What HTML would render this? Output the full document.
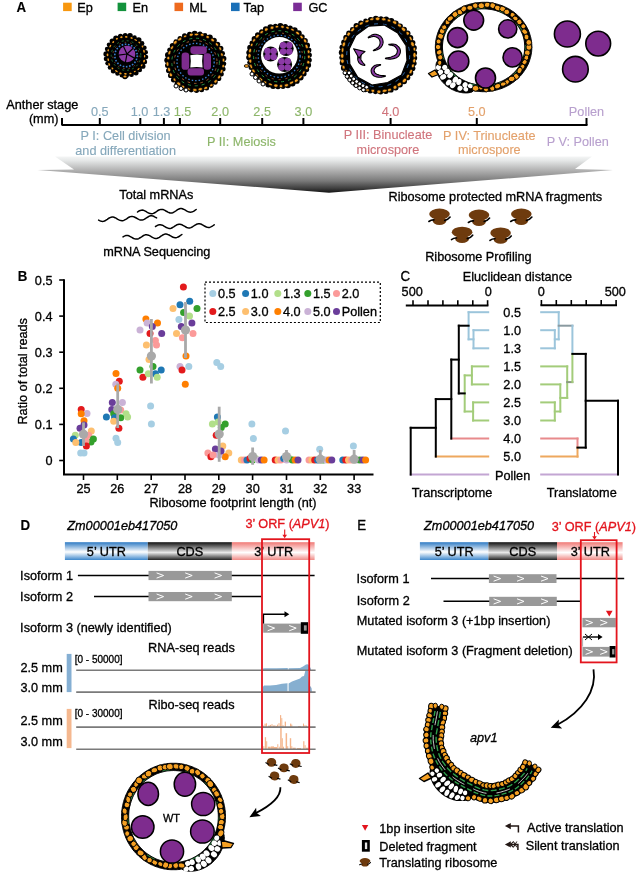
<!DOCTYPE html>
<html><head><meta charset="utf-8"><title>Figure</title>
<style>html,body{margin:0;padding:0;background:#fff;} svg{display:block;} text{font-family:"Liberation Sans", Arial, sans-serif;}</style>
</head><body>
<svg width="637" height="878" viewBox="0 0 637 878">
<rect width="637" height="878" fill="#fff"/>
<text transform="translate(16.60,11.70) scale(1,1.07)" font-size="13.3" text-anchor="start" fill="#000" stroke="#000" stroke-width="0.12" font-weight="bold" font-style="normal" >A</text>
<rect x="63.1" y="2.7" width="8.6" height="8.4" fill="#f7970f"/>
<text transform="translate(77.30,11.60) scale(1,1.07)" font-size="12.7" text-anchor="start" fill="#000" stroke="#000" stroke-width="0.3" font-weight="normal" font-style="normal" >Ep</text>
<rect x="117.6" y="2.7" width="8.6" height="8.4" fill="#13923c"/>
<text transform="translate(132.50,11.60) scale(1,1.07)" font-size="12.7" text-anchor="start" fill="#000" stroke="#000" stroke-width="0.3" font-weight="normal" font-style="normal" >En</text>
<rect x="174.5" y="2.7" width="8.6" height="8.4" fill="#ee6a1e"/>
<text transform="translate(189.20,11.60) scale(1,1.07)" font-size="12.7" text-anchor="start" fill="#000" stroke="#000" stroke-width="0.3" font-weight="normal" font-style="normal" >ML</text>
<rect x="231" y="2.7" width="8.6" height="8.4" fill="#1a70b8"/>
<text transform="translate(243.60,11.60) scale(1,1.07)" font-size="12.7" text-anchor="start" fill="#000" stroke="#000" stroke-width="0.3" font-weight="normal" font-style="normal" >Tap</text>
<rect x="293.2" y="2.7" width="8.6" height="8.4" fill="#7b2d96"/>
<text transform="translate(308.50,11.60) scale(1,1.07)" font-size="12.7" text-anchor="start" fill="#000" stroke="#000" stroke-width="0.3" font-weight="normal" font-style="normal" >GC</text>
<text transform="translate(6.30,109.00) scale(1,1.07)" font-size="12.7" text-anchor="start" fill="#000" stroke="#000" stroke-width="0.3" font-weight="normal" font-style="normal" >Anther stage</text>
<text transform="translate(58.50,122.60) scale(1,1.07)" font-size="12.7" text-anchor="end" fill="#000" stroke="#000" stroke-width="0.3" font-weight="normal" font-style="normal" >(mm)</text>
<line x1="61.5" y1="125" x2="587.5" y2="125" stroke="#000" stroke-width="2"/>
<line x1="62" y1="118" x2="62" y2="125" stroke="#000" stroke-width="2"/>
<line x1="99.8" y1="118" x2="99.8" y2="125" stroke="#000" stroke-width="2"/>
<text transform="translate(99.80,116.10) scale(1,1.07)" font-size="12.7" text-anchor="middle" fill="#86a8bb" stroke="#86a8bb" stroke-width="0.12" font-weight="normal" font-style="normal" >0.5</text>
<line x1="140.3" y1="118" x2="140.3" y2="125" stroke="#000" stroke-width="2"/>
<text transform="translate(139.60,116.10) scale(1,1.07)" font-size="12.7" text-anchor="middle" fill="#86a8bb" stroke="#86a8bb" stroke-width="0.12" font-weight="normal" font-style="normal" >1.0</text>
<line x1="163.9" y1="118" x2="163.9" y2="125" stroke="#000" stroke-width="2"/>
<text transform="translate(161.60,116.10) scale(1,1.07)" font-size="12.7" text-anchor="middle" fill="#86a8bb" stroke="#86a8bb" stroke-width="0.12" font-weight="normal" font-style="normal" >1.3</text>
<line x1="179.9" y1="118" x2="179.9" y2="125" stroke="#000" stroke-width="2"/>
<text transform="translate(182.60,116.10) scale(1,1.07)" font-size="12.7" text-anchor="middle" fill="#8db66a" stroke="#8db66a" stroke-width="0.12" font-weight="normal" font-style="normal" >1.5</text>
<line x1="220.2" y1="118" x2="220.2" y2="125" stroke="#000" stroke-width="2"/>
<text transform="translate(220.20,116.10) scale(1,1.07)" font-size="12.7" text-anchor="middle" fill="#8db66a" stroke="#8db66a" stroke-width="0.12" font-weight="normal" font-style="normal" >2.0</text>
<line x1="262.2" y1="118" x2="262.2" y2="125" stroke="#000" stroke-width="2"/>
<text transform="translate(262.20,116.10) scale(1,1.07)" font-size="12.7" text-anchor="middle" fill="#8db66a" stroke="#8db66a" stroke-width="0.12" font-weight="normal" font-style="normal" >2.5</text>
<line x1="303.4" y1="118" x2="303.4" y2="125" stroke="#000" stroke-width="2"/>
<text transform="translate(303.40,116.10) scale(1,1.07)" font-size="12.7" text-anchor="middle" fill="#8db66a" stroke="#8db66a" stroke-width="0.12" font-weight="normal" font-style="normal" >3.0</text>
<line x1="390.6" y1="118" x2="390.6" y2="125" stroke="#000" stroke-width="2"/>
<text transform="translate(390.60,116.10) scale(1,1.07)" font-size="12.7" text-anchor="middle" fill="#d0757d" stroke="#d0757d" stroke-width="0.12" font-weight="normal" font-style="normal" >4.0</text>
<line x1="476.8" y1="118" x2="476.8" y2="125" stroke="#000" stroke-width="2"/>
<text transform="translate(476.80,116.10) scale(1,1.07)" font-size="12.7" text-anchor="middle" fill="#e3a16b" stroke="#e3a16b" stroke-width="0.12" font-weight="normal" font-style="normal" >5.0</text>
<line x1="586.5" y1="118" x2="586.5" y2="125" stroke="#000" stroke-width="2"/>
<text transform="translate(586.50,116.10) scale(1,1.07)" font-size="12.7" text-anchor="middle" fill="#b8a0ce" stroke="#b8a0ce" stroke-width="0.12" font-weight="normal" font-style="normal" >Pollen</text>
<text transform="translate(125.60,139.80) scale(1,1.07)" font-size="12.7" text-anchor="middle" fill="#86a8bb" stroke="#86a8bb" stroke-width="0.12" font-weight="normal" font-style="normal" >P I: Cell division</text>
<text transform="translate(125.60,154.60) scale(1,1.07)" font-size="12.7" text-anchor="middle" fill="#86a8bb" stroke="#86a8bb" stroke-width="0.12" font-weight="normal" font-style="normal" >and differentiation</text>
<text transform="translate(241.40,145.80) scale(1,1.07)" font-size="12.7" text-anchor="middle" fill="#8db66a" stroke="#8db66a" stroke-width="0.12" font-weight="normal" font-style="normal" >P II: Meiosis</text>
<text transform="translate(388.00,139.00) scale(1,1.07)" font-size="12.7" text-anchor="middle" fill="#d0757d" stroke="#d0757d" stroke-width="0.12" font-weight="normal" font-style="normal" >P III: Binucleate</text>
<text transform="translate(388.00,154.40) scale(1,1.07)" font-size="12.7" text-anchor="middle" fill="#d0757d" stroke="#d0757d" stroke-width="0.12" font-weight="normal" font-style="normal" >microspore</text>
<text transform="translate(489.30,139.80) scale(1,1.07)" font-size="12.7" text-anchor="middle" fill="#e3a16b" stroke="#e3a16b" stroke-width="0.12" font-weight="normal" font-style="normal" >P IV: Trinucleate</text>
<text transform="translate(489.30,154.40) scale(1,1.07)" font-size="12.7" text-anchor="middle" fill="#e3a16b" stroke="#e3a16b" stroke-width="0.12" font-weight="normal" font-style="normal" >microspore</text>
<text transform="translate(577.70,146.00) scale(1,1.07)" font-size="12.7" text-anchor="middle" fill="#b8a0ce" stroke="#b8a0ce" stroke-width="0.12" font-weight="normal" font-style="normal" >P V: Pollen</text>
<defs><linearGradient id="gA" x1="0" y1="156" x2="0" y2="192.5" gradientUnits="userSpaceOnUse"><stop offset="0" stop-color="#f6f7f7"/><stop offset="0.12" stop-color="#e6e8e8"/><stop offset="0.4" stop-color="#b0b0b0"/><stop offset="0.68" stop-color="#7a7a7a"/><stop offset="0.9" stop-color="#3a3a3a"/><stop offset="1" stop-color="#151515"/></linearGradient></defs>
<polygon points="55,156.5 592,156.5 575,169 613,170 329,192.7 37.5,170 74,169.5" fill="url(#gA)"/>
<text transform="translate(156.30,198.70) scale(1,1.07)" font-size="12.7" text-anchor="middle" fill="#000" stroke="#000" stroke-width="0.3" font-weight="normal" font-style="normal" >Total mRNAs</text>
<text transform="translate(156.80,255.80) scale(1,1.07)" font-size="12.7" text-anchor="middle" fill="#000" stroke="#000" stroke-width="0.3" font-weight="normal" font-style="normal" >mRNA Sequencing</text>
<polyline points="137.5,212.0 138.4,211.3 139.4,210.8 140.4,210.4 141.3,210.2 142.3,210.1 143.3,210.3 144.3,210.6 145.3,211.1 146.3,211.7 147.3,212.3 148.3,212.8 149.3,213.3 150.3,213.6 151.3,213.7 152.3,213.7 153.2,213.4 154.2,213.0 155.1,212.5 156.1,211.8 157.1,211.2 158.0,210.5 159.0,210.0 159.9,209.6 160.9,209.4 161.9,209.4 162.9,209.6 163.9,209.9 164.9,210.4 165.9,211.0 166.9,211.5 167.9,212.1 168.9,212.5 169.9,212.9 170.8,213.0 171.8,212.9 172.8,212.7 173.8,212.2 174.7,211.7 175.7,211.0 176.6,210.3 177.6,209.7 178.5,209.2 179.5,208.8 180.5,208.6 181.4,208.6 182.4,208.8 183.4,209.2 184.4,209.7 185.4,210.2 186.4,210.8 187.4,211.4 188.4,211.8 189.4,212.1 190.4,212.2 191.4,212.1 192.4,211.9 193.3,211.4 194.3,210.8 195.2,210.2 196.2,209.5" fill="none" stroke="#000" stroke-width="1.5" stroke-linecap="round"/>
<polyline points="98.6,220.1 99.6,220.6 100.6,221.0 101.6,221.3 102.5,221.4 103.5,221.3 104.5,221.0 105.4,220.5 106.4,219.9 107.3,219.3 108.2,218.6 109.2,218.0 110.1,217.6 111.1,217.2 112.1,217.1 113.0,217.1 114.0,217.3 115.0,217.7 116.0,218.2 117.0,218.8 117.9,219.4 118.9,219.9 119.9,220.3 120.9,220.6 121.9,220.7 122.8,220.7 123.8,220.4 124.7,219.9 125.7,219.4 126.6,218.8 127.6,218.1 128.5,217.5 129.5,217.0 130.4,216.6 131.4,216.4 132.4,216.4 133.3,216.6 134.3,217.0 135.3,217.5 136.3,218.0 137.3,218.6 138.3,219.2 139.2,219.6 140.2,219.9 141.2,220.1 142.2,220.0 143.1,219.8 144.1,219.4 145.0,218.8 146.0,218.2 146.9,217.6 147.9,217.0 148.8,216.4 149.8,216.0 150.7,215.8 151.7,215.8 152.7,215.9 153.7,216.3 154.6,216.8 155.6,217.3 156.6,217.9" fill="none" stroke="#000" stroke-width="1.5" stroke-linecap="round"/>
<polyline points="155.5,226.5 156.5,225.9 157.4,225.3 158.4,224.9 159.4,224.7 160.3,224.7 161.3,224.9 162.3,225.2 163.3,225.7 164.3,226.3 165.3,226.9 166.3,227.5 167.3,227.9 168.3,228.3 169.2,228.4 170.2,228.4 171.2,228.2 172.2,227.8 173.1,227.2 174.1,226.6 175.1,225.9 176.0,225.3 177.0,224.8 178.0,224.4 178.9,224.2 179.9,224.2 180.9,224.4 181.9,224.8 182.9,225.3 183.9,225.8 184.9,226.4 185.9,227.0 186.8,227.5 187.8,227.8 188.8,227.9 189.8,227.9 190.8,227.6 191.7,227.2 192.7,226.7 193.7,226.0 194.6,225.4 195.6,224.8 196.6,224.3 197.5,223.9 198.5,223.7 199.5,223.7 200.5,223.9 201.4,224.3 202.4,224.8 203.4,225.4 204.4,226.0 205.4,226.5 206.4,227.0 207.4,227.3 208.4,227.4 209.4,227.4 210.3,227.1 211.3,226.7 212.3,226.1 213.2,225.5 214.2,224.8" fill="none" stroke="#000" stroke-width="1.5" stroke-linecap="round"/>
<polyline points="123.0,236.9 123.9,236.3 124.9,235.9 125.9,235.6 126.9,235.5 127.8,235.6 128.8,235.8 129.8,236.3 130.8,236.8 131.8,237.4 132.8,238.0 133.8,238.5 134.8,238.9 135.8,239.1 136.8,239.1 137.8,238.9 138.8,238.6 139.7,238.0 140.7,237.4 141.6,236.8 142.6,236.1 143.6,235.5 144.5,235.1 145.5,234.8 146.5,234.8 147.5,234.9 148.5,235.2 149.5,235.7 150.5,236.2 151.5,236.8 152.5,237.4 153.5,237.9 154.5,238.2 155.5,238.4 156.4,238.4 157.4,238.2 158.4,237.8 159.4,237.3 160.3,236.6 161.3,236.0 162.2,235.3 163.2,234.8 164.2,234.4 165.1,234.1 166.1,234.1 167.1,234.2 168.1,234.6 169.1,235.0 170.1,235.6 171.1,236.2 172.1,236.8 173.1,237.2 174.1,237.6 175.1,237.7 176.1,237.7 177.1,237.4 178.0,237.0 179.0,236.5 179.9,235.8 180.9,235.2 181.9,234.5" fill="none" stroke="#000" stroke-width="1.5" stroke-linecap="round"/>
<text transform="translate(495.30,200.70) scale(1,1.07)" font-size="12.7" text-anchor="middle" fill="#000" stroke="#000" stroke-width="0.3" font-weight="normal" font-style="normal" >Ribosome protected mRNA fragments</text>
<text transform="translate(478.40,261.00) scale(1,1.07)" font-size="12.7" text-anchor="middle" fill="#000" stroke="#000" stroke-width="0.3" font-weight="normal" font-style="normal" >Ribosome Profiling</text>
<g transform="translate(439.5,216.5) scale(1.0)"><ellipse cx="0" cy="-2.4" rx="10.3" ry="5.5" fill="#6e3b0e"/><ellipse cx="0" cy="4.3" rx="6.9" ry="4.1" fill="#6e3b0e"/><path d="M-10.6,5 Q-8.2,3.2 -5.6,3.4" fill="none" stroke="#000" stroke-width="1.6" stroke-linecap="round"/><path d="M5.2,4 Q8.6,3.2 10.6,0.6" fill="none" stroke="#000" stroke-width="1.6" stroke-linecap="round"/></g>
<g transform="translate(479.0,217.5) scale(1.0)"><ellipse cx="0" cy="-2.4" rx="10.3" ry="5.5" fill="#6e3b0e"/><ellipse cx="0" cy="4.3" rx="6.9" ry="4.1" fill="#6e3b0e"/><path d="M-10.6,5 Q-8.2,3.2 -5.6,3.4" fill="none" stroke="#000" stroke-width="1.6" stroke-linecap="round"/><path d="M5.2,4 Q8.6,3.2 10.6,0.6" fill="none" stroke="#000" stroke-width="1.6" stroke-linecap="round"/></g>
<g transform="translate(521.3,216.5) scale(1.0)"><ellipse cx="0" cy="-2.4" rx="10.3" ry="5.5" fill="#6e3b0e"/><ellipse cx="0" cy="4.3" rx="6.9" ry="4.1" fill="#6e3b0e"/><path d="M-10.6,5 Q-8.2,3.2 -5.6,3.4" fill="none" stroke="#000" stroke-width="1.6" stroke-linecap="round"/><path d="M5.2,4 Q8.6,3.2 10.6,0.6" fill="none" stroke="#000" stroke-width="1.6" stroke-linecap="round"/></g>
<g transform="translate(462.1,234.6) scale(1.0)"><ellipse cx="0" cy="-2.4" rx="10.3" ry="5.5" fill="#6e3b0e"/><ellipse cx="0" cy="4.3" rx="6.9" ry="4.1" fill="#6e3b0e"/><path d="M-10.6,5 Q-8.2,3.2 -5.6,3.4" fill="none" stroke="#000" stroke-width="1.6" stroke-linecap="round"/><path d="M5.2,4 Q8.6,3.2 10.6,0.6" fill="none" stroke="#000" stroke-width="1.6" stroke-linecap="round"/></g>
<g transform="translate(500.6,235.4) scale(1.0)"><ellipse cx="0" cy="-2.4" rx="10.3" ry="5.5" fill="#6e3b0e"/><ellipse cx="0" cy="4.3" rx="6.9" ry="4.1" fill="#6e3b0e"/><path d="M-10.6,5 Q-8.2,3.2 -5.6,3.4" fill="none" stroke="#000" stroke-width="1.6" stroke-linecap="round"/><path d="M5.2,4 Q8.6,3.2 10.6,0.6" fill="none" stroke="#000" stroke-width="1.6" stroke-linecap="round"/></g>
<ellipse cx="126" cy="55.5" rx="20.2" ry="20.2" fill="#000"/>
<circle cx="144.9" cy="61.9" r="2.3" fill="#000"/>
<circle cx="142.9" cy="66.2" r="2.6" fill="#000"/>
<circle cx="139.8" cy="69.9" r="2.3" fill="#000"/>
<circle cx="136.0" cy="72.8" r="2.6" fill="#000"/>
<circle cx="131.5" cy="74.7" r="2.4" fill="#000"/>
<circle cx="126.8" cy="75.5" r="2.2" fill="#000"/>
<circle cx="122.0" cy="75.1" r="2.5" fill="#000"/>
<circle cx="117.4" cy="73.5" r="2.2" fill="#000"/>
<circle cx="113.3" cy="71.0" r="2.5" fill="#000"/>
<circle cx="110.0" cy="67.5" r="2.3" fill="#000"/>
<circle cx="107.6" cy="63.3" r="2.3" fill="#000"/>
<circle cx="106.3" cy="58.7" r="2.5" fill="#000"/>
<circle cx="106.1" cy="53.9" r="2.7" fill="#000"/>
<circle cx="107.1" cy="49.1" r="2.3" fill="#000"/>
<circle cx="109.1" cy="44.8" r="2.4" fill="#000"/>
<circle cx="112.2" cy="41.1" r="2.6" fill="#000"/>
<circle cx="116.0" cy="38.2" r="2.8" fill="#000"/>
<circle cx="120.5" cy="36.3" r="2.6" fill="#000"/>
<circle cx="125.2" cy="35.5" r="2.5" fill="#000"/>
<circle cx="130.0" cy="35.9" r="2.8" fill="#000"/>
<circle cx="134.6" cy="37.5" r="2.2" fill="#000"/>
<circle cx="138.7" cy="40.0" r="2.8" fill="#000"/>
<circle cx="142.0" cy="43.5" r="2.4" fill="#000"/>
<circle cx="144.4" cy="47.7" r="2.3" fill="#000"/>
<circle cx="145.7" cy="52.3" r="2.3" fill="#000"/>
<circle cx="145.9" cy="57.1" r="2.4" fill="#000"/>
<circle cx="125" cy="76.5" r="2.8" fill="#000"/><ellipse cx="125" cy="76.5" rx="1.6" ry="1.1" fill="#f5a023"/>
<ellipse cx="138.5" cy="69.1" rx="1.3" ry="0.7" transform="rotate(137 138.5 69.1)" fill="#f5a023"/>
<ellipse cx="134.8" cy="71.5" rx="1.1" ry="0.7" transform="rotate(152 134.8 71.5)" fill="#f5a023"/>
<ellipse cx="130.4" cy="73.5" rx="1.2" ry="0.8" transform="rotate(167 130.4 73.5)" fill="#f5a023"/>
<ellipse cx="125.4" cy="73.9" rx="1.4" ry="0.8" transform="rotate(182 125.4 73.9)" fill="#f5a023"/>
<ellipse cx="120.4" cy="73.4" rx="1.3" ry="0.9" transform="rotate(197 120.4 73.4)" fill="#f5a023"/>
<ellipse cx="116.4" cy="71.1" rx="1.5" ry="0.7" transform="rotate(212 116.4 71.1)" fill="#f5a023"/>
<ellipse cx="112.4" cy="68.4" rx="1.1" ry="0.8" transform="rotate(227 112.4 68.4)" fill="#f5a023"/>
<ellipse cx="109.2" cy="64.4" rx="1.4" ry="0.8" transform="rotate(242 109.2 64.4)" fill="#f5a023"/>
<ellipse cx="108.2" cy="59.6" rx="1.4" ry="0.8" transform="rotate(257 108.2 59.6)" fill="#f5a023"/>
<ellipse cx="107.5" cy="54.9" rx="1.4" ry="0.9" transform="rotate(272 107.5 54.9)" fill="#f5a023"/>
<ellipse cx="108.2" cy="50.3" rx="1.1" ry="0.8" transform="rotate(287 108.2 50.3)" fill="#f5a023"/>
<ellipse cx="110.3" cy="46.1" rx="1.4" ry="0.7" transform="rotate(302 110.3 46.1)" fill="#f5a023"/>
<ellipse cx="113.2" cy="42.1" rx="1.1" ry="0.8" transform="rotate(317 113.2 42.1)" fill="#f5a023"/>
<ellipse cx="116.9" cy="38.8" rx="1.1" ry="0.9" transform="rotate(332 116.9 38.8)" fill="#f5a023"/>
<ellipse cx="121.4" cy="37.2" rx="1.2" ry="0.9" transform="rotate(347 121.4 37.2)" fill="#f5a023"/>
<ellipse cx="126.2" cy="36.9" rx="1.3" ry="0.9" transform="rotate(362 126.2 36.9)" fill="#f5a023"/>
<ellipse cx="131.6" cy="38.0" rx="1.2" ry="0.8" transform="rotate(377 131.6 38.0)" fill="#f5a023"/>
<ellipse cx="135.7" cy="40.0" rx="1.5" ry="0.7" transform="rotate(392 135.7 40.0)" fill="#f5a023"/>
<ellipse cx="139.3" cy="42.5" rx="1.1" ry="0.8" transform="rotate(407 139.3 42.5)" fill="#f5a023"/>
<ellipse cx="142.5" cy="46.5" rx="1.0" ry="0.8" transform="rotate(422 142.5 46.5)" fill="#f5a023"/>
<ellipse cx="144.0" cy="51.3" rx="1.5" ry="0.8" transform="rotate(437 144.0 51.3)" fill="#f5a023"/>
<ellipse cx="144.6" cy="56.2" rx="1.3" ry="0.7" transform="rotate(452 144.6 56.2)" fill="#f5a023"/>
<ellipse cx="144.1" cy="61.1" rx="1.4" ry="0.9" transform="rotate(467 144.1 61.1)" fill="#f5a023"/>
<ellipse cx="141.7" cy="65.2" rx="1.1" ry="0.8" transform="rotate(482 141.7 65.2)" fill="#f5a023"/>
<ellipse cx="126" cy="55.5" rx="14.8" ry="14.8" fill="none" stroke="#2e9e4a" stroke-width="0.7" stroke-dasharray="2 3" opacity="1"/>
<ellipse cx="126" cy="55.5" rx="13.2" ry="13.2" fill="none" stroke="#c8703a" stroke-width="0.6" stroke-dasharray="1.5 4" opacity="1"/>
<ellipse cx="126" cy="55.5" rx="11.2" ry="11.2" fill="none" stroke="#3b7fcf" stroke-width="1.6" stroke-dasharray="1.6 1.6" opacity="1"/>
<circle cx="127" cy="54" r="8.3" fill="#8c3aa6"/>
<line x1="127" y1="54" x2="134.5" y2="58.1" stroke="#000" stroke-width="1.2"/>
<line x1="127" y1="54" x2="125.4" y2="62.4" stroke="#000" stroke-width="1.2"/>
<line x1="127" y1="54" x2="118.6" y2="55.1" stroke="#000" stroke-width="1.2"/>
<line x1="127" y1="54" x2="123.4" y2="46.3" stroke="#000" stroke-width="1.2"/>
<line x1="127" y1="54" x2="133.2" y2="48.2" stroke="#000" stroke-width="1.2"/>
<ellipse cx="195.6" cy="62" rx="28.6" ry="28.6" fill="#000"/>
<circle cx="223.9" cy="63.8" r="2.4" fill="#000"/>
<circle cx="223.1" cy="68.9" r="2.5" fill="#000"/>
<circle cx="221.3" cy="73.9" r="2.5" fill="#000"/>
<circle cx="218.7" cy="78.4" r="2.6" fill="#000"/>
<circle cx="215.3" cy="82.4" r="2.4" fill="#000"/>
<circle cx="211.2" cy="85.6" r="2.4" fill="#000"/>
<circle cx="206.6" cy="88.1" r="2.5" fill="#000"/>
<circle cx="201.6" cy="89.7" r="2.5" fill="#000"/>
<circle cx="196.5" cy="90.3" r="2.6" fill="#000"/>
<circle cx="191.2" cy="90.0" r="2.4" fill="#000"/>
<circle cx="186.2" cy="88.7" r="3.0" fill="#000"/>
<circle cx="181.4" cy="86.5" r="2.8" fill="#000"/>
<circle cx="177.1" cy="83.5" r="2.5" fill="#000"/>
<circle cx="173.5" cy="79.8" r="2.6" fill="#000"/>
<circle cx="170.6" cy="75.4" r="2.6" fill="#000"/>
<circle cx="168.6" cy="70.6" r="2.6" fill="#000"/>
<circle cx="167.5" cy="65.5" r="2.5" fill="#000"/>
<circle cx="167.3" cy="60.2" r="3.0" fill="#000"/>
<circle cx="168.1" cy="55.1" r="3.1" fill="#000"/>
<circle cx="169.9" cy="50.1" r="2.7" fill="#000"/>
<circle cx="172.5" cy="45.6" r="2.7" fill="#000"/>
<circle cx="175.9" cy="41.6" r="2.4" fill="#000"/>
<circle cx="180.0" cy="38.4" r="2.5" fill="#000"/>
<circle cx="184.6" cy="35.9" r="2.6" fill="#000"/>
<circle cx="189.6" cy="34.3" r="2.6" fill="#000"/>
<circle cx="194.7" cy="33.7" r="3.0" fill="#000"/>
<circle cx="200.0" cy="34.0" r="2.5" fill="#000"/>
<circle cx="205.0" cy="35.3" r="2.4" fill="#000"/>
<circle cx="209.8" cy="37.5" r="3.0" fill="#000"/>
<circle cx="214.1" cy="40.5" r="2.7" fill="#000"/>
<circle cx="217.7" cy="44.2" r="2.5" fill="#000"/>
<circle cx="220.6" cy="48.6" r="2.8" fill="#000"/>
<circle cx="222.6" cy="53.4" r="2.4" fill="#000"/>
<circle cx="223.7" cy="58.5" r="2.7" fill="#000"/>
<ellipse cx="211.4" cy="85.2" rx="1.8" ry="1.3" transform="rotate(146 211.4 85.2)" fill="#f5a023" stroke="#000" stroke-width="0.6"/>
<ellipse cx="205.7" cy="88.0" rx="2.0" ry="1.4" transform="rotate(158 205.7 88.0)" fill="#f5a023" stroke="#000" stroke-width="0.6"/>
<ellipse cx="200.3" cy="89.2" rx="2.2" ry="1.5" transform="rotate(170 200.3 89.2)" fill="#f5a023" stroke="#000" stroke-width="0.6"/>
<ellipse cx="194.9" cy="90.0" rx="2.2" ry="1.4" transform="rotate(182 194.9 90.0)" fill="#f5a023" stroke="#000" stroke-width="0.6"/>
<ellipse cx="188.6" cy="89.0" rx="1.8" ry="1.1" transform="rotate(194 188.6 89.0)" fill="#f5a023" stroke="#000" stroke-width="0.6"/>
<ellipse cx="183.0" cy="86.8" rx="1.8" ry="1.4" transform="rotate(206 183.0 86.8)" fill="#f5a023" stroke="#000" stroke-width="0.6"/>
<ellipse cx="178.8" cy="83.8" rx="2.3" ry="1.5" transform="rotate(218 178.8 83.8)" fill="#f5a023" stroke="#000" stroke-width="0.6"/>
<ellipse cx="174.6" cy="79.7" rx="1.8" ry="1.2" transform="rotate(230 174.6 79.7)" fill="#f5a023" stroke="#000" stroke-width="0.6"/>
<ellipse cx="170.8" cy="74.8" rx="2.0" ry="1.5" transform="rotate(242 170.8 74.8)" fill="#f5a023" stroke="#000" stroke-width="0.6"/>
<ellipse cx="169.1" cy="69.6" rx="2.1" ry="1.5" transform="rotate(254 169.1 69.6)" fill="#f5a023" stroke="#000" stroke-width="0.6"/>
<ellipse cx="167.5" cy="64.0" rx="2.2" ry="1.4" transform="rotate(266 167.5 64.0)" fill="#f5a023" stroke="#000" stroke-width="0.6"/>
<ellipse cx="168.3" cy="58.1" rx="1.7" ry="1.5" transform="rotate(278 168.3 58.1)" fill="#f5a023" stroke="#000" stroke-width="0.6"/>
<ellipse cx="169.4" cy="52.7" rx="2.3" ry="1.3" transform="rotate(290 169.4 52.7)" fill="#f5a023" stroke="#000" stroke-width="0.6"/>
<ellipse cx="172.0" cy="47.6" rx="2.1" ry="1.2" transform="rotate(302 172.0 47.6)" fill="#f5a023" stroke="#000" stroke-width="0.6"/>
<ellipse cx="175.3" cy="42.4" rx="2.2" ry="1.5" transform="rotate(314 175.3 42.4)" fill="#f5a023" stroke="#000" stroke-width="0.6"/>
<ellipse cx="179.8" cy="39.2" rx="2.3" ry="1.4" transform="rotate(326 179.8 39.2)" fill="#f5a023" stroke="#000" stroke-width="0.6"/>
<ellipse cx="185.1" cy="36.3" rx="1.7" ry="1.1" transform="rotate(338 185.1 36.3)" fill="#f5a023" stroke="#000" stroke-width="0.6"/>
<ellipse cx="191.2" cy="34.7" rx="2.0" ry="1.5" transform="rotate(350 191.2 34.7)" fill="#f5a023" stroke="#000" stroke-width="0.6"/>
<ellipse cx="196.5" cy="34.5" rx="2.2" ry="1.2" transform="rotate(362 196.5 34.5)" fill="#f5a023" stroke="#000" stroke-width="0.6"/>
<ellipse cx="202.2" cy="34.9" rx="1.8" ry="1.4" transform="rotate(374 202.2 34.9)" fill="#f5a023" stroke="#000" stroke-width="0.6"/>
<ellipse cx="207.6" cy="37.0" rx="1.7" ry="1.5" transform="rotate(386 207.6 37.0)" fill="#f5a023" stroke="#000" stroke-width="0.6"/>
<ellipse cx="212.6" cy="40.1" rx="2.0" ry="1.5" transform="rotate(398 212.6 40.1)" fill="#f5a023" stroke="#000" stroke-width="0.6"/>
<ellipse cx="216.9" cy="44.5" rx="2.0" ry="1.3" transform="rotate(410 216.9 44.5)" fill="#f5a023" stroke="#000" stroke-width="0.6"/>
<ellipse cx="220.2" cy="48.6" rx="1.9" ry="1.2" transform="rotate(422 220.2 48.6)" fill="#f5a023" stroke="#000" stroke-width="0.6"/>
<ellipse cx="221.9" cy="54.6" rx="1.7" ry="1.3" transform="rotate(434 221.9 54.6)" fill="#f5a023" stroke="#000" stroke-width="0.6"/>
<ellipse cx="223.5" cy="60.1" rx="1.8" ry="1.3" transform="rotate(446 223.5 60.1)" fill="#f5a023" stroke="#000" stroke-width="0.6"/>
<ellipse cx="223.2" cy="66.1" rx="1.7" ry="1.3" transform="rotate(458 223.2 66.1)" fill="#f5a023" stroke="#000" stroke-width="0.6"/>
<ellipse cx="221.5" cy="71.4" rx="2.1" ry="1.3" transform="rotate(470 221.5 71.4)" fill="#f5a023" stroke="#000" stroke-width="0.6"/>
<ellipse cx="219.2" cy="77.0" rx="2.2" ry="1.3" transform="rotate(482 219.2 77.0)" fill="#f5a023" stroke="#000" stroke-width="0.6"/>
<ellipse cx="215.7" cy="81.3" rx="2.0" ry="1.4" transform="rotate(494 215.7 81.3)" fill="#f5a023" stroke="#000" stroke-width="0.6"/>
<ellipse cx="195.6" cy="62" rx="23.8" ry="23.8" fill="none" stroke="#2e9e4a" stroke-width="0.9" stroke-dasharray="3 4" opacity="1"/>
<ellipse cx="195.6" cy="62" rx="21.4" ry="21.4" fill="none" stroke="#c8703a" stroke-width="0.8" stroke-dasharray="2.5 4" opacity="1"/>
<ellipse cx="195.6" cy="62" rx="18.6" ry="18.6" fill="none" stroke="#3b7fcf" stroke-width="1.3" stroke-dasharray="1.5 2" opacity="1"/>
<rect x="190.4" y="46.3" width="16.4" height="7.6" rx="3" fill="#7e2c8e"/>
<rect x="187.6" y="68.2" width="16.4" height="7.4" rx="3" fill="#7e2c8e"/>
<rect x="181.6" y="52.4" width="7.6" height="17.4" rx="3.4" fill="#7e2c8e"/>
<rect x="203.6" y="53.2" width="7.4" height="16.6" rx="3.2" fill="#7e2c8e"/>
<path d="M190.3,55.2 Q196.5,54 202.6,55 Q201.6,61 202.6,67.5 Q196.5,66.4 190.3,67.6 Q191.4,61.4 190.3,55.2 Z" fill="#fff"/>
<circle cx="176.0" cy="86.0" r="2" fill="#fff" stroke="#000" stroke-width="1"/>
<circle cx="181.0" cy="88.5" r="2" fill="#fff" stroke="#000" stroke-width="1"/>
<circle cx="186.0" cy="90.0" r="2" fill="#fff" stroke="#000" stroke-width="1"/>
<ellipse cx="279.2" cy="56.3" rx="30.5" ry="30.5" fill="#000"/>
<circle cx="306.4" cy="69.5" r="2.8" fill="#000"/>
<circle cx="303.9" cy="73.8" r="2.7" fill="#000"/>
<circle cx="300.6" cy="77.6" r="3.0" fill="#000"/>
<circle cx="296.8" cy="80.9" r="2.9" fill="#000"/>
<circle cx="292.5" cy="83.4" r="3.0" fill="#000"/>
<circle cx="287.9" cy="85.3" r="3.0" fill="#000"/>
<circle cx="283.0" cy="86.3" r="2.6" fill="#000"/>
<circle cx="278.0" cy="86.5" r="2.8" fill="#000"/>
<circle cx="273.1" cy="85.9" r="3.0" fill="#000"/>
<circle cx="268.3" cy="84.5" r="3.0" fill="#000"/>
<circle cx="263.8" cy="82.3" r="2.5" fill="#000"/>
<circle cx="259.7" cy="79.4" r="2.5" fill="#000"/>
<circle cx="256.2" cy="75.9" r="2.7" fill="#000"/>
<circle cx="253.3" cy="71.8" r="2.4" fill="#000"/>
<circle cx="251.1" cy="67.4" r="2.5" fill="#000"/>
<circle cx="249.6" cy="62.6" r="2.4" fill="#000"/>
<circle cx="249.0" cy="57.6" r="2.8" fill="#000"/>
<circle cx="249.2" cy="52.6" r="2.9" fill="#000"/>
<circle cx="250.2" cy="47.7" r="3.0" fill="#000"/>
<circle cx="252.0" cy="43.1" r="2.5" fill="#000"/>
<circle cx="254.5" cy="38.8" r="2.9" fill="#000"/>
<circle cx="257.8" cy="35.0" r="2.8" fill="#000"/>
<circle cx="261.6" cy="31.7" r="2.5" fill="#000"/>
<circle cx="265.9" cy="29.2" r="3.0" fill="#000"/>
<circle cx="270.5" cy="27.3" r="3.1" fill="#000"/>
<circle cx="275.4" cy="26.3" r="2.5" fill="#000"/>
<circle cx="280.4" cy="26.1" r="3.0" fill="#000"/>
<circle cx="285.3" cy="26.7" r="2.7" fill="#000"/>
<circle cx="290.1" cy="28.1" r="2.7" fill="#000"/>
<circle cx="294.6" cy="30.3" r="3.1" fill="#000"/>
<circle cx="298.7" cy="33.2" r="3.0" fill="#000"/>
<circle cx="302.2" cy="36.7" r="2.5" fill="#000"/>
<circle cx="305.1" cy="40.8" r="2.7" fill="#000"/>
<circle cx="307.3" cy="45.2" r="2.7" fill="#000"/>
<circle cx="308.8" cy="50.0" r="2.6" fill="#000"/>
<circle cx="309.4" cy="55.0" r="2.5" fill="#000"/>
<circle cx="309.2" cy="60.0" r="2.6" fill="#000"/>
<circle cx="308.2" cy="64.9" r="2.9" fill="#000"/>
<ellipse cx="308.8" cy="56.8" rx="1.7" ry="1.3" transform="rotate(91 308.8 56.8)" fill="#f5a023" stroke="#000" stroke-width="0.6"/>
<ellipse cx="308.3" cy="62.3" rx="1.7" ry="1.6" transform="rotate(102 308.3 62.3)" fill="#f5a023" stroke="#000" stroke-width="0.6"/>
<ellipse cx="306.8" cy="67.9" rx="1.8" ry="1.3" transform="rotate(112 306.8 67.9)" fill="#f5a023" stroke="#000" stroke-width="0.6"/>
<ellipse cx="303.7" cy="72.6" rx="1.9" ry="1.2" transform="rotate(123 303.7 72.6)" fill="#f5a023" stroke="#000" stroke-width="0.6"/>
<ellipse cx="300.6" cy="77.0" rx="2.3" ry="1.2" transform="rotate(133 300.6 77.0)" fill="#f5a023" stroke="#000" stroke-width="0.6"/>
<ellipse cx="296.3" cy="80.6" rx="2.1" ry="1.5" transform="rotate(144 296.3 80.6)" fill="#f5a023" stroke="#000" stroke-width="0.6"/>
<ellipse cx="291.5" cy="82.7" rx="2.2" ry="1.3" transform="rotate(155 291.5 82.7)" fill="#f5a023" stroke="#000" stroke-width="0.6"/>
<ellipse cx="286.4" cy="85.3" rx="2.1" ry="1.5" transform="rotate(165 286.4 85.3)" fill="#f5a023" stroke="#000" stroke-width="0.6"/>
<ellipse cx="281.0" cy="86.1" rx="1.7" ry="1.5" transform="rotate(176 281.0 86.1)" fill="#f5a023" stroke="#000" stroke-width="0.6"/>
<ellipse cx="275.9" cy="85.6" rx="2.1" ry="1.6" transform="rotate(186 275.9 85.6)" fill="#f5a023" stroke="#000" stroke-width="0.6"/>
<ellipse cx="270.4" cy="84.3" rx="2.1" ry="1.2" transform="rotate(197 270.4 84.3)" fill="#f5a023" stroke="#000" stroke-width="0.6"/>
<ellipse cx="265.2" cy="82.3" rx="1.7" ry="1.2" transform="rotate(208 265.2 82.3)" fill="#f5a023" stroke="#000" stroke-width="0.6"/>
<ellipse cx="260.8" cy="79.4" rx="2.2" ry="1.3" transform="rotate(218 260.8 79.4)" fill="#f5a023" stroke="#000" stroke-width="0.6"/>
<ellipse cx="256.9" cy="75.6" rx="1.9" ry="1.1" transform="rotate(229 256.9 75.6)" fill="#f5a023" stroke="#000" stroke-width="0.6"/>
<ellipse cx="253.5" cy="71.0" rx="2.2" ry="1.4" transform="rotate(239 253.5 71.0)" fill="#f5a023" stroke="#000" stroke-width="0.6"/>
<ellipse cx="251.1" cy="66.4" rx="2.4" ry="1.2" transform="rotate(250 251.1 66.4)" fill="#f5a023" stroke="#000" stroke-width="0.6"/>
<ellipse cx="250.3" cy="61.1" rx="2.0" ry="1.5" transform="rotate(261 250.3 61.1)" fill="#f5a023" stroke="#000" stroke-width="0.6"/>
<ellipse cx="249.5" cy="55.7" rx="2.2" ry="1.6" transform="rotate(271 249.5 55.7)" fill="#f5a023" stroke="#000" stroke-width="0.6"/>
<ellipse cx="250.1" cy="50.6" rx="2.2" ry="1.4" transform="rotate(282 250.1 50.6)" fill="#f5a023" stroke="#000" stroke-width="0.6"/>
<ellipse cx="251.7" cy="44.9" rx="1.7" ry="1.2" transform="rotate(292 251.7 44.9)" fill="#f5a023" stroke="#000" stroke-width="0.6"/>
<ellipse cx="254.0" cy="40.4" rx="1.9" ry="1.2" transform="rotate(303 254.0 40.4)" fill="#f5a023" stroke="#000" stroke-width="0.6"/>
<ellipse cx="257.4" cy="36.2" rx="2.3" ry="1.4" transform="rotate(313 257.4 36.2)" fill="#f5a023" stroke="#000" stroke-width="0.6"/>
<ellipse cx="261.7" cy="32.1" rx="1.9" ry="1.3" transform="rotate(324 261.7 32.1)" fill="#f5a023" stroke="#000" stroke-width="0.6"/>
<ellipse cx="266.3" cy="29.5" rx="1.9" ry="1.6" transform="rotate(335 266.3 29.5)" fill="#f5a023" stroke="#000" stroke-width="0.6"/>
<ellipse cx="272.0" cy="27.7" rx="1.9" ry="1.6" transform="rotate(345 272.0 27.7)" fill="#f5a023" stroke="#000" stroke-width="0.6"/>
<ellipse cx="276.9" cy="26.7" rx="1.7" ry="1.3" transform="rotate(356 276.9 26.7)" fill="#f5a023" stroke="#000" stroke-width="0.6"/>
<ellipse cx="282.5" cy="26.9" rx="1.8" ry="1.4" transform="rotate(366 282.5 26.9)" fill="#f5a023" stroke="#000" stroke-width="0.6"/>
<ellipse cx="287.5" cy="27.8" rx="1.7" ry="1.3" transform="rotate(377 287.5 27.8)" fill="#f5a023" stroke="#000" stroke-width="0.6"/>
<ellipse cx="292.5" cy="29.7" rx="1.9" ry="1.2" transform="rotate(388 292.5 29.7)" fill="#f5a023" stroke="#000" stroke-width="0.6"/>
<ellipse cx="297.6" cy="33.1" rx="2.2" ry="1.4" transform="rotate(398 297.6 33.1)" fill="#f5a023" stroke="#000" stroke-width="0.6"/>
<ellipse cx="301.6" cy="37.1" rx="2.0" ry="1.3" transform="rotate(409 301.6 37.1)" fill="#f5a023" stroke="#000" stroke-width="0.6"/>
<ellipse cx="305.1" cy="40.9" rx="2.2" ry="1.4" transform="rotate(419 305.1 40.9)" fill="#f5a023" stroke="#000" stroke-width="0.6"/>
<ellipse cx="306.6" cy="46.4" rx="2.3" ry="1.4" transform="rotate(430 306.6 46.4)" fill="#f5a023" stroke="#000" stroke-width="0.6"/>
<ellipse cx="308.6" cy="51.7" rx="1.8" ry="1.4" transform="rotate(441 308.6 51.7)" fill="#f5a023" stroke="#000" stroke-width="0.6"/>
<ellipse cx="279.2" cy="56.3" rx="25.6" ry="25.6" fill="none" stroke="#2e9e4a" stroke-width="1.0" stroke-dasharray="3 4" opacity="1"/>
<ellipse cx="279.2" cy="56.3" rx="23.3" ry="23.3" fill="none" stroke="#c8703a" stroke-width="0.7" stroke-dasharray="2 5" opacity="1"/>
<ellipse cx="279.2" cy="56.3" rx="21" ry="21" fill="none" stroke="#3b7fcf" stroke-width="1.2" stroke-dasharray="1.5 2.2" opacity="1"/>
<circle cx="279.3" cy="55.3" r="18.3" fill="#fff"/>
<circle cx="270.6" cy="54" r="7.5" fill="#000"/>
<circle cx="267.5" cy="50.9" r="3.25" fill="#8c3aa6"/>
<circle cx="273.7" cy="50.9" r="3.25" fill="#8c3aa6"/>
<circle cx="267.5" cy="57.1" r="3.25" fill="#8c3aa6"/>
<circle cx="273.7" cy="57.1" r="3.25" fill="#8c3aa6"/>
<circle cx="286.2" cy="48.4" r="7.5" fill="#000"/>
<circle cx="283.1" cy="45.3" r="3.25" fill="#8c3aa6"/>
<circle cx="289.3" cy="45.3" r="3.25" fill="#8c3aa6"/>
<circle cx="283.1" cy="51.5" r="3.25" fill="#8c3aa6"/>
<circle cx="289.3" cy="51.5" r="3.25" fill="#8c3aa6"/>
<circle cx="284.6" cy="64.4" r="7.5" fill="#000"/>
<circle cx="281.5" cy="61.3" r="3.25" fill="#8c3aa6"/>
<circle cx="287.7" cy="61.3" r="3.25" fill="#8c3aa6"/>
<circle cx="281.5" cy="67.5" r="3.25" fill="#8c3aa6"/>
<circle cx="287.7" cy="67.5" r="3.25" fill="#8c3aa6"/>
<circle cx="252.0" cy="74.0" r="2" fill="#fff" stroke="#000" stroke-width="1"/>
<circle cx="255.5" cy="77.5" r="2" fill="#fff" stroke="#000" stroke-width="1"/>
<circle cx="259.0" cy="81.0" r="2" fill="#fff" stroke="#000" stroke-width="1"/>
<circle cx="263.0" cy="84.0" r="2" fill="#fff" stroke="#000" stroke-width="1"/>
<ellipse cx="246.5" cy="66" rx="2.3" ry="1.4" fill="#f5a023" stroke="#000" stroke-width="0.8"/>
<ellipse cx="378.2" cy="55.3" rx="36.9" ry="36.9" fill="#000"/>
<circle cx="410.3" cy="73.0" r="3.0" fill="#000"/>
<circle cx="407.4" cy="77.4" r="2.9" fill="#000"/>
<circle cx="404.0" cy="81.3" r="3.0" fill="#000"/>
<circle cx="400.0" cy="84.7" r="2.8" fill="#000"/>
<circle cx="395.6" cy="87.5" r="3.0" fill="#000"/>
<circle cx="390.8" cy="89.7" r="2.9" fill="#000"/>
<circle cx="385.8" cy="91.1" r="2.9" fill="#000"/>
<circle cx="380.6" cy="91.9" r="2.5" fill="#000"/>
<circle cx="375.4" cy="91.8" r="2.4" fill="#000"/>
<circle cx="370.2" cy="91.1" r="2.5" fill="#000"/>
<circle cx="365.2" cy="89.6" r="2.6" fill="#000"/>
<circle cx="360.5" cy="87.4" r="2.5" fill="#000"/>
<circle cx="356.1" cy="84.5" r="3.0" fill="#000"/>
<circle cx="352.2" cy="81.1" r="2.8" fill="#000"/>
<circle cx="348.8" cy="77.1" r="2.8" fill="#000"/>
<circle cx="346.0" cy="72.7" r="2.8" fill="#000"/>
<circle cx="343.8" cy="67.9" r="2.9" fill="#000"/>
<circle cx="342.4" cy="62.9" r="2.7" fill="#000"/>
<circle cx="341.6" cy="57.7" r="2.4" fill="#000"/>
<circle cx="341.7" cy="52.5" r="2.9" fill="#000"/>
<circle cx="342.4" cy="47.3" r="2.9" fill="#000"/>
<circle cx="343.9" cy="42.3" r="2.7" fill="#000"/>
<circle cx="346.1" cy="37.6" r="2.8" fill="#000"/>
<circle cx="349.0" cy="33.2" r="2.8" fill="#000"/>
<circle cx="352.4" cy="29.3" r="2.4" fill="#000"/>
<circle cx="356.4" cy="25.9" r="2.9" fill="#000"/>
<circle cx="360.8" cy="23.1" r="2.6" fill="#000"/>
<circle cx="365.6" cy="20.9" r="2.4" fill="#000"/>
<circle cx="370.6" cy="19.5" r="2.6" fill="#000"/>
<circle cx="375.8" cy="18.7" r="2.9" fill="#000"/>
<circle cx="381.0" cy="18.8" r="2.5" fill="#000"/>
<circle cx="386.2" cy="19.5" r="2.9" fill="#000"/>
<circle cx="391.2" cy="21.0" r="3.1" fill="#000"/>
<circle cx="395.9" cy="23.2" r="2.7" fill="#000"/>
<circle cx="400.3" cy="26.1" r="2.6" fill="#000"/>
<circle cx="404.2" cy="29.5" r="2.7" fill="#000"/>
<circle cx="407.6" cy="33.5" r="2.9" fill="#000"/>
<circle cx="410.4" cy="37.9" r="2.9" fill="#000"/>
<circle cx="412.6" cy="42.7" r="2.8" fill="#000"/>
<circle cx="414.0" cy="47.7" r="2.8" fill="#000"/>
<circle cx="414.8" cy="52.9" r="2.4" fill="#000"/>
<circle cx="414.7" cy="58.1" r="2.5" fill="#000"/>
<circle cx="414.0" cy="63.3" r="2.6" fill="#000"/>
<circle cx="412.5" cy="68.3" r="2.9" fill="#000"/>
<ellipse cx="412.9" cy="65.8" rx="1.9" ry="1.4" transform="rotate(107 412.9 65.8)" fill="#f5a023" stroke="#000" stroke-width="0.6"/>
<ellipse cx="410.8" cy="71.6" rx="2.4" ry="1.4" transform="rotate(116 410.8 71.6)" fill="#f5a023" stroke="#000" stroke-width="0.6"/>
<ellipse cx="407.8" cy="76.3" rx="2.2" ry="1.3" transform="rotate(125 407.8 76.3)" fill="#f5a023" stroke="#000" stroke-width="0.6"/>
<ellipse cx="404.4" cy="80.5" rx="2.6" ry="1.7" transform="rotate(134 404.4 80.5)" fill="#f5a023" stroke="#000" stroke-width="0.6"/>
<ellipse cx="399.4" cy="84.4" rx="2.5" ry="1.8" transform="rotate(143 399.4 84.4)" fill="#f5a023" stroke="#000" stroke-width="0.6"/>
<ellipse cx="395.0" cy="87.3" rx="2.0" ry="1.8" transform="rotate(152 395.0 87.3)" fill="#f5a023" stroke="#000" stroke-width="0.6"/>
<ellipse cx="389.5" cy="89.8" rx="2.0" ry="1.5" transform="rotate(161 389.5 89.8)" fill="#f5a023" stroke="#000" stroke-width="0.6"/>
<ellipse cx="384.6" cy="90.8" rx="2.5" ry="1.5" transform="rotate(170 384.6 90.8)" fill="#f5a023" stroke="#000" stroke-width="0.6"/>
<ellipse cx="378.9" cy="91.8" rx="2.0" ry="1.7" transform="rotate(179 378.9 91.8)" fill="#f5a023" stroke="#000" stroke-width="0.6"/>
<ellipse cx="372.9" cy="90.8" rx="1.8" ry="1.5" transform="rotate(188 372.9 90.8)" fill="#f5a023" stroke="#000" stroke-width="0.6"/>
<ellipse cx="367.3" cy="89.8" rx="2.0" ry="1.4" transform="rotate(197 367.3 89.8)" fill="#f5a023" stroke="#000" stroke-width="0.6"/>
<ellipse cx="361.9" cy="88.1" rx="1.8" ry="1.6" transform="rotate(206 361.9 88.1)" fill="#f5a023" stroke="#000" stroke-width="0.6"/>
<ellipse cx="357.4" cy="84.6" rx="2.6" ry="1.6" transform="rotate(215 357.4 84.6)" fill="#f5a023" stroke="#000" stroke-width="0.6"/>
<ellipse cx="353.1" cy="81.0" rx="2.1" ry="1.5" transform="rotate(224 353.1 81.0)" fill="#f5a023" stroke="#000" stroke-width="0.6"/>
<ellipse cx="349.4" cy="77.0" rx="2.1" ry="1.5" transform="rotate(233 349.4 77.0)" fill="#f5a023" stroke="#000" stroke-width="0.6"/>
<ellipse cx="345.8" cy="71.7" rx="1.9" ry="1.7" transform="rotate(242 345.8 71.7)" fill="#f5a023" stroke="#000" stroke-width="0.6"/>
<ellipse cx="343.6" cy="67.2" rx="2.0" ry="1.4" transform="rotate(251 343.6 67.2)" fill="#f5a023" stroke="#000" stroke-width="0.6"/>
<ellipse cx="342.4" cy="61.1" rx="2.1" ry="1.8" transform="rotate(260 342.4 61.1)" fill="#f5a023" stroke="#000" stroke-width="0.6"/>
<ellipse cx="342.2" cy="55.9" rx="2.3" ry="1.7" transform="rotate(269 342.2 55.9)" fill="#f5a023" stroke="#000" stroke-width="0.6"/>
<ellipse cx="342.6" cy="50.0" rx="2.4" ry="1.3" transform="rotate(278 342.6 50.0)" fill="#f5a023" stroke="#000" stroke-width="0.6"/>
<ellipse cx="343.8" cy="44.4" rx="2.4" ry="1.6" transform="rotate(287 343.8 44.4)" fill="#f5a023" stroke="#000" stroke-width="0.6"/>
<ellipse cx="345.5" cy="38.8" rx="2.6" ry="1.3" transform="rotate(296 345.5 38.8)" fill="#f5a023" stroke="#000" stroke-width="0.6"/>
<ellipse cx="348.6" cy="34.1" rx="2.1" ry="1.6" transform="rotate(305 348.6 34.1)" fill="#f5a023" stroke="#000" stroke-width="0.6"/>
<ellipse cx="352.7" cy="29.7" rx="2.4" ry="1.4" transform="rotate(314 352.7 29.7)" fill="#f5a023" stroke="#000" stroke-width="0.6"/>
<ellipse cx="356.6" cy="26.1" rx="2.0" ry="1.3" transform="rotate(323 356.6 26.1)" fill="#f5a023" stroke="#000" stroke-width="0.6"/>
<ellipse cx="361.2" cy="23.4" rx="2.2" ry="1.4" transform="rotate(332 361.2 23.4)" fill="#f5a023" stroke="#000" stroke-width="0.6"/>
<ellipse cx="367.0" cy="21.3" rx="2.2" ry="1.3" transform="rotate(341 367.0 21.3)" fill="#f5a023" stroke="#000" stroke-width="0.6"/>
<ellipse cx="371.9" cy="19.2" rx="2.1" ry="1.3" transform="rotate(350 371.9 19.2)" fill="#f5a023" stroke="#000" stroke-width="0.6"/>
<ellipse cx="377.6" cy="18.8" rx="2.3" ry="1.7" transform="rotate(359 377.6 18.8)" fill="#f5a023" stroke="#000" stroke-width="0.6"/>
<ellipse cx="383.7" cy="19.3" rx="2.2" ry="1.5" transform="rotate(368 383.7 19.3)" fill="#f5a023" stroke="#000" stroke-width="0.6"/>
<ellipse cx="389.0" cy="20.5" rx="1.9" ry="1.4" transform="rotate(377 389.0 20.5)" fill="#f5a023" stroke="#000" stroke-width="0.6"/>
<ellipse cx="394.7" cy="22.5" rx="2.2" ry="1.6" transform="rotate(386 394.7 22.5)" fill="#f5a023" stroke="#000" stroke-width="0.6"/>
<ellipse cx="399.5" cy="25.5" rx="2.1" ry="1.4" transform="rotate(395 399.5 25.5)" fill="#f5a023" stroke="#000" stroke-width="0.6"/>
<ellipse cx="403.5" cy="29.3" rx="2.6" ry="1.7" transform="rotate(404 403.5 29.3)" fill="#f5a023" stroke="#000" stroke-width="0.6"/>
<ellipse cx="407.7" cy="33.3" rx="1.9" ry="1.6" transform="rotate(413 407.7 33.3)" fill="#f5a023" stroke="#000" stroke-width="0.6"/>
<ellipse cx="410.7" cy="38.5" rx="2.3" ry="1.2" transform="rotate(422 410.7 38.5)" fill="#f5a023" stroke="#000" stroke-width="0.6"/>
<ellipse cx="412.5" cy="44.1" rx="2.5" ry="1.7" transform="rotate(431 412.5 44.1)" fill="#f5a023" stroke="#000" stroke-width="0.6"/>
<ellipse cx="414.4" cy="49.1" rx="1.9" ry="1.3" transform="rotate(440 414.4 49.1)" fill="#f5a023" stroke="#000" stroke-width="0.6"/>
<ellipse cx="414.5" cy="55.1" rx="2.6" ry="1.6" transform="rotate(449 414.5 55.1)" fill="#f5a023" stroke="#000" stroke-width="0.6"/>
<ellipse cx="414.2" cy="60.8" rx="2.2" ry="1.5" transform="rotate(458 414.2 60.8)" fill="#f5a023" stroke="#000" stroke-width="0.6"/>
<ellipse cx="378.2" cy="55.3" rx="31.5" ry="31.5" fill="none" stroke="#3b7fcf" stroke-width="1" stroke-dasharray="4 5" opacity="0.8"/>
<polygon points="407.0,60.5 401.5,75.0 387.7,82.5 372.0,85.0 357.8,77.4 349.8,64.1 349.2,49.0 355.8,35.4 368.4,26.2 384.3,25.1 397.8,33.1 406.1,45.6" fill="#fff" stroke="#000" stroke-width="1.2" stroke-linejoin="round"/>
<polygon points="368.4,37.9 368.8,37.8 369.3,37.6 369.8,37.4 370.4,37.2 371.1,37.0 371.7,36.8 372.4,36.6 373.0,36.5 373.6,36.4 374.0,36.4 374.5,36.5 375.0,36.6 375.5,36.8 376.1,37.0 376.6,37.2 377.1,37.4 377.5,37.7 378.0,38.0 378.3,38.2 378.6,38.5 378.8,38.8 379.0,39.1 379.3,39.5 379.5,39.9 379.7,40.3 379.8,40.8 379.9,41.2 380.0,41.6 380.1,42.1 380.1,42.4 380.1,42.8 380.1,43.2 380.0,43.7 379.9,44.2 379.7,44.6 379.5,45.1 379.3,45.6 379.1,46.0 378.8,46.5 378.5,46.9 378.2,47.3 377.7,47.7 377.2,48.1 376.5,48.5 375.9,48.9 375.3,49.2 374.6,49.6 374.1,49.9 373.6,50.2 373.3,50.4 373.5,50.8 373.9,50.7 374.4,50.6 375.0,50.4 375.7,50.2 376.4,50.0 377.2,49.7 377.9,49.4 378.6,49.1 379.3,48.7 379.9,48.3 380.4,47.9 380.9,47.4 381.3,46.9 381.7,46.3 382.1,45.7 382.4,45.1 382.6,44.5 382.8,43.9 383.0,43.2 383.1,42.6 383.1,41.9 383.0,41.2 382.9,40.5 382.8,39.9 382.5,39.2 382.3,38.6 381.9,37.9 381.6,37.3 381.1,36.8 380.6,36.3 380.1,35.9 379.5,35.5 378.8,35.2 378.2,34.9 377.5,34.7 376.8,34.5 376.1,34.4 375.4,34.3 374.7,34.3 374.0,34.4 373.2,34.5 372.5,34.7 371.8,35.0 371.2,35.4 370.5,35.8 369.9,36.1 369.4,36.5 368.9,36.8 368.5,37.1 368.2,37.3" fill="#8c3aa6" stroke="#000" stroke-width="1.1" stroke-linejoin="round"/>
<polygon points="388.8,44.8 389.2,44.9 389.7,45.0 390.3,45.1 390.9,45.2 391.6,45.3 392.3,45.5 393.0,45.6 393.6,45.8 394.1,46.0 394.5,46.3 394.9,46.6 395.3,46.9 395.7,47.4 396.1,47.8 396.4,48.2 396.7,48.7 397.0,49.2 397.1,49.6 397.3,50.0 397.4,50.3 397.4,50.7 397.4,51.0 397.3,51.5 397.2,51.9 397.1,52.4 397.0,52.8 396.8,53.3 396.6,53.7 396.3,54.1 396.1,54.4 395.9,54.7 395.5,54.9 395.1,55.2 394.6,55.5 394.1,55.8 393.5,56.1 392.9,56.3 392.3,56.6 391.7,56.8 391.2,57.0 390.6,57.2 390.0,57.4 389.4,57.5 388.7,57.6 388.0,57.7 387.4,57.8 386.8,57.9 386.2,58.0 385.8,58.1 385.4,58.2 385.4,58.6 385.8,58.7 386.2,58.8 386.8,58.9 387.4,58.9 388.1,59.0 388.8,59.1 389.5,59.1 390.2,59.1 390.9,59.1 391.6,59.0 392.3,58.9 393.0,58.8 393.7,58.6 394.4,58.4 395.1,58.2 395.8,58.0 396.4,57.7 397.1,57.3 397.7,56.9 398.3,56.4 398.8,55.9 399.2,55.3 399.5,54.6 399.8,54.0 400.1,53.3 400.3,52.6 400.4,51.8 400.4,51.1 400.4,50.4 400.2,49.7 400.0,49.0 399.7,48.3 399.3,47.7 398.9,47.1 398.4,46.6 397.8,46.1 397.3,45.6 396.7,45.2 396.1,44.8 395.5,44.5 394.8,44.3 394.0,44.2 393.2,44.1 392.5,44.1 391.7,44.1 391.0,44.1 390.3,44.2 389.7,44.3 389.2,44.3 388.8,44.4" fill="#8c3aa6" stroke="#000" stroke-width="1.1" stroke-linejoin="round"/>
<polygon points="380.6,64.6 380.2,64.6 379.7,64.6 379.2,64.6 378.6,64.7 377.9,64.7 377.2,64.8 376.5,64.9 375.9,65.1 375.2,65.3 374.6,65.6 374.1,65.9 373.6,66.3 373.2,66.7 372.7,67.1 372.3,67.6 372.0,68.1 371.7,68.6 371.4,69.2 371.2,69.8 371.1,70.4 371.1,71.0 371.2,71.6 371.3,72.2 371.5,72.8 371.7,73.3 372.0,73.9 372.4,74.4 372.8,74.8 373.2,75.3 373.7,75.7 374.2,76.0 374.8,76.3 375.3,76.5 376.0,76.7 376.6,76.9 377.2,77.0 377.8,77.1 378.5,77.2 379.1,77.3 379.7,77.3 380.3,77.3 381.0,77.2 381.7,77.2 382.3,77.0 383.0,76.9 383.6,76.8 384.2,76.6 384.7,76.5 385.1,76.4 385.4,76.2 385.4,75.8 385.0,75.7 384.6,75.7 384.1,75.6 383.5,75.6 382.9,75.6 382.2,75.6 381.6,75.6 381.0,75.5 380.4,75.4 379.9,75.3 379.4,75.2 378.9,75.0 378.4,74.8 377.9,74.6 377.4,74.4 376.9,74.2 376.5,74.0 376.1,73.8 375.8,73.6 375.5,73.3 375.3,73.1 375.1,72.8 374.9,72.6 374.7,72.2 374.5,71.9 374.3,71.6 374.2,71.3 374.2,71.1 374.1,70.8 374.1,70.6 374.1,70.4 374.1,70.1 374.2,69.8 374.4,69.4 374.5,69.0 374.7,68.6 375.0,68.2 375.2,67.9 375.5,67.5 375.8,67.2 376.1,67.0 376.5,66.7 377.0,66.4 377.6,66.2 378.2,65.9 378.8,65.7 379.4,65.5 379.9,65.3 380.3,65.2 380.6,65.0" fill="#8c3aa6" stroke="#000" stroke-width="1.1" stroke-linejoin="round"/>
<polygon points="358.0,55.4 358.0,55.6 357.9,56.0 357.9,56.4 357.8,56.8 357.8,57.3 357.7,57.9 357.7,58.4 357.7,59.0 357.8,59.6 357.9,60.2 358.0,60.7 358.2,61.1 358.4,61.6 358.6,62.0 358.8,62.4 359.1,62.8 359.4,63.1 359.7,63.4 360.1,63.7 360.4,64.0 360.8,64.3 361.3,64.5 361.8,64.7 362.3,64.9 362.8,65.1 363.2,65.2 363.7,65.3 364.1,65.3 364.4,65.4 364.7,65.4 364.9,65.0 364.8,64.8 364.6,64.5 364.3,64.2 364.0,63.9 363.7,63.5 363.4,63.2 363.1,62.9 362.8,62.5 362.6,62.2 362.4,62.0 362.2,61.7 362.0,61.4 361.9,61.2 361.7,60.9 361.5,60.7 361.4,60.4 361.2,60.2 361.1,59.9 361.0,59.7 360.9,59.4 360.9,59.2 360.9,58.9 360.8,58.5 360.9,58.0 360.9,57.6 360.9,57.1 360.9,56.7 361.0,56.3 361.0,55.9 361.0,55.6" fill="#8c3aa6" stroke="#000" stroke-width="1.1" stroke-linejoin="round"/>
<polygon points="353.6,48.8 365,51.6 361.6,54.4 359,58.2" fill="#8c3aa6" stroke="#000" stroke-width="1.1" stroke-linejoin="round"/>
<circle cx="366.6" cy="87.2" r="1.9" fill="#fff" stroke="#000" stroke-width="1"/>
<circle cx="363.4" cy="89.9" r="1.9" fill="#fff" stroke="#000" stroke-width="1"/>
<circle cx="363.0" cy="85.7" r="1.9" fill="#fff" stroke="#000" stroke-width="1"/>
<circle cx="359.6" cy="88.0" r="1.9" fill="#fff" stroke="#000" stroke-width="1"/>
<circle cx="359.7" cy="83.8" r="1.9" fill="#fff" stroke="#000" stroke-width="1"/>
<circle cx="356.0" cy="85.6" r="1.9" fill="#fff" stroke="#000" stroke-width="1"/>
<circle cx="356.6" cy="81.5" r="1.9" fill="#fff" stroke="#000" stroke-width="1"/>
<circle cx="352.7" cy="82.9" r="1.9" fill="#fff" stroke="#000" stroke-width="1"/>
<circle cx="353.7" cy="78.9" r="1.9" fill="#fff" stroke="#000" stroke-width="1"/>
<circle cx="349.7" cy="79.9" r="1.9" fill="#fff" stroke="#000" stroke-width="1"/>
<circle cx="351.2" cy="76.0" r="1.9" fill="#fff" stroke="#000" stroke-width="1"/>
<circle cx="347.1" cy="76.5" r="1.9" fill="#fff" stroke="#000" stroke-width="1"/>
<circle cx="349.1" cy="72.8" r="1.9" fill="#fff" stroke="#000" stroke-width="1"/>
<circle cx="344.9" cy="72.8" r="1.9" fill="#fff" stroke="#000" stroke-width="1"/>
<path d="M531.8,47.0 L531.8,48.2 L531.8,49.3 L531.7,50.5 L531.6,51.7 L531.4,52.8 L531.2,54.0 L531.0,55.1 L530.8,56.3 L530.5,57.4 L530.2,58.6 L529.8,59.7 L529.5,60.8 L529.1,61.9 L528.6,63.0 L528.2,64.1 L527.7,65.2 L527.1,66.2 L526.6,67.3 L526.0,68.3 L525.4,69.3 L524.7,70.3 L524.0,71.3 L523.3,72.3 L522.6,73.3 L521.9,74.2 L521.1,75.1 L520.3,76.0 L519.4,76.9 L518.6,77.7 L517.7,78.6 L516.8,79.4 L515.9,80.2 L514.9,81.0 L514.0,81.7 L513.0,82.4 L511.9,83.1 L510.9,83.8 L509.9,84.5 L508.8,85.1 L507.7,85.7 L506.6,86.3 L505.5,86.8 L504.4,87.3 L503.2,87.8 L502.1,88.3 L500.9,88.7 L499.7,89.1 L498.5,89.5 L497.3,89.8 L496.1,90.1 L494.9,90.4 L493.6,90.7 L492.4,90.9 L491.1,91.1 L489.9,91.3 L488.6,91.4 L487.4,91.5 L486.1,91.6 L484.9,91.7 L483.6,91.7 L482.3,91.7 L481.1,91.6 L479.8,91.5 L478.6,91.4 L477.3,91.3 L476.1,91.1 L474.8,90.9 L473.6,90.7 L471.9,92.0 L470.5,92.4 L469.0,92.7 L467.5,92.9 L466.0,92.9 L464.6,92.9 L463.1,92.8 L461.7,92.6 L460.2,92.3 L458.8,92.0 L457.4,91.6 L456.1,91.2 L454.7,90.7 L453.4,90.1 L452.1,89.5 L450.8,88.8 L449.6,88.1 L448.4,87.3 L447.2,86.4 L446.1,85.6 L445.0,84.6 L444.0,83.6 L443.1,82.6 L442.1,81.6 L441.3,80.5 L440.5,79.3 L439.7,78.2 L439.0,77.0 L438.4,75.8 L437.8,74.5 L437.4,73.2 L436.9,72.0 L436.6,70.6 L436.3,69.3 L436.1,68.0 L436.0,66.6 L436.0,65.2 L436.2,63.9 L436.5,62.4 L437.7,60.8 L437.4,59.7 L437.0,58.6 L436.7,57.4 L436.4,56.3 L436.2,55.1 L436.0,54.0 L435.8,52.8 L435.6,51.7 L435.5,50.5 L435.4,49.3 L435.4,48.2 L435.4,47.0 L435.4,45.8 L435.4,44.7 L435.5,43.5 L435.6,42.3 L435.8,41.2 L436.0,40.0 L436.2,38.9 L436.4,37.7 L436.7,36.6 L437.0,35.4 L437.4,34.3 L437.7,33.2 L438.1,32.1 L438.6,31.0 L439.0,29.9 L439.5,28.8 L440.1,27.8 L440.6,26.7 L441.2,25.7 L441.8,24.7 L442.5,23.7 L443.2,22.7 L443.9,21.7 L444.6,20.7 L445.3,19.8 L446.1,18.9 L446.9,18.0 L447.8,17.1 L448.6,16.3 L449.5,15.4 L450.4,14.6 L451.3,13.8 L452.3,13.0 L453.2,12.3 L454.2,11.6 L455.3,10.9 L456.3,10.2 L457.3,9.5 L458.4,8.9 L459.5,8.3 L460.6,7.7 L461.7,7.2 L462.8,6.7 L464.0,6.2 L465.1,5.7 L466.3,5.3 L467.5,4.9 L468.7,4.5 L469.9,4.2 L471.1,3.9 L472.3,3.6 L473.6,3.3 L474.8,3.1 L476.1,2.9 L477.3,2.7 L478.6,2.6 L479.8,2.5 L481.1,2.4 L482.3,2.3 L483.6,2.3 L484.9,2.3 L486.1,2.4 L487.4,2.5 L488.6,2.6 L489.9,2.7 L491.1,2.9 L492.4,3.1 L493.6,3.3 L494.9,3.6 L496.1,3.9 L497.3,4.2 L498.5,4.5 L499.7,4.9 L500.9,5.3 L502.1,5.7 L503.2,6.2 L504.4,6.7 L505.5,7.2 L506.6,7.7 L507.7,8.3 L508.8,8.9 L509.9,9.5 L510.9,10.2 L511.9,10.9 L513.0,11.6 L514.0,12.3 L514.9,13.0 L515.9,13.8 L516.8,14.6 L517.7,15.4 L518.6,16.3 L519.4,17.1 L520.3,18.0 L521.1,18.9 L521.9,19.8 L522.6,20.7 L523.3,21.7 L524.0,22.7 L524.7,23.7 L525.4,24.7 L526.0,25.7 L526.6,26.7 L527.1,27.8 L527.7,28.8 L528.2,29.9 L528.6,31.0 L529.1,32.1 L529.5,33.2 L529.8,34.3 L530.2,35.4 L530.5,36.6 L530.8,37.7 L531.0,38.9 L531.2,40.0 L531.4,41.2 L531.6,42.3 L531.7,43.5 L531.8,44.7 L531.8,45.8 L531.8,47.0 Z M524.8,47.0 L524.8,46.0 L524.7,45.0 L524.6,44.0 L524.5,43.0 L524.4,42.0 L524.3,41.0 L524.1,40.1 L523.9,39.1 L523.6,38.1 L523.4,37.1 L523.1,36.2 L522.8,35.2 L522.4,34.3 L522.0,33.3 L521.6,32.4 L521.2,31.5 L520.8,30.6 L520.3,29.7 L519.8,28.8 L519.3,27.9 L518.7,27.1 L518.1,26.2 L517.5,25.4 L516.9,24.6 L516.3,23.8 L515.6,23.0 L514.9,22.2 L514.2,21.5 L513.5,20.8 L512.7,20.0 L511.9,19.3 L511.1,18.7 L510.3,18.0 L509.5,17.4 L508.7,16.7 L507.8,16.2 L506.9,15.6 L506.0,15.0 L505.1,14.5 L504.2,14.0 L503.2,13.5 L502.3,13.0 L501.3,12.6 L500.3,12.2 L499.4,11.8 L498.4,11.4 L497.3,11.1 L496.3,10.7 L495.3,10.4 L494.3,10.2 L493.2,9.9 L492.2,9.7 L491.1,9.5 L490.0,9.3 L489.0,9.2 L487.9,9.1 L486.8,9.0 L485.8,8.9 L484.7,8.9 L483.6,8.9 L482.5,8.9 L481.4,8.9 L480.4,9.0 L479.3,9.1 L478.2,9.2 L477.2,9.3 L476.1,9.5 L475.0,9.7 L474.0,9.9 L472.9,10.2 L471.9,10.4 L470.9,10.7 L469.9,11.1 L468.8,11.4 L467.8,11.8 L466.9,12.2 L465.9,12.6 L464.9,13.0 L464.0,13.5 L463.0,14.0 L462.1,14.5 L461.2,15.0 L460.3,15.6 L459.4,16.2 L458.5,16.7 L457.7,17.4 L456.9,18.0 L456.1,18.7 L455.3,19.3 L454.5,20.0 L453.7,20.8 L453.0,21.5 L452.3,22.2 L451.6,23.0 L450.9,23.8 L450.3,24.6 L449.7,25.4 L449.1,26.2 L448.5,27.1 L447.9,27.9 L447.4,28.8 L446.9,29.7 L446.4,30.6 L446.0,31.5 L445.6,32.4 L445.2,33.3 L444.8,34.3 L444.4,35.2 L444.1,36.2 L443.8,37.1 L443.6,38.1 L443.3,39.1 L443.1,40.1 L442.9,41.0 L442.8,42.0 L442.7,43.0 L442.6,44.0 L442.5,45.0 L442.4,46.0 L442.4,47.0 L442.4,48.0 L442.5,49.0 L442.6,50.0 L442.7,51.0 L442.8,52.0 L442.9,53.0 L443.1,53.9 L443.3,54.9 L443.6,55.9 L443.8,56.9 L444.1,57.8 L444.4,58.8 L444.8,59.7 L445.2,60.7 L445.6,61.6 L446.0,62.5 L446.4,63.4 L446.9,64.3 L447.4,65.2 L447.9,66.1 L448.5,66.9 L449.1,67.8 L449.7,68.6 L450.3,69.4 L450.9,70.2 L451.6,71.0 L452.3,71.8 L453.0,72.5 L453.7,73.2 L454.5,74.0 L455.3,74.7 L456.1,75.3 L456.9,76.0 L457.7,76.6 L458.5,77.3 L459.4,77.8 L460.3,78.4 L461.2,79.0 L462.1,79.5 L463.0,80.0 L464.0,80.5 L464.9,81.0 L465.9,81.4 L466.9,81.8 L467.8,82.2 L468.8,82.6 L469.9,82.9 L470.9,83.3 L471.9,83.6 L472.9,83.8 L474.0,84.1 L475.0,84.3 L476.1,84.5 L477.2,84.7 L478.2,84.8 L479.3,84.9 L480.4,85.0 L481.4,85.1 L482.5,85.1 L483.6,85.1 L484.7,85.1 L485.8,85.1 L486.8,85.0 L487.9,84.9 L489.0,84.8 L490.0,84.7 L491.1,84.5 L492.2,84.3 L493.2,84.1 L494.3,83.8 L495.3,83.6 L496.3,83.3 L497.3,82.9 L498.4,82.6 L499.4,82.2 L500.3,81.8 L501.3,81.4 L502.3,81.0 L503.2,80.5 L504.2,80.0 L505.1,79.5 L506.0,79.0 L506.9,78.4 L507.8,77.8 L508.7,77.3 L509.5,76.6 L510.3,76.0 L511.1,75.3 L511.9,74.7 L512.7,74.0 L513.5,73.2 L514.2,72.5 L514.9,71.8 L515.6,71.0 L516.3,70.2 L516.9,69.4 L517.5,68.6 L518.1,67.8 L518.7,66.9 L519.3,66.1 L519.8,65.2 L520.3,64.3 L520.8,63.4 L521.2,62.5 L521.6,61.6 L522.0,60.7 L522.4,59.7 L522.8,58.8 L523.1,57.8 L523.4,56.9 L523.6,55.9 L523.9,54.9 L524.1,53.9 L524.3,53.0 L524.4,52.0 L524.5,51.0 L524.6,50.0 L524.7,49.0 L524.8,48.0 L524.8,47.0 Z" fill="#000" fill-rule="evenodd" stroke="#000" stroke-width="1" stroke-linejoin="round"/>
<ellipse cx="483.6" cy="47" rx="42.300000000000004" ry="39.0" fill="none" stroke="#2e9e4a" stroke-width="1" stroke-dasharray="9 14" opacity="0.9"/>
<ellipse cx="528.9" cy="47.2" rx="3.2" ry="2.9" transform="rotate(102 528.9 47.2)" fill="#f5a023" stroke="#000" stroke-width="0.9"/>
<ellipse cx="527.3" cy="52.8" rx="2.9" ry="2.9" transform="rotate(106 527.3 52.8)" fill="#f5a023" stroke="#000" stroke-width="0.9"/>
<ellipse cx="526.3" cy="57.8" rx="2.9" ry="2.3" transform="rotate(109 526.3 57.8)" fill="#f5a023" stroke="#000" stroke-width="0.9"/>
<ellipse cx="524.6" cy="62.1" rx="2.7" ry="2.3" transform="rotate(134 524.6 62.1)" fill="#f5a023" stroke="#000" stroke-width="0.9"/>
<ellipse cx="522.2" cy="67.1" rx="3.2" ry="2.2" transform="rotate(127 522.2 67.1)" fill="#f5a023" stroke="#000" stroke-width="0.9"/>
<ellipse cx="519.6" cy="70.5" rx="3.3" ry="2.3" transform="rotate(113 519.6 70.5)" fill="#f5a023" stroke="#000" stroke-width="0.9"/>
<ellipse cx="516.2" cy="76.4" rx="2.7" ry="3.0" transform="rotate(138 516.2 76.4)" fill="#f5a023" stroke="#000" stroke-width="0.9"/>
<ellipse cx="511.7" cy="78.9" rx="3.4" ry="2.7" transform="rotate(166 511.7 78.9)" fill="#f5a023" stroke="#000" stroke-width="0.9"/>
<ellipse cx="506.9" cy="82.2" rx="2.8" ry="2.2" transform="rotate(133 506.9 82.2)" fill="#f5a023" stroke="#000" stroke-width="0.9"/>
<ellipse cx="503.2" cy="84.1" rx="3.0" ry="2.1" transform="rotate(164 503.2 84.1)" fill="#f5a023" stroke="#000" stroke-width="0.9"/>
<ellipse cx="497.6" cy="86.2" rx="3.2" ry="2.5" transform="rotate(154 497.6 86.2)" fill="#f5a023" stroke="#000" stroke-width="0.9"/>
<ellipse cx="492.1" cy="88.2" rx="2.5" ry="3.0" transform="rotate(146 492.1 88.2)" fill="#f5a023" stroke="#000" stroke-width="0.9"/>
<ellipse cx="486.0" cy="89.1" rx="2.5" ry="2.8" transform="rotate(170 486.0 89.1)" fill="#f5a023" stroke="#000" stroke-width="0.9"/>
<ellipse cx="480.7" cy="87.7" rx="2.5" ry="2.2" transform="rotate(-154 480.7 87.7)" fill="#f5a023" stroke="#000" stroke-width="0.9"/>
<ellipse cx="475.6" cy="88.3" rx="3.3" ry="2.9" transform="rotate(-178 475.6 88.3)" fill="#f5a023" stroke="#000" stroke-width="0.9"/>
<ellipse cx="470.2" cy="86.0" rx="2.5" ry="2.2" transform="rotate(-163 470.2 86.0)" fill="#fff"/>
<ellipse cx="465.8" cy="89.2" rx="2.5" ry="2.2" transform="rotate(-155 465.8 89.2)" fill="#fff"/>
<ellipse cx="465.1" cy="84.8" rx="2.5" ry="2.7" transform="rotate(-150 465.1 84.8)" fill="#fff"/>
<ellipse cx="460.0" cy="88.2" rx="2.5" ry="2.7" transform="rotate(-148 460.0 88.2)" fill="#fff"/>
<ellipse cx="458.9" cy="82.0" rx="2.5" ry="3.1" transform="rotate(-163 458.9 82.0)" fill="#fff"/>
<ellipse cx="452.8" cy="85.2" rx="2.5" ry="3.1" transform="rotate(-135 452.8 85.2)" fill="#fff"/>
<ellipse cx="455.3" cy="79.7" rx="2.5" ry="3.2" transform="rotate(-148 455.3 79.7)" fill="#fff"/>
<ellipse cx="448.7" cy="82.5" rx="2.5" ry="3.2" transform="rotate(-140 448.7 82.5)" fill="#fff"/>
<ellipse cx="450.1" cy="75.2" rx="2.5" ry="3.2" transform="rotate(-139 450.1 75.2)" fill="#fff"/>
<ellipse cx="443.2" cy="76.9" rx="2.5" ry="3.2" transform="rotate(-122 443.2 76.9)" fill="#fff"/>
<ellipse cx="447.1" cy="71.5" rx="2.5" ry="3.0" transform="rotate(-134 447.1 71.5)" fill="#fff"/>
<ellipse cx="440.3" cy="72.3" rx="2.5" ry="3.0" transform="rotate(-134 440.3 72.3)" fill="#fff"/>
<ellipse cx="444.7" cy="67.4" rx="2.5" ry="2.7" transform="rotate(-134 444.7 67.4)" fill="#fff"/>
<ellipse cx="438.4" cy="67.3" rx="2.5" ry="2.7" transform="rotate(-132 438.4 67.3)" fill="#fff"/>
<ellipse cx="439.7" cy="62.8" rx="2.6" ry="2.1" transform="rotate(-88 439.7 62.8)" fill="#f5a023" stroke="#000" stroke-width="0.9"/>
<ellipse cx="440.2" cy="57.3" rx="2.7" ry="2.6" transform="rotate(-89 440.2 57.3)" fill="#f5a023" stroke="#000" stroke-width="0.9"/>
<ellipse cx="439.2" cy="52.3" rx="2.5" ry="2.9" transform="rotate(-121 439.2 52.3)" fill="#f5a023" stroke="#000" stroke-width="0.9"/>
<ellipse cx="438.1" cy="47.0" rx="2.6" ry="2.7" transform="rotate(-68 438.1 47.0)" fill="#f5a023" stroke="#000" stroke-width="0.9"/>
<ellipse cx="438.6" cy="41.5" rx="2.6" ry="2.5" transform="rotate(-99 438.6 41.5)" fill="#f5a023" stroke="#000" stroke-width="0.9"/>
<ellipse cx="440.6" cy="36.2" rx="2.9" ry="3.0" transform="rotate(-56 440.6 36.2)" fill="#f5a023" stroke="#000" stroke-width="0.9"/>
<ellipse cx="442.2" cy="31.0" rx="2.9" ry="2.7" transform="rotate(-67 442.2 31.0)" fill="#f5a023" stroke="#000" stroke-width="0.9"/>
<ellipse cx="444.2" cy="27.3" rx="2.6" ry="2.4" transform="rotate(-35 444.2 27.3)" fill="#f5a023" stroke="#000" stroke-width="0.9"/>
<ellipse cx="447.6" cy="21.9" rx="2.9" ry="2.4" transform="rotate(-71 447.6 21.9)" fill="#f5a023" stroke="#000" stroke-width="0.9"/>
<ellipse cx="450.3" cy="18.5" rx="3.3" ry="2.4" transform="rotate(-31 450.3 18.5)" fill="#f5a023" stroke="#000" stroke-width="0.9"/>
<ellipse cx="455.1" cy="14.4" rx="3.1" ry="2.8" transform="rotate(-44 455.1 14.4)" fill="#f5a023" stroke="#000" stroke-width="0.9"/>
<ellipse cx="460.0" cy="12.0" rx="2.9" ry="2.8" transform="rotate(-20 460.0 12.0)" fill="#f5a023" stroke="#000" stroke-width="0.9"/>
<ellipse cx="463.8" cy="8.9" rx="3.1" ry="2.6" transform="rotate(-48 463.8 8.9)" fill="#f5a023" stroke="#000" stroke-width="0.9"/>
<ellipse cx="469.9" cy="7.8" rx="3.1" ry="2.5" transform="rotate(-1 469.9 7.8)" fill="#f5a023" stroke="#000" stroke-width="0.9"/>
<ellipse cx="475.3" cy="5.7" rx="2.8" ry="2.7" transform="rotate(2 475.3 5.7)" fill="#f5a023" stroke="#000" stroke-width="0.9"/>
<ellipse cx="481.3" cy="5.7" rx="3.3" ry="2.9" transform="rotate(7 481.3 5.7)" fill="#f5a023" stroke="#000" stroke-width="0.9"/>
<ellipse cx="487.3" cy="4.8" rx="3.0" ry="2.6" transform="rotate(-12 487.3 4.8)" fill="#f5a023" stroke="#000" stroke-width="0.9"/>
<ellipse cx="492.7" cy="5.6" rx="2.9" ry="2.7" transform="rotate(22 492.7 5.6)" fill="#f5a023" stroke="#000" stroke-width="0.9"/>
<ellipse cx="497.7" cy="8.0" rx="3.2" ry="2.6" transform="rotate(25 497.7 8.0)" fill="#f5a023" stroke="#000" stroke-width="0.9"/>
<ellipse cx="502.7" cy="9.1" rx="3.2" ry="2.7" transform="rotate(34 502.7 9.1)" fill="#f5a023" stroke="#000" stroke-width="0.9"/>
<ellipse cx="506.7" cy="11.9" rx="2.9" ry="2.7" transform="rotate(15 506.7 11.9)" fill="#f5a023" stroke="#000" stroke-width="0.9"/>
<ellipse cx="512.6" cy="15.0" rx="2.5" ry="2.5" transform="rotate(24 512.6 15.0)" fill="#f5a023" stroke="#000" stroke-width="0.9"/>
<ellipse cx="515.4" cy="18.4" rx="2.8" ry="2.2" transform="rotate(28 515.4 18.4)" fill="#f5a023" stroke="#000" stroke-width="0.9"/>
<ellipse cx="519.4" cy="22.0" rx="2.8" ry="2.6" transform="rotate(55 519.4 22.0)" fill="#f5a023" stroke="#000" stroke-width="0.9"/>
<ellipse cx="523.3" cy="26.3" rx="2.5" ry="2.4" transform="rotate(48 523.3 26.3)" fill="#f5a023" stroke="#000" stroke-width="0.9"/>
<ellipse cx="524.7" cy="31.8" rx="3.3" ry="2.4" transform="rotate(43 524.7 31.8)" fill="#f5a023" stroke="#000" stroke-width="0.9"/>
<ellipse cx="526.5" cy="37.0" rx="3.0" ry="2.4" transform="rotate(79 526.5 37.0)" fill="#f5a023" stroke="#000" stroke-width="0.9"/>
<ellipse cx="528.8" cy="42.4" rx="2.9" ry="2.8" transform="rotate(90 528.8 42.4)" fill="#f5a023" stroke="#000" stroke-width="0.9"/>
<path d="M428.5,73.5 L435,70 L438.5,74.5 L432,77 Z" fill="#f5a023" stroke="#000" stroke-width="1.3" stroke-linejoin="round"/>
<circle cx="473.7" cy="20.2" r="9.9" fill="#7e2c8e" stroke="#000" stroke-width="1.6"/>
<circle cx="507.7" cy="28.9" r="9.1" fill="#7e2c8e" stroke="#000" stroke-width="1.6"/>
<circle cx="457.5" cy="37.6" r="10" fill="#7e2c8e" stroke="#000" stroke-width="1.6"/>
<circle cx="512.6" cy="57.4" r="9.6" fill="#7e2c8e" stroke="#000" stroke-width="1.6"/>
<circle cx="458.4" cy="61.4" r="10.4" fill="#7e2c8e" stroke="#000" stroke-width="1.6"/>
<circle cx="485.5" cy="78" r="10" fill="#7e2c8e" stroke="#000" stroke-width="1.6"/>
<circle cx="567.4" cy="34" r="13" fill="#7e2c8e" stroke="#000" stroke-width="1.6"/>
<circle cx="598.2" cy="43.6" r="12.4" fill="#7e2c8e" stroke="#000" stroke-width="1.6"/>
<circle cx="575.4" cy="69.2" r="12.8" fill="#7e2c8e" stroke="#000" stroke-width="1.6"/>
<text transform="translate(17.80,280.90) scale(1,1.07)" font-size="13.3" text-anchor="start" fill="#000" stroke="#000" stroke-width="0.12" font-weight="bold" font-style="normal" >B</text>
<line x1="59.2" y1="460.5" x2="64" y2="460.5" stroke="#000" stroke-width="1.6"/>
<text transform="translate(52.50,465.10) scale(1,1.07)" font-size="12.7" text-anchor="end" fill="#000" stroke="#000" stroke-width="0.3" font-weight="normal" font-style="normal" >0</text>
<line x1="59.2" y1="424.4" x2="64" y2="424.4" stroke="#000" stroke-width="1.6"/>
<text transform="translate(52.50,429.00) scale(1,1.07)" font-size="12.7" text-anchor="end" fill="#000" stroke="#000" stroke-width="0.3" font-weight="normal" font-style="normal" >0.1</text>
<line x1="59.2" y1="388.3" x2="64" y2="388.3" stroke="#000" stroke-width="1.6"/>
<text transform="translate(52.50,392.90) scale(1,1.07)" font-size="12.7" text-anchor="end" fill="#000" stroke="#000" stroke-width="0.3" font-weight="normal" font-style="normal" >0.2</text>
<line x1="59.2" y1="352.2" x2="64" y2="352.2" stroke="#000" stroke-width="1.6"/>
<text transform="translate(52.50,356.80) scale(1,1.07)" font-size="12.7" text-anchor="end" fill="#000" stroke="#000" stroke-width="0.3" font-weight="normal" font-style="normal" >0.3</text>
<line x1="59.2" y1="316.1" x2="64" y2="316.1" stroke="#000" stroke-width="1.6"/>
<text transform="translate(52.50,320.70) scale(1,1.07)" font-size="12.7" text-anchor="end" fill="#000" stroke="#000" stroke-width="0.3" font-weight="normal" font-style="normal" >0.4</text>
<line x1="59.2" y1="280.0" x2="64" y2="280.0" stroke="#000" stroke-width="1.6"/>
<text transform="translate(52.50,284.60) scale(1,1.07)" font-size="12.7" text-anchor="end" fill="#000" stroke="#000" stroke-width="0.3" font-weight="normal" font-style="normal" >0.5</text>
<polyline points="64,279.2 64,474.6 373.5,474.6" fill="none" stroke="#000" stroke-width="2"/>
<line x1="83.5" y1="474.6" x2="83.5" y2="480" stroke="#000" stroke-width="1.6"/>
<text transform="translate(83.50,493.00) scale(1,1.07)" font-size="12.7" text-anchor="middle" fill="#000" stroke="#000" stroke-width="0.3" font-weight="normal" font-style="normal" >25</text>
<line x1="117.3" y1="474.6" x2="117.3" y2="480" stroke="#000" stroke-width="1.6"/>
<text transform="translate(117.33,493.00) scale(1,1.07)" font-size="12.7" text-anchor="middle" fill="#000" stroke="#000" stroke-width="0.3" font-weight="normal" font-style="normal" >26</text>
<line x1="151.2" y1="474.6" x2="151.2" y2="480" stroke="#000" stroke-width="1.6"/>
<text transform="translate(151.16,493.00) scale(1,1.07)" font-size="12.7" text-anchor="middle" fill="#000" stroke="#000" stroke-width="0.3" font-weight="normal" font-style="normal" >27</text>
<line x1="185.0" y1="474.6" x2="185.0" y2="480" stroke="#000" stroke-width="1.6"/>
<text transform="translate(184.99,493.00) scale(1,1.07)" font-size="12.7" text-anchor="middle" fill="#000" stroke="#000" stroke-width="0.3" font-weight="normal" font-style="normal" >28</text>
<line x1="218.8" y1="474.6" x2="218.8" y2="480" stroke="#000" stroke-width="1.6"/>
<text transform="translate(218.82,493.00) scale(1,1.07)" font-size="12.7" text-anchor="middle" fill="#000" stroke="#000" stroke-width="0.3" font-weight="normal" font-style="normal" >29</text>
<line x1="252.6" y1="474.6" x2="252.6" y2="480" stroke="#000" stroke-width="1.6"/>
<text transform="translate(252.65,493.00) scale(1,1.07)" font-size="12.7" text-anchor="middle" fill="#000" stroke="#000" stroke-width="0.3" font-weight="normal" font-style="normal" >30</text>
<line x1="286.5" y1="474.6" x2="286.5" y2="480" stroke="#000" stroke-width="1.6"/>
<text transform="translate(286.48,493.00) scale(1,1.07)" font-size="12.7" text-anchor="middle" fill="#000" stroke="#000" stroke-width="0.3" font-weight="normal" font-style="normal" >31</text>
<line x1="320.3" y1="474.6" x2="320.3" y2="480" stroke="#000" stroke-width="1.6"/>
<text transform="translate(320.31,493.00) scale(1,1.07)" font-size="12.7" text-anchor="middle" fill="#000" stroke="#000" stroke-width="0.3" font-weight="normal" font-style="normal" >32</text>
<line x1="354.1" y1="474.6" x2="354.1" y2="480" stroke="#000" stroke-width="1.6"/>
<text transform="translate(354.14,493.00) scale(1,1.07)" font-size="12.7" text-anchor="middle" fill="#000" stroke="#000" stroke-width="0.3" font-weight="normal" font-style="normal" >33</text>
<text transform="translate(233.00,507.30) scale(1,1.07)" font-size="12.7" text-anchor="middle" fill="#000" stroke="#000" stroke-width="0.3" font-weight="normal" font-style="normal" >Ribosome footprint length (nt)</text>
<text transform="translate(26.80,371.30) rotate(-90) scale(1,1.07)" font-size="12.7" text-anchor="middle" fill="#000" stroke="#000" stroke-width="0.3" font-weight="normal" font-style="normal" >Ratio of total reads</text>
<circle cx="81.2" cy="409.4" r="3.5" fill="#e31a1c"/>
<circle cx="87.0" cy="413.4" r="3.5" fill="#cab2d6"/>
<circle cx="81.2" cy="413.7" r="3.5" fill="#ff7f00"/>
<circle cx="84.0" cy="420.7" r="3.5" fill="#ff7f00"/>
<circle cx="80.0" cy="428.3" r="3.5" fill="#6a3d9a"/>
<circle cx="84.0" cy="425.0" r="3.5" fill="#6a3d9a"/>
<circle cx="91.3" cy="431.1" r="3.5" fill="#fdbf6f"/>
<circle cx="75.3" cy="435.3" r="3.5" fill="#b2df8a"/>
<circle cx="88.7" cy="435.3" r="3.5" fill="#fb9a99"/>
<circle cx="93.4" cy="438.9" r="3.5" fill="#33a02c"/>
<circle cx="91.0" cy="442.0" r="3.5" fill="#33a02c"/>
<circle cx="73.4" cy="438.9" r="3.5" fill="#1f78b4"/>
<circle cx="81.2" cy="442.4" r="3.5" fill="#1f78b4"/>
<circle cx="75.8" cy="442.4" r="3.5" fill="#fdbf6f"/>
<circle cx="86.0" cy="441.0" r="3.5" fill="#fb9a99"/>
<circle cx="86.4" cy="446.0" r="3.5" fill="#e31a1c"/>
<circle cx="80.7" cy="453.0" r="3.5" fill="#a6cee3"/>
<circle cx="84.0" cy="453.0" r="3.5" fill="#a6cee3"/>
<line x1="83.5" y1="422.4" x2="83.5" y2="446" stroke="#a9a9a9" stroke-width="2.8"/>
<circle cx="83.5" cy="434.2" r="4.6" fill="#a9a9a9"/>
<circle cx="116.0" cy="373.4" r="3.5" fill="#ff7f00"/>
<circle cx="119.3" cy="381.2" r="3.5" fill="#e31a1c"/>
<circle cx="115.8" cy="384.3" r="3.5" fill="#cab2d6"/>
<circle cx="117.7" cy="388.3" r="3.5" fill="#ff7f00"/>
<circle cx="112.3" cy="402.4" r="3.5" fill="#6a3d9a"/>
<circle cx="122.4" cy="402.4" r="3.5" fill="#cab2d6"/>
<circle cx="111.8" cy="409.4" r="3.5" fill="#6a3d9a"/>
<circle cx="120.7" cy="410.0" r="3.5" fill="#fb9a99"/>
<circle cx="113.7" cy="413.7" r="3.5" fill="#33a02c"/>
<circle cx="126.0" cy="413.7" r="3.5" fill="#b2df8a"/>
<circle cx="106.4" cy="417.0" r="3.5" fill="#1f78b4"/>
<circle cx="114.6" cy="417.7" r="3.5" fill="#1f78b4"/>
<circle cx="120.7" cy="417.7" r="3.5" fill="#33a02c"/>
<circle cx="127.6" cy="417.0" r="3.5" fill="#b2df8a"/>
<circle cx="113.7" cy="421.2" r="3.5" fill="#fdbf6f"/>
<circle cx="118.9" cy="428.3" r="3.5" fill="#e31a1c"/>
<circle cx="116.0" cy="438.2" r="3.5" fill="#a6cee3"/>
<circle cx="117.7" cy="442.4" r="3.5" fill="#a6cee3"/>
<line x1="117.7" y1="383.5" x2="117.7" y2="428" stroke="#a9a9a9" stroke-width="2.8"/>
<circle cx="117.7" cy="409.4" r="4.6" fill="#a9a9a9"/>
<circle cx="145.9" cy="319.0" r="3.5" fill="#ff7f00"/>
<circle cx="147.1" cy="323.0" r="3.5" fill="#cab2d6"/>
<circle cx="157.5" cy="323.0" r="3.5" fill="#ff7f00"/>
<circle cx="152.3" cy="326.5" r="3.5" fill="#6a3d9a"/>
<circle cx="140.0" cy="330.0" r="3.5" fill="#cab2d6"/>
<circle cx="150.0" cy="333.6" r="3.5" fill="#e31a1c"/>
<circle cx="161.7" cy="333.6" r="3.5" fill="#6a3d9a"/>
<circle cx="155.4" cy="340.6" r="3.5" fill="#fb9a99"/>
<circle cx="156.5" cy="344.9" r="3.5" fill="#fb9a99"/>
<circle cx="146.4" cy="344.9" r="3.5" fill="#fdbf6f"/>
<circle cx="149.0" cy="359.5" r="3.5" fill="#fdbf6f"/>
<circle cx="140.0" cy="369.9" r="3.5" fill="#33a02c"/>
<circle cx="153.0" cy="366.6" r="3.5" fill="#33a02c"/>
<circle cx="142.9" cy="377.2" r="3.5" fill="#e31a1c"/>
<circle cx="148.3" cy="373.7" r="3.5" fill="#b2df8a"/>
<circle cx="155.4" cy="373.7" r="3.5" fill="#1f78b4"/>
<circle cx="157.2" cy="377.2" r="3.5" fill="#b2df8a"/>
<circle cx="161.2" cy="369.9" r="3.5" fill="#1f78b4"/>
<circle cx="150.6" cy="406.0" r="3.5" fill="#a6cee3"/>
<circle cx="151.4" cy="424.0" r="3.5" fill="#a6cee3"/>
<line x1="151.4" y1="319" x2="151.4" y2="383.5" stroke="#a9a9a9" stroke-width="2.8"/>
<circle cx="151.4" cy="356" r="4.6" fill="#a9a9a9"/>
<circle cx="183.4" cy="287.0" r="3.5" fill="#e31a1c"/>
<circle cx="180.0" cy="304.8" r="3.5" fill="#1f78b4"/>
<circle cx="189.7" cy="301.3" r="3.5" fill="#1f78b4"/>
<circle cx="173.0" cy="308.4" r="3.5" fill="#fdbf6f"/>
<circle cx="197.0" cy="308.4" r="3.5" fill="#33a02c"/>
<circle cx="183.6" cy="312.4" r="3.5" fill="#33a02c"/>
<circle cx="189.5" cy="316.0" r="3.5" fill="#b2df8a"/>
<circle cx="178.9" cy="319.4" r="3.5" fill="#a6cee3"/>
<circle cx="181.3" cy="326.5" r="3.5" fill="#6a3d9a"/>
<circle cx="191.9" cy="323.0" r="3.5" fill="#6a3d9a"/>
<circle cx="176.5" cy="333.6" r="3.5" fill="#fdbf6f"/>
<circle cx="193.0" cy="333.6" r="3.5" fill="#fb9a99"/>
<circle cx="182.4" cy="337.8" r="3.5" fill="#fb9a99"/>
<circle cx="186.0" cy="356.0" r="3.5" fill="#ff7f00"/>
<circle cx="180.0" cy="366.6" r="3.5" fill="#cab2d6"/>
<circle cx="182.0" cy="369.9" r="3.5" fill="#e31a1c"/>
<circle cx="188.8" cy="366.6" r="3.5" fill="#a6cee3"/>
<circle cx="185.3" cy="384.3" r="3.5" fill="#ff7f00"/>
<line x1="185.5" y1="302" x2="185.5" y2="358" stroke="#a9a9a9" stroke-width="2.8"/>
<circle cx="185.5" cy="330" r="4.6" fill="#a9a9a9"/>
<circle cx="216.8" cy="362.5" r="3.5" fill="#a6cee3"/>
<circle cx="220.7" cy="366.4" r="3.5" fill="#a6cee3"/>
<circle cx="217.4" cy="417.0" r="3.5" fill="#1f78b4"/>
<circle cx="212.4" cy="424.0" r="3.5" fill="#b2df8a"/>
<circle cx="225.2" cy="424.0" r="3.5" fill="#33a02c"/>
<circle cx="221.3" cy="427.5" r="3.5" fill="#33a02c"/>
<circle cx="218.0" cy="422.0" r="3.5" fill="#b2df8a"/>
<circle cx="216.2" cy="435.3" r="3.5" fill="#e31a1c"/>
<circle cx="215.4" cy="449.0" r="3.5" fill="#6a3d9a"/>
<circle cx="222.8" cy="446.0" r="3.5" fill="#fdbf6f"/>
<circle cx="207.9" cy="452.9" r="3.5" fill="#fb9a99"/>
<circle cx="228.8" cy="452.9" r="3.5" fill="#fdbf6f"/>
<circle cx="210.9" cy="456.8" r="3.5" fill="#e31a1c"/>
<circle cx="225.2" cy="456.8" r="3.5" fill="#ff7f00"/>
<circle cx="219.0" cy="455.0" r="3.5" fill="#cab2d6"/>
<circle cx="221.0" cy="451.0" r="3.5" fill="#6a3d9a"/>
<circle cx="213.0" cy="455.0" r="3.5" fill="#fb9a99"/>
<line x1="219.2" y1="406.7" x2="219.2" y2="461.8" stroke="#a9a9a9" stroke-width="2.8"/>
<circle cx="219.2" cy="434.1" r="4.6" fill="#a9a9a9"/>
<circle cx="241.3" cy="460.0" r="3.5" fill="#fdbf6f"/>
<circle cx="244.2" cy="460.0" r="3.5" fill="#fb9a99"/>
<circle cx="247.0" cy="460.0" r="3.5" fill="#1f78b4"/>
<circle cx="249.9" cy="458.5" r="3.5" fill="#e31a1c"/>
<circle cx="252.7" cy="460.0" r="3.5" fill="#33a02c"/>
<circle cx="255.6" cy="458.5" r="3.5" fill="#b2df8a"/>
<circle cx="258.4" cy="460.0" r="3.5" fill="#cab2d6"/>
<circle cx="261.3" cy="460.0" r="3.5" fill="#6a3d9a"/>
<circle cx="264.1" cy="460.0" r="3.5" fill="#ff7f00"/>
<circle cx="251.9" cy="424.0" r="3.5" fill="#a6cee3"/>
<circle cx="253.4" cy="438.6" r="3.5" fill="#a6cee3"/>
<line x1="252.64999999999998" y1="447.5" x2="252.64999999999998" y2="464.8" stroke="#a9a9a9" stroke-width="2.8"/>
<circle cx="252.64999999999998" cy="456.5" r="4.6" fill="#a9a9a9"/>
<circle cx="275.2" cy="460.0" r="3.5" fill="#e31a1c"/>
<circle cx="278.0" cy="460.0" r="3.5" fill="#fdbf6f"/>
<circle cx="280.9" cy="460.0" r="3.5" fill="#fb9a99"/>
<circle cx="283.7" cy="458.5" r="3.5" fill="#1f78b4"/>
<circle cx="286.6" cy="460.0" r="3.5" fill="#cab2d6"/>
<circle cx="289.4" cy="458.5" r="3.5" fill="#b2df8a"/>
<circle cx="292.3" cy="460.0" r="3.5" fill="#33a02c"/>
<circle cx="295.1" cy="460.0" r="3.5" fill="#ff7f00"/>
<circle cx="298.0" cy="460.0" r="3.5" fill="#6a3d9a"/>
<circle cx="285.5" cy="431.0" r="3.5" fill="#a6cee3"/>
<line x1="286.48" y1="450" x2="286.48" y2="462" stroke="#a9a9a9" stroke-width="2.8"/>
<circle cx="286.48" cy="456.5" r="4.6" fill="#a9a9a9"/>
<circle cx="309.0" cy="460.0" r="3.5" fill="#fb9a99"/>
<circle cx="311.9" cy="460.0" r="3.5" fill="#fdbf6f"/>
<circle cx="314.7" cy="460.0" r="3.5" fill="#e31a1c"/>
<circle cx="317.6" cy="460.0" r="3.5" fill="#1f78b4"/>
<circle cx="320.4" cy="460.0" r="3.5" fill="#b2df8a"/>
<circle cx="323.3" cy="460.0" r="3.5" fill="#33a02c"/>
<circle cx="326.1" cy="460.0" r="3.5" fill="#cab2d6"/>
<circle cx="329.0" cy="460.0" r="3.5" fill="#ff7f00"/>
<circle cx="331.8" cy="460.0" r="3.5" fill="#6a3d9a"/>
<circle cx="319.7" cy="449.3" r="3.5" fill="#a6cee3"/>
<line x1="320.31" y1="450" x2="320.31" y2="462" stroke="#a9a9a9" stroke-width="2.8"/>
<circle cx="320.31" cy="459.2" r="4.6" fill="#a9a9a9"/>
<circle cx="342.8" cy="460.0" r="3.5" fill="#1f78b4"/>
<circle cx="345.7" cy="460.0" r="3.5" fill="#e31a1c"/>
<circle cx="348.5" cy="460.0" r="3.5" fill="#fdbf6f"/>
<circle cx="351.4" cy="460.0" r="3.5" fill="#fb9a99"/>
<circle cx="354.2" cy="460.0" r="3.5" fill="#b2df8a"/>
<circle cx="357.1" cy="460.0" r="3.5" fill="#cab2d6"/>
<circle cx="359.9" cy="460.0" r="3.5" fill="#33a02c"/>
<circle cx="362.8" cy="460.0" r="3.5" fill="#6a3d9a"/>
<circle cx="365.6" cy="460.0" r="3.5" fill="#ff7f00"/>
<circle cx="353.4" cy="446.0" r="3.5" fill="#a6cee3"/>
<line x1="354.14" y1="450" x2="354.14" y2="462" stroke="#a9a9a9" stroke-width="2.8"/>
<circle cx="354.14" cy="459.2" r="4.6" fill="#a9a9a9"/>
<rect x="205" y="282.2" width="175.3" height="40.3" fill="#fff" stroke="#000" stroke-width="1.2" stroke-dasharray="2 2"/>
<circle cx="212.8" cy="293.5" r="3.5" fill="#a6cee3"/>
<text transform="translate(218.00,298.10) scale(1,1.07)" font-size="12.7" text-anchor="start" fill="#000" stroke="#000" stroke-width="0.3" font-weight="normal" font-style="normal" >0.5</text>
<circle cx="245.6" cy="293.5" r="3.5" fill="#1f78b4"/>
<text transform="translate(250.80,298.10) scale(1,1.07)" font-size="12.7" text-anchor="start" fill="#000" stroke="#000" stroke-width="0.3" font-weight="normal" font-style="normal" >1.0</text>
<circle cx="277.8" cy="293.5" r="3.5" fill="#b2df8a"/>
<text transform="translate(283.00,298.10) scale(1,1.07)" font-size="12.7" text-anchor="start" fill="#000" stroke="#000" stroke-width="0.3" font-weight="normal" font-style="normal" >1.3</text>
<circle cx="307.8" cy="293.5" r="3.5" fill="#33a02c"/>
<text transform="translate(313.00,298.10) scale(1,1.07)" font-size="12.7" text-anchor="start" fill="#000" stroke="#000" stroke-width="0.3" font-weight="normal" font-style="normal" >1.5</text>
<circle cx="336.5" cy="293.5" r="3.5" fill="#fb9a99"/>
<text transform="translate(341.70,298.10) scale(1,1.07)" font-size="12.7" text-anchor="start" fill="#000" stroke="#000" stroke-width="0.3" font-weight="normal" font-style="normal" >2.0</text>
<circle cx="212.8" cy="311.5" r="3.5" fill="#e31a1c"/>
<text transform="translate(218.00,316.10) scale(1,1.07)" font-size="12.7" text-anchor="start" fill="#000" stroke="#000" stroke-width="0.3" font-weight="normal" font-style="normal" >2.5</text>
<circle cx="245.6" cy="311.5" r="3.5" fill="#fdbf6f"/>
<text transform="translate(250.80,316.10) scale(1,1.07)" font-size="12.7" text-anchor="start" fill="#000" stroke="#000" stroke-width="0.3" font-weight="normal" font-style="normal" >3.0</text>
<circle cx="277.8" cy="311.5" r="3.5" fill="#ff7f00"/>
<text transform="translate(283.00,316.10) scale(1,1.07)" font-size="12.7" text-anchor="start" fill="#000" stroke="#000" stroke-width="0.3" font-weight="normal" font-style="normal" >4.0</text>
<circle cx="307.8" cy="311.5" r="3.5" fill="#cab2d6"/>
<text transform="translate(313.00,316.10) scale(1,1.07)" font-size="12.7" text-anchor="start" fill="#000" stroke="#000" stroke-width="0.3" font-weight="normal" font-style="normal" >5.0</text>
<circle cx="336.5" cy="311.5" r="3.5" fill="#6a3d9a"/>
<text transform="translate(341.70,316.10) scale(1,1.07)" font-size="12.7" text-anchor="start" fill="#000" stroke="#000" stroke-width="0.3" font-weight="normal" font-style="normal" >Pollen</text>
<text transform="translate(400.60,280.80) scale(1,1.07)" font-size="13.3" text-anchor="start" fill="#000" stroke="#000" stroke-width="0.3" font-weight="normal" font-style="normal" >C</text>
<text transform="translate(517.40,280.70) scale(1,1.07)" font-size="12.7" text-anchor="middle" fill="#000" stroke="#000" stroke-width="0.3" font-weight="normal" font-style="normal" >Eluclidean distance</text>
<line x1="405.8" y1="305.6" x2="488.4" y2="305.6" stroke="#000" stroke-width="2"/>
<line x1="413" y1="300.2" x2="413" y2="305.6" stroke="#000" stroke-width="1.6"/>
<line x1="428" y1="300.2" x2="428" y2="305.6" stroke="#000" stroke-width="1.6"/>
<line x1="442.9" y1="300.2" x2="442.9" y2="305.6" stroke="#000" stroke-width="1.6"/>
<line x1="457.8" y1="300.2" x2="457.8" y2="305.6" stroke="#000" stroke-width="1.6"/>
<line x1="472.8" y1="300.2" x2="472.8" y2="305.6" stroke="#000" stroke-width="1.6"/>
<line x1="487.6" y1="300.2" x2="487.6" y2="305.6" stroke="#000" stroke-width="1.6"/>
<text transform="translate(412.20,296.20) scale(1,1.07)" font-size="12.7" text-anchor="middle" fill="#000" stroke="#000" stroke-width="0.3" font-weight="normal" font-style="normal" >500</text>
<text transform="translate(488.20,296.20) scale(1,1.07)" font-size="12.7" text-anchor="middle" fill="#000" stroke="#000" stroke-width="0.3" font-weight="normal" font-style="normal" >0</text>
<line x1="540.4" y1="305.3" x2="617" y2="305.3" stroke="#000" stroke-width="2"/>
<line x1="541.4" y1="300" x2="541.4" y2="305.3" stroke="#000" stroke-width="1.6"/>
<line x1="556.3" y1="300" x2="556.3" y2="305.3" stroke="#000" stroke-width="1.6"/>
<line x1="571.3" y1="300" x2="571.3" y2="305.3" stroke="#000" stroke-width="1.6"/>
<line x1="586.2" y1="300" x2="586.2" y2="305.3" stroke="#000" stroke-width="1.6"/>
<line x1="601.2" y1="300" x2="601.2" y2="305.3" stroke="#000" stroke-width="1.6"/>
<line x1="616.1" y1="300" x2="616.1" y2="305.3" stroke="#000" stroke-width="1.6"/>
<text transform="translate(541.30,296.20) scale(1,1.07)" font-size="12.7" text-anchor="middle" fill="#000" stroke="#000" stroke-width="0.3" font-weight="normal" font-style="normal" >0</text>
<text transform="translate(615.30,296.20) scale(1,1.07)" font-size="12.7" text-anchor="middle" fill="#000" stroke="#000" stroke-width="0.3" font-weight="normal" font-style="normal" >500</text>
<text transform="translate(512.20,316.80) scale(1,1.07)" font-size="12.7" text-anchor="middle" fill="#000" stroke="#000" stroke-width="0.3" font-weight="normal" font-style="normal" >0.5</text>
<text transform="translate(512.20,334.85) scale(1,1.07)" font-size="12.7" text-anchor="middle" fill="#000" stroke="#000" stroke-width="0.3" font-weight="normal" font-style="normal" >1.0</text>
<text transform="translate(512.20,352.90) scale(1,1.07)" font-size="12.7" text-anchor="middle" fill="#000" stroke="#000" stroke-width="0.3" font-weight="normal" font-style="normal" >1.3</text>
<text transform="translate(512.20,370.95) scale(1,1.07)" font-size="12.7" text-anchor="middle" fill="#000" stroke="#000" stroke-width="0.3" font-weight="normal" font-style="normal" >1.5</text>
<text transform="translate(512.20,389.00) scale(1,1.07)" font-size="12.7" text-anchor="middle" fill="#000" stroke="#000" stroke-width="0.3" font-weight="normal" font-style="normal" >2.0</text>
<text transform="translate(512.20,407.05) scale(1,1.07)" font-size="12.7" text-anchor="middle" fill="#000" stroke="#000" stroke-width="0.3" font-weight="normal" font-style="normal" >2.5</text>
<text transform="translate(512.20,425.10) scale(1,1.07)" font-size="12.7" text-anchor="middle" fill="#000" stroke="#000" stroke-width="0.3" font-weight="normal" font-style="normal" >3.0</text>
<text transform="translate(512.20,443.15) scale(1,1.07)" font-size="12.7" text-anchor="middle" fill="#000" stroke="#000" stroke-width="0.3" font-weight="normal" font-style="normal" >4.0</text>
<text transform="translate(512.20,461.20) scale(1,1.07)" font-size="12.7" text-anchor="middle" fill="#000" stroke="#000" stroke-width="0.3" font-weight="normal" font-style="normal" >5.0</text>
<text transform="translate(512.60,480.25) scale(1,1.07)" font-size="12.7" text-anchor="middle" fill="#000" stroke="#000" stroke-width="0.3" font-weight="normal" font-style="normal" >Pollen</text>
<line x1="468.6" y1="312.2" x2="488.2" y2="312.2" stroke="#9cc5db" stroke-width="2" stroke-linecap="square"/>
<line x1="473.5" y1="330.2" x2="488.2" y2="330.2" stroke="#9cc5db" stroke-width="2" stroke-linecap="square"/>
<line x1="473.5" y1="348.3" x2="488.2" y2="348.3" stroke="#9cc5db" stroke-width="2" stroke-linecap="square"/>
<line x1="473.5" y1="330.2" x2="473.5" y2="348.3" stroke="#9cc5db" stroke-width="2" stroke-linecap="square"/>
<line x1="468.6" y1="339.3" x2="473.5" y2="339.3" stroke="#9cc5db" stroke-width="2" stroke-linecap="square"/>
<line x1="468.6" y1="312.2" x2="468.6" y2="339.3" stroke="#9cc5db" stroke-width="2" stroke-linecap="square"/>
<line x1="471.9" y1="366.4" x2="488.2" y2="366.4" stroke="#a3cc7a" stroke-width="2" stroke-linecap="square"/>
<line x1="471.9" y1="384.4" x2="488.2" y2="384.4" stroke="#a3cc7a" stroke-width="2" stroke-linecap="square"/>
<line x1="471.9" y1="366.4" x2="471.9" y2="384.4" stroke="#a3cc7a" stroke-width="2" stroke-linecap="square"/>
<line x1="473.1" y1="402.4" x2="488.2" y2="402.4" stroke="#a3cc7a" stroke-width="2" stroke-linecap="square"/>
<line x1="473.1" y1="420.5" x2="488.2" y2="420.5" stroke="#a3cc7a" stroke-width="2" stroke-linecap="square"/>
<line x1="473.1" y1="402.4" x2="473.1" y2="420.5" stroke="#a3cc7a" stroke-width="2" stroke-linecap="square"/>
<line x1="464.7" y1="375.4" x2="471.9" y2="375.4" stroke="#a3cc7a" stroke-width="2" stroke-linecap="square"/>
<line x1="464.7" y1="411.5" x2="473.1" y2="411.5" stroke="#a3cc7a" stroke-width="2" stroke-linecap="square"/>
<line x1="464.7" y1="375.4" x2="464.7" y2="411.5" stroke="#a3cc7a" stroke-width="2" stroke-linecap="square"/>
<line x1="458.8" y1="325.7" x2="468.6" y2="325.7" stroke="#000" stroke-width="2" stroke-linecap="square"/>
<line x1="458.8" y1="393.4" x2="464.7" y2="393.4" stroke="#000" stroke-width="2" stroke-linecap="square"/>
<line x1="458.8" y1="325.7" x2="458.8" y2="393.4" stroke="#000" stroke-width="2" stroke-linecap="square"/>
<line x1="451.3" y1="359.6" x2="458.8" y2="359.6" stroke="#000" stroke-width="2" stroke-linecap="square"/>
<line x1="451.3" y1="438.6" x2="488.2" y2="438.6" stroke="#e88a8c" stroke-width="2" stroke-linecap="square"/>
<line x1="451.3" y1="359.6" x2="451.3" y2="438.6" stroke="#000" stroke-width="2" stroke-linecap="square"/>
<line x1="435.8" y1="399.1" x2="451.3" y2="399.1" stroke="#000" stroke-width="2" stroke-linecap="square"/>
<line x1="435.8" y1="456.6" x2="488.2" y2="456.6" stroke="#eea85e" stroke-width="2" stroke-linecap="square"/>
<line x1="435.8" y1="399.1" x2="435.8" y2="456.6" stroke="#000" stroke-width="2" stroke-linecap="square"/>
<line x1="410.7" y1="427.8" x2="435.8" y2="427.8" stroke="#000" stroke-width="2" stroke-linecap="square"/>
<line x1="410.7" y1="474.6" x2="488.2" y2="474.6" stroke="#c3a6d3" stroke-width="2" stroke-linecap="square"/>
<line x1="410.7" y1="427.8" x2="410.7" y2="474.6" stroke="#000" stroke-width="2" stroke-linecap="square"/>
<line x1="541.2" y1="312.2" x2="558.7" y2="312.2" stroke="#9cc5db" stroke-width="2" stroke-linecap="square"/>
<line x1="541.2" y1="330.2" x2="554.8" y2="330.2" stroke="#9cc5db" stroke-width="2" stroke-linecap="square"/>
<line x1="541.2" y1="348.3" x2="554.8" y2="348.3" stroke="#9cc5db" stroke-width="2" stroke-linecap="square"/>
<line x1="554.8" y1="330.2" x2="554.8" y2="348.3" stroke="#9cc5db" stroke-width="2" stroke-linecap="square"/>
<line x1="554.8" y1="339.3" x2="558.7" y2="339.3" stroke="#9cc5db" stroke-width="2" stroke-linecap="square"/>
<line x1="558.7" y1="312.2" x2="558.7" y2="339.3" stroke="#9cc5db" stroke-width="2" stroke-linecap="square"/>
<line x1="558.7" y1="325.7" x2="572.4" y2="325.7" stroke="#8a9aa0" stroke-width="2" stroke-linecap="square"/>
<line x1="541.2" y1="366.4" x2="567.2" y2="366.4" stroke="#a3cc7a" stroke-width="2" stroke-linecap="square"/>
<line x1="541.2" y1="384.4" x2="560.3" y2="384.4" stroke="#a3cc7a" stroke-width="2" stroke-linecap="square"/>
<line x1="541.2" y1="402.4" x2="554.8" y2="402.4" stroke="#a3cc7a" stroke-width="2" stroke-linecap="square"/>
<line x1="541.2" y1="420.5" x2="554.8" y2="420.5" stroke="#a3cc7a" stroke-width="2" stroke-linecap="square"/>
<line x1="554.8" y1="402.4" x2="554.8" y2="420.5" stroke="#a3cc7a" stroke-width="2" stroke-linecap="square"/>
<line x1="554.8" y1="411.5" x2="560.3" y2="411.5" stroke="#a3cc7a" stroke-width="2" stroke-linecap="square"/>
<line x1="560.3" y1="384.4" x2="560.3" y2="411.5" stroke="#a3cc7a" stroke-width="2" stroke-linecap="square"/>
<line x1="560.3" y1="397.9" x2="567.2" y2="397.9" stroke="#a3cc7a" stroke-width="2" stroke-linecap="square"/>
<line x1="567.2" y1="366.4" x2="567.2" y2="397.9" stroke="#a3cc7a" stroke-width="2" stroke-linecap="square"/>
<line x1="567.2" y1="382.1" x2="572.4" y2="382.1" stroke="#8a9a80" stroke-width="2" stroke-linecap="square"/>
<line x1="572.4" y1="325.7" x2="572.4" y2="353.9" stroke="#9cc5db" stroke-width="2" stroke-linecap="square"/>
<line x1="572.4" y1="353.9" x2="572.4" y2="382.1" stroke="#a3cc7a" stroke-width="2" stroke-linecap="square"/>
<line x1="572.4" y1="353.9" x2="585.7" y2="353.9" stroke="#000" stroke-width="2" stroke-linecap="square"/>
<line x1="541.2" y1="438.6" x2="577.5" y2="438.6" stroke="#e88a8c" stroke-width="2" stroke-linecap="square"/>
<line x1="541.2" y1="456.6" x2="577.5" y2="456.6" stroke="#eea85e" stroke-width="2" stroke-linecap="square"/>
<line x1="577.5" y1="438.6" x2="577.5" y2="447.6" stroke="#e88a8c" stroke-width="2" stroke-linecap="square"/>
<line x1="577.5" y1="447.6" x2="577.5" y2="456.6" stroke="#eea85e" stroke-width="2" stroke-linecap="square"/>
<line x1="577.5" y1="447.6" x2="585.7" y2="447.6" stroke="#000" stroke-width="2" stroke-linecap="square"/>
<line x1="585.7" y1="353.9" x2="585.7" y2="447.6" stroke="#000" stroke-width="2" stroke-linecap="square"/>
<line x1="585.7" y1="400.8" x2="618.0" y2="400.8" stroke="#000" stroke-width="2" stroke-linecap="square"/>
<line x1="541.2" y1="474.6" x2="618.0" y2="474.6" stroke="#c3a6d3" stroke-width="2" stroke-linecap="square"/>
<line x1="618.0" y1="400.8" x2="618.0" y2="474.6" stroke="#000" stroke-width="2" stroke-linecap="square"/>
<text transform="translate(411.70,497.30) scale(1,1.07)" font-size="12.7" text-anchor="start" fill="#000" stroke="#000" stroke-width="0.3" font-weight="normal" font-style="normal" >Transcriptome</text>
<text transform="translate(546.70,497.40) scale(1,1.07)" font-size="12.7" text-anchor="start" fill="#000" stroke="#000" stroke-width="0.3" font-weight="normal" font-style="normal" >Translatome</text>
<defs><linearGradient id="gBlue" x1="0" y1="0" x2="0" y2="1"><stop offset="0" stop-color="#2f7bc4"/><stop offset="0.55" stop-color="#ffffff"/><stop offset="1" stop-color="#3d87cc"/></linearGradient><linearGradient id="gBlack" x1="0" y1="0" x2="0" y2="1"><stop offset="0" stop-color="#111"/><stop offset="0.58" stop-color="#e8e8e8"/><stop offset="1" stop-color="#222"/></linearGradient><linearGradient id="gPink" x1="0" y1="0" x2="0" y2="1"><stop offset="0" stop-color="#f07a76"/><stop offset="0.58" stop-color="#ffffff"/><stop offset="1" stop-color="#f08a86"/></linearGradient></defs>
<text transform="translate(20.50,530.10) scale(1,1.07)" font-size="13.3" text-anchor="start" fill="#000" stroke="#000" stroke-width="0.12" font-weight="bold" font-style="normal" >D</text>
<text transform="translate(67.30,530.00) scale(1,1.07)" font-size="12.7" text-anchor="start" fill="#000" stroke="#000" stroke-width="0.3" font-weight="normal" font-style="italic" >Zm00001eb417050</text>
<text transform="translate(245.4,528.4) scale(1,1.07)" font-size="12.7" fill="#e3141d" stroke="#e3141d" stroke-width="0.3">3’ ORF (<tspan font-style="italic">APV1</tspan>)</text>
<rect x="64.9" y="542.2" width="82.9" height="17.8" fill="url(#gBlue)"/>
<rect x="147.8" y="542.2" width="84.1" height="17.8" fill="url(#gBlack)"/>
<rect x="231.9" y="542.2" width="82.7" height="17.8" fill="url(#gPink)"/>
<text transform="translate(106.35,555.90) scale(1,1.07)" font-size="12.7" text-anchor="middle" fill="#000" stroke="#000" stroke-width="0.3" font-weight="normal" font-style="normal" >5’ UTR</text>
<text transform="translate(189.85,555.90) scale(1,1.07)" font-size="12.7" text-anchor="middle" fill="#000" stroke="#000" stroke-width="0.3" font-weight="normal" font-style="normal" >CDS</text>
<text transform="translate(273.75,555.90) scale(1,1.07)" font-size="12.7" text-anchor="middle" fill="#000" stroke="#000" stroke-width="0.3" font-weight="normal" font-style="normal" >3’ UTR</text>
<text transform="translate(20.10,580.00) scale(1,1.07)" font-size="12.7" text-anchor="start" fill="#000" stroke="#000" stroke-width="0.3" font-weight="normal" font-style="normal" >Isoform 1</text>
<line x1="77.9" y1="575.6" x2="314.6" y2="575.6" stroke="#000" stroke-width="1.5"/>
<rect x="148.5" y="570.9" width="83.3" height="9.2" fill="#999"/>
<polyline points="156.6,572.9 163.6,575.5 156.6,578.1" fill="none" stroke="#fff" stroke-width="1"/>
<polyline points="185.2,572.9 192.2,575.5 185.2,578.1" fill="none" stroke="#fff" stroke-width="1"/>
<polyline points="214.6,572.9 221.6,575.5 214.6,578.1" fill="none" stroke="#fff" stroke-width="1"/>
<text transform="translate(20.10,601.40) scale(1,1.07)" font-size="12.7" text-anchor="start" fill="#000" stroke="#000" stroke-width="0.3" font-weight="normal" font-style="normal" >Isoform 2</text>
<line x1="94" y1="596.6" x2="261.5" y2="596.6" stroke="#000" stroke-width="1.5"/>
<rect x="148.5" y="592.0" width="83.3" height="9.2" fill="#999"/>
<polyline points="156.6,594.0 163.6,596.6 156.6,599.2" fill="none" stroke="#fff" stroke-width="1"/>
<polyline points="185.2,594.0 192.2,596.6 185.2,599.2" fill="none" stroke="#fff" stroke-width="1"/>
<polyline points="214.6,594.0 221.6,596.6 214.6,599.2" fill="none" stroke="#fff" stroke-width="1"/>
<text transform="translate(20.10,632.30) scale(1,1.07)" font-size="12.7" text-anchor="start" fill="#000" stroke="#000" stroke-width="0.3" font-weight="normal" font-style="normal" >Isoform 3 (newly identified)</text>
<polyline points="263.4,623.8 263.4,614.3 285.5,614.3" fill="none" stroke="#000" stroke-width="1.5"/>
<polygon points="284.5,611.3 289.3,614.3 284.5,617.3" fill="#000"/>
<rect x="263.2" y="623.6" width="37.7" height="9.1" fill="#999"/>
<polyline points="267.6,625.5 274.6,628.1 267.6,630.8" fill="none" stroke="#fff" stroke-width="1"/>
<polyline points="289.2,625.5 296.2,628.1 289.2,630.8" fill="none" stroke="#fff" stroke-width="1"/>
<rect x="300.8" y="622.2" width="7.3" height="11.6" fill="#000"/>
<rect x="303.9" y="625.3" width="2.8" height="5.3" fill="#999"/>
<text transform="translate(191.50,651.60) scale(1,1.07)" font-size="12.7" text-anchor="middle" fill="#000" stroke="#000" stroke-width="0.3" font-weight="normal" font-style="normal" >RNA-seq reads</text>
<text transform="translate(191.50,709.00) scale(1,1.07)" font-size="12.7" text-anchor="middle" fill="#000" stroke="#000" stroke-width="0.3" font-weight="normal" font-style="normal" >Ribo-seq reads</text>
<rect x="66.7" y="653.9" width="4.8" height="38.2" fill="#85afd3"/>
<rect x="66.7" y="708.9" width="4.8" height="39.2" fill="#f5b88f"/>
<text transform="translate(74.70,662.70) scale(1,1.07)" font-size="10" text-anchor="start" fill="#000" stroke="#000" stroke-width="0.3" font-weight="normal" font-style="normal" >[0 - 50000]</text>
<text transform="translate(74.70,717.40) scale(1,1.07)" font-size="10" text-anchor="start" fill="#000" stroke="#000" stroke-width="0.3" font-weight="normal" font-style="normal" >[0 - 30000]</text>
<text transform="translate(62.70,672.20) scale(1,1.07)" font-size="12.7" text-anchor="end" fill="#000" stroke="#000" stroke-width="0.3" font-weight="normal" font-style="normal" >2.5 mm</text>
<text transform="translate(62.70,691.60) scale(1,1.07)" font-size="12.7" text-anchor="end" fill="#000" stroke="#000" stroke-width="0.3" font-weight="normal" font-style="normal" >3.0 mm</text>
<text transform="translate(62.70,725.20) scale(1,1.07)" font-size="12.7" text-anchor="end" fill="#000" stroke="#000" stroke-width="0.3" font-weight="normal" font-style="normal" >2.5 mm</text>
<text transform="translate(62.70,746.40) scale(1,1.07)" font-size="12.7" text-anchor="end" fill="#000" stroke="#000" stroke-width="0.3" font-weight="normal" font-style="normal" >3.0 mm</text>
<path d="M263,670.2 L263.0,668.6 L265.0,668.2 L276.0,668.2 L287.8,668.1 L287.8,669.8 L288.6,669.8 L288.6,668.2 L300.0,668.0 L303.0,666.5 L306.0,664.6 L307.5,664.2 L309.0,665.0 L310.0,667.0 L311.0,669.0 L311,670.2 Z" fill="#86afd0"/>
<path d="M262.8,692.1 L262.8,687.0 L264.0,685.5 L270.0,685.5 L276.0,685.0 L282.0,683.8 L287.5,683.2 L287.5,691.5 L288.6,691.5 L288.6,683.5 L292.0,681.5 L296.0,680.0 L300.0,678.6 L302.0,676.5 L304.0,676.0 L305.5,670.0 L306.5,668.0 L308.0,669.0 L309.0,684.0 L310.5,686.5 L311.5,688.0 L312.0,692.0 L312,692.1 Z" fill="#86afd0"/>
<line x1="76.2" y1="670.2" x2="315.6" y2="670.2" stroke="#7a7a7a" stroke-width="1.6"/>
<line x1="76.2" y1="692.1" x2="315.6" y2="692.1" stroke="#7a7a7a" stroke-width="1.6"/>
<rect x="263.0" y="725.6" width="1" height="1.5" fill="#f4b58c"/>
<rect x="264.5" y="723.6" width="1.2" height="3.5" fill="#f4b58c"/>
<rect x="266.0" y="723.3" width="1" height="3.8" fill="#f4b58c"/>
<rect x="268.0" y="725.6" width="2" height="1.5" fill="#f4b58c"/>
<rect x="270.0" y="724.9" width="1" height="2.2" fill="#f4b58c"/>
<rect x="271.5" y="724.1" width="1" height="3.0" fill="#f4b58c"/>
<rect x="273.0" y="725.5" width="2.5" height="1.6" fill="#f4b58c"/>
<rect x="275.5" y="725.9" width="1.5" height="1.2" fill="#f4b58c"/>
<rect x="277.0" y="724.6" width="1" height="2.5" fill="#f4b58c"/>
<rect x="278.5" y="723.1" width="1" height="4.0" fill="#f4b58c"/>
<rect x="280.0" y="715.1" width="1.2" height="12.0" fill="#f4b58c"/>
<rect x="281.3" y="718.1" width="1" height="9.0" fill="#f4b58c"/>
<rect x="282.5" y="725.1" width="1" height="2.0" fill="#f4b58c"/>
<rect x="284.7" y="721.6" width="1.3" height="5.5" fill="#f4b58c"/>
<rect x="290.0" y="723.6" width="1.3" height="3.5" fill="#f4b58c"/>
<rect x="291.3" y="724.6" width="1" height="2.5" fill="#f4b58c"/>
<rect x="298.0" y="726.1" width="3" height="1.0" fill="#f4b58c"/>
<rect x="303.0" y="723.6" width="1" height="3.5" fill="#f4b58c"/>
<rect x="304.5" y="725.1" width="1" height="2.0" fill="#f4b58c"/>
<rect x="306.0" y="725.6" width="1" height="1.5" fill="#f4b58c"/>
<rect x="263.3" y="746.2" width="1" height="3.0" fill="#f4b58c"/>
<rect x="264.8" y="737.2" width="1.3" height="12.0" fill="#f4b58c"/>
<rect x="266.2" y="741.2" width="1" height="8.0" fill="#f4b58c"/>
<rect x="267.8" y="746.7" width="3" height="2.5" fill="#f4b58c"/>
<rect x="271.0" y="746.4" width="3" height="2.8" fill="#f4b58c"/>
<rect x="274.0" y="747.0" width="3" height="2.2" fill="#f4b58c"/>
<rect x="277.3" y="744.2" width="1" height="5.0" fill="#f4b58c"/>
<rect x="278.8" y="746.7" width="1" height="2.5" fill="#f4b58c"/>
<rect x="280.2" y="727.7" width="1.5" height="21.5" fill="#f4b58c"/>
<rect x="281.8" y="738.2" width="1" height="11.0" fill="#f4b58c"/>
<rect x="283.0" y="746.7" width="1" height="2.5" fill="#f4b58c"/>
<rect x="285.6" y="733.2" width="1.5" height="16.0" fill="#f4b58c"/>
<rect x="287.2" y="746.2" width="1" height="3.0" fill="#f4b58c"/>
<rect x="289.8" y="738.2" width="1.4" height="11.0" fill="#f4b58c"/>
<rect x="291.3" y="746.2" width="1" height="3.0" fill="#f4b58c"/>
<rect x="292.7" y="747.7" width="3" height="1.5" fill="#f4b58c"/>
<rect x="297.0" y="748.0" width="4" height="1.2" fill="#f4b58c"/>
<rect x="303.2" y="741.2" width="1.2" height="8.0" fill="#f4b58c"/>
<rect x="304.6" y="745.2" width="1" height="4.0" fill="#f4b58c"/>
<rect x="306.0" y="747.7" width="2" height="1.5" fill="#f4b58c"/>
<line x1="76.2" y1="727.1" x2="315.6" y2="727.1" stroke="#7a7a7a" stroke-width="1.6"/>
<line x1="76.2" y1="749.2" x2="315.6" y2="749.2" stroke="#7a7a7a" stroke-width="1.6"/>
<rect x="262" y="539.2" width="47.2" height="213.8" fill="none" stroke="#e3141d" stroke-width="1.8"/>
<line x1="284.7" y1="529.5" x2="284.7" y2="535.3" stroke="#e3141d" stroke-width="1.1"/>
<polygon points="282.4,534.6999999999999 287.0,534.6999999999999 284.7,538.3" fill="#e3141d"/>
<g transform="translate(271.5,762.2)"><path d="M-4.7,0.2 C-4.8,-3 -2.2,-4.4 0.2,-4.3 C3,-4.2 4.9,-2.4 4.7,0.5 C4.5,3 2.6,4.6 0,4.6 C-2.7,4.6 -4.6,2.8 -4.7,0.2 Z" fill="#6e3b0e"/><line x1="-6" y1="0.4" x2="-2.6" y2="2.3" stroke="#000" stroke-width="1.1"/><line x1="2.4" y1="2.4" x2="5.8" y2="3.2" stroke="#000" stroke-width="1.1"/></g>
<g transform="translate(295.8,763.3)"><path d="M-4.7,0.2 C-4.8,-3 -2.2,-4.4 0.2,-4.3 C3,-4.2 4.9,-2.4 4.7,0.5 C4.5,3 2.6,4.6 0,4.6 C-2.7,4.6 -4.6,2.8 -4.7,0.2 Z" fill="#6e3b0e"/><line x1="-6" y1="0.4" x2="-2.6" y2="2.3" stroke="#000" stroke-width="1.1"/><line x1="2.4" y1="2.4" x2="5.8" y2="3.2" stroke="#000" stroke-width="1.1"/></g>
<g transform="translate(284.0,767.7)"><path d="M-4.7,0.2 C-4.8,-3 -2.2,-4.4 0.2,-4.3 C3,-4.2 4.9,-2.4 4.7,0.5 C4.5,3 2.6,4.6 0,4.6 C-2.7,4.6 -4.6,2.8 -4.7,0.2 Z" fill="#6e3b0e"/><line x1="-6" y1="0.4" x2="-2.6" y2="2.3" stroke="#000" stroke-width="1.1"/><line x1="2.4" y1="2.4" x2="5.8" y2="3.2" stroke="#000" stroke-width="1.1"/></g>
<g transform="translate(274.6,775.9)"><path d="M-4.7,0.2 C-4.8,-3 -2.2,-4.4 0.2,-4.3 C3,-4.2 4.9,-2.4 4.7,0.5 C4.5,3 2.6,4.6 0,4.6 C-2.7,4.6 -4.6,2.8 -4.7,0.2 Z" fill="#6e3b0e"/><line x1="-6" y1="0.4" x2="-2.6" y2="2.3" stroke="#000" stroke-width="1.1"/><line x1="2.4" y1="2.4" x2="5.8" y2="3.2" stroke="#000" stroke-width="1.1"/></g>
<g transform="translate(293.8,779.4)"><path d="M-4.7,0.2 C-4.8,-3 -2.2,-4.4 0.2,-4.3 C3,-4.2 4.9,-2.4 4.7,0.5 C4.5,3 2.6,4.6 0,4.6 C-2.7,4.6 -4.6,2.8 -4.7,0.2 Z" fill="#6e3b0e"/><line x1="-6" y1="0.4" x2="-2.6" y2="2.3" stroke="#000" stroke-width="1.1"/><line x1="2.4" y1="2.4" x2="5.8" y2="3.2" stroke="#000" stroke-width="1.1"/></g>
<path d="M280.4,787.2 C281,797 270,806 255,813.5" fill="none" stroke="#000" stroke-width="1.8"/>
<polygon points="249.4,817.2 256.1,807.8 256.6,813.1 260.9,816.1" fill="#000"/>
<path d="M225.5,816.5 L225.4,817.9 L225.4,819.3 L225.3,820.7 L225.2,822.1 L225.0,823.4 L224.8,824.8 L224.6,826.2 L224.3,827.6 L224.0,828.9 L223.7,830.3 L223.3,831.6 L222.9,833.0 L224.0,834.8 L224.2,836.5 L224.3,838.1 L224.2,839.7 L224.1,841.2 L223.8,842.8 L223.5,844.3 L223.1,845.8 L222.6,847.3 L222.0,848.8 L221.4,850.3 L220.7,851.7 L220.0,853.1 L219.2,854.4 L218.3,855.7 L217.4,857.0 L216.4,858.3 L215.4,859.5 L214.3,860.6 L213.2,861.7 L212.1,862.8 L210.8,863.8 L209.6,864.7 L208.3,865.6 L207.0,866.4 L205.6,867.2 L204.2,867.9 L202.8,868.6 L201.4,869.2 L199.9,869.7 L198.5,870.1 L197.0,870.5 L195.5,870.8 L193.9,871.0 L192.4,871.2 L190.9,871.3 L189.3,871.2 L187.8,871.1 L186.2,870.9 L184.7,870.5 L183.1,869.7 L181.6,869.1 L180.3,869.3 L178.9,869.5 L177.6,869.6 L176.2,869.7 L174.9,869.7 L173.5,869.7 L172.1,869.7 L170.8,869.7 L169.4,869.6 L168.1,869.5 L166.7,869.3 L165.4,869.1 L164.0,868.9 L162.7,868.6 L161.4,868.3 L160.1,867.9 L158.7,867.6 L157.4,867.1 L156.2,866.7 L154.9,866.2 L153.6,865.7 L152.4,865.1 L151.1,864.6 L149.9,863.9 L148.7,863.3 L147.5,862.6 L146.4,861.9 L145.2,861.2 L144.1,860.4 L143.0,859.6 L141.9,858.7 L140.8,857.9 L139.8,857.0 L138.7,856.1 L137.7,855.1 L136.8,854.1 L135.8,853.2 L134.9,852.1 L134.0,851.1 L133.1,850.0 L132.3,848.9 L131.5,847.8 L130.7,846.7 L129.9,845.5 L129.2,844.3 L128.5,843.1 L127.8,841.9 L127.2,840.7 L126.6,839.4 L126.0,838.2 L125.5,836.9 L125.0,835.6 L124.5,834.3 L124.1,833.0 L123.7,831.6 L123.3,830.3 L123.0,828.9 L122.7,827.6 L122.4,826.2 L122.2,824.8 L122.0,823.4 L121.8,822.1 L121.7,820.7 L121.6,819.3 L121.6,817.9 L121.5,816.5 L121.6,815.1 L121.6,813.7 L121.7,812.3 L121.8,810.9 L122.0,809.6 L122.2,808.2 L122.4,806.8 L122.7,805.4 L123.0,804.1 L123.3,802.7 L123.7,801.4 L124.1,800.0 L124.5,798.7 L125.0,797.4 L125.5,796.1 L126.0,794.8 L126.6,793.6 L127.2,792.3 L127.8,791.1 L128.5,789.9 L129.2,788.7 L129.9,787.5 L130.7,786.3 L131.5,785.2 L132.3,784.1 L133.1,783.0 L134.0,781.9 L134.9,780.9 L135.8,779.8 L136.8,778.9 L137.7,777.9 L138.7,776.9 L139.8,776.0 L140.8,775.1 L141.9,774.3 L143.0,773.4 L144.1,772.6 L145.2,771.8 L146.4,771.1 L147.5,770.4 L148.7,769.7 L149.9,769.1 L151.1,768.4 L152.4,767.9 L153.6,767.3 L154.9,766.8 L156.2,766.3 L157.4,765.9 L158.7,765.4 L160.1,765.1 L161.4,764.7 L162.7,764.4 L164.0,764.1 L165.4,763.9 L166.7,763.7 L168.1,763.5 L169.4,763.4 L170.8,763.3 L172.1,763.3 L173.5,763.3 L174.9,763.3 L176.2,763.3 L177.6,763.4 L178.9,763.5 L180.3,763.7 L181.6,763.9 L183.0,764.1 L184.3,764.4 L185.6,764.7 L186.9,765.1 L188.3,765.4 L189.6,765.9 L190.8,766.3 L192.1,766.8 L193.4,767.3 L194.6,767.9 L195.9,768.4 L197.1,769.1 L198.3,769.7 L199.5,770.4 L200.6,771.1 L201.8,771.8 L202.9,772.6 L204.0,773.4 L205.1,774.3 L206.2,775.1 L207.2,776.0 L208.3,776.9 L209.3,777.9 L210.2,778.9 L211.2,779.8 L212.1,780.9 L213.0,781.9 L213.9,783.0 L214.7,784.1 L215.5,785.2 L216.3,786.3 L217.1,787.5 L217.8,788.7 L218.5,789.9 L219.2,791.1 L219.8,792.3 L220.4,793.6 L221.0,794.8 L221.5,796.1 L222.0,797.4 L222.5,798.7 L222.9,800.0 L223.3,801.4 L223.7,802.7 L224.0,804.1 L224.3,805.4 L224.6,806.8 L224.8,808.2 L225.0,809.6 L225.2,810.9 L225.3,812.3 L225.4,813.7 L225.4,815.1 L225.5,816.5 Z M218.3,816.5 L218.3,815.3 L218.3,814.1 L218.2,812.9 L218.1,811.7 L218.0,810.5 L217.8,809.3 L217.6,808.1 L217.4,806.9 L217.1,805.8 L216.8,804.6 L216.5,803.4 L216.1,802.3 L215.8,801.2 L215.4,800.0 L214.9,798.9 L214.5,797.8 L214.0,796.7 L213.5,795.6 L212.9,794.6 L212.3,793.5 L211.7,792.5 L211.1,791.5 L210.5,790.5 L209.8,789.5 L209.1,788.5 L208.4,787.6 L207.6,786.7 L206.8,785.7 L206.0,784.9 L205.2,784.0 L204.4,783.2 L203.5,782.3 L202.6,781.6 L201.7,780.8 L200.8,780.0 L199.9,779.3 L198.9,778.6 L197.9,778.0 L196.9,777.3 L195.9,776.7 L194.9,776.1 L193.9,775.6 L192.8,775.0 L191.7,774.5 L190.7,774.0 L189.6,773.6 L188.5,773.2 L187.4,772.8 L186.2,772.4 L185.1,772.1 L184.0,771.8 L182.8,771.5 L181.7,771.3 L180.5,771.1 L179.4,770.9 L178.2,770.8 L177.0,770.7 L175.8,770.6 L174.7,770.6 L173.5,770.5 L172.3,770.6 L171.2,770.6 L170.0,770.7 L168.8,770.8 L167.6,770.9 L166.5,771.1 L165.3,771.3 L164.2,771.5 L163.0,771.8 L161.9,772.1 L160.8,772.4 L159.6,772.8 L158.5,773.2 L157.4,773.6 L156.3,774.0 L155.3,774.5 L154.2,775.0 L153.1,775.6 L152.1,776.1 L151.1,776.7 L150.1,777.3 L149.1,778.0 L148.1,778.6 L147.1,779.3 L146.2,780.0 L145.3,780.8 L144.4,781.6 L143.5,782.3 L142.6,783.2 L141.8,784.0 L141.0,784.9 L140.2,785.7 L139.4,786.7 L138.6,787.6 L137.9,788.5 L137.2,789.5 L136.5,790.5 L135.9,791.5 L135.3,792.5 L134.7,793.5 L134.1,794.6 L133.5,795.6 L133.0,796.7 L132.5,797.8 L132.1,798.9 L131.6,800.0 L131.2,801.2 L130.9,802.3 L130.5,803.4 L130.2,804.6 L129.9,805.8 L129.6,806.9 L129.4,808.1 L129.2,809.3 L129.0,810.5 L128.9,811.7 L128.8,812.9 L128.7,814.1 L128.7,815.3 L128.7,816.5 L128.7,817.7 L128.7,818.9 L128.8,820.1 L128.9,821.3 L129.0,822.5 L129.2,823.7 L129.4,824.9 L129.6,826.1 L129.9,827.2 L130.2,828.4 L130.5,829.6 L130.9,830.7 L131.2,831.8 L131.6,833.0 L132.1,834.1 L132.5,835.2 L133.0,836.3 L133.5,837.4 L134.1,838.4 L134.7,839.5 L135.3,840.5 L135.9,841.5 L136.5,842.5 L137.2,843.5 L137.9,844.5 L138.6,845.4 L139.4,846.3 L140.2,847.3 L141.0,848.1 L141.8,849.0 L142.6,849.8 L143.5,850.7 L144.4,851.4 L145.3,852.2 L146.2,853.0 L147.1,853.7 L148.1,854.4 L149.1,855.0 L150.1,855.7 L151.1,856.3 L152.1,856.9 L153.1,857.4 L154.2,858.0 L155.3,858.5 L156.3,859.0 L157.4,859.4 L158.5,859.8 L159.6,860.2 L160.8,860.6 L161.9,860.9 L163.0,861.2 L164.2,861.5 L165.3,861.7 L166.5,861.9 L167.6,862.1 L168.8,862.2 L170.0,862.3 L171.2,862.4 L172.3,862.4 L173.5,862.5 L174.7,862.4 L175.8,862.4 L177.0,862.3 L178.2,862.2 L179.4,862.1 L180.5,861.9 L181.7,861.7 L182.8,861.5 L184.0,861.2 L185.1,860.9 L186.2,860.6 L187.4,860.2 L188.5,859.8 L189.6,859.4 L190.7,859.0 L191.7,858.5 L192.8,858.0 L193.9,857.4 L194.9,856.9 L195.9,856.3 L196.9,855.7 L197.9,855.0 L198.9,854.4 L199.9,853.7 L200.8,853.0 L201.7,852.2 L202.6,851.4 L203.5,850.7 L204.4,849.8 L205.2,849.0 L206.0,848.1 L206.8,847.3 L207.6,846.3 L208.4,845.4 L209.1,844.5 L209.8,843.5 L210.5,842.5 L211.1,841.5 L211.7,840.5 L212.3,839.5 L212.9,838.4 L213.5,837.4 L214.0,836.3 L214.5,835.2 L214.9,834.1 L215.4,833.0 L215.8,831.8 L216.1,830.7 L216.5,829.6 L216.8,828.4 L217.1,827.2 L217.4,826.1 L217.6,824.9 L217.8,823.7 L218.0,822.5 L218.1,821.3 L218.2,820.1 L218.3,818.9 L218.3,817.7 L218.3,816.5 Z" fill="#000" fill-rule="evenodd" stroke="#000" stroke-width="1" stroke-linejoin="round"/>
<ellipse cx="173.5" cy="816.5" rx="45.8" ry="47.0" fill="none" stroke="#2e9e4a" stroke-width="1" stroke-dasharray="9 14" opacity="0.9"/>
<ellipse cx="222.2" cy="816.4" rx="3.6" ry="2.7" transform="rotate(90 222.2 816.4)" fill="#f5a023" stroke="#000" stroke-width="0.9"/>
<ellipse cx="221.3" cy="822.4" rx="3.1" ry="2.9" transform="rotate(111 221.3 822.4)" fill="#f5a023" stroke="#000" stroke-width="0.9"/>
<ellipse cx="220.6" cy="827.2" rx="2.7" ry="3.0" transform="rotate(112 220.6 827.2)" fill="#f5a023" stroke="#000" stroke-width="0.9"/>
<ellipse cx="220.8" cy="833.3" rx="3.6" ry="2.9" transform="rotate(114 220.8 833.3)" fill="#f5a023" stroke="#000" stroke-width="0.9"/>
<ellipse cx="216.7" cy="838.1" rx="2.7" ry="2.5" transform="rotate(101 216.7 838.1)" fill="#fff"/>
<ellipse cx="219.7" cy="843.1" rx="2.7" ry="2.5" transform="rotate(116 219.7 843.1)" fill="#fff"/>
<ellipse cx="214.4" cy="843.2" rx="2.7" ry="2.9" transform="rotate(113 214.4 843.2)" fill="#fff"/>
<ellipse cx="217.4" cy="848.9" rx="2.7" ry="2.9" transform="rotate(114 217.4 848.9)" fill="#fff"/>
<ellipse cx="211.4" cy="848.0" rx="2.7" ry="3.2" transform="rotate(127 211.4 848.0)" fill="#fff"/>
<ellipse cx="214.0" cy="854.4" rx="2.7" ry="3.2" transform="rotate(127 214.0 854.4)" fill="#fff"/>
<ellipse cx="206.6" cy="853.4" rx="2.7" ry="3.3" transform="rotate(137 206.6 853.4)" fill="#fff"/>
<ellipse cx="208.5" cy="860.3" rx="2.7" ry="3.3" transform="rotate(141 208.5 860.3)" fill="#fff"/>
<ellipse cx="202.7" cy="856.7" rx="2.7" ry="3.3" transform="rotate(148 202.7 856.7)" fill="#fff"/>
<ellipse cx="203.8" cy="863.8" rx="2.7" ry="3.3" transform="rotate(141 203.8 863.8)" fill="#fff"/>
<ellipse cx="198.2" cy="859.6" rx="2.7" ry="3.2" transform="rotate(164 198.2 859.6)" fill="#fff"/>
<ellipse cx="198.5" cy="866.5" rx="2.7" ry="3.2" transform="rotate(164 198.5 866.5)" fill="#fff"/>
<ellipse cx="192.1" cy="862.2" rx="2.7" ry="2.8" transform="rotate(163 192.1 862.2)" fill="#fff"/>
<ellipse cx="191.3" cy="868.6" rx="2.7" ry="2.8" transform="rotate(151 191.3 868.6)" fill="#fff"/>
<ellipse cx="187.7" cy="863.5" rx="2.7" ry="2.5" transform="rotate(156 187.7 863.5)" fill="#fff"/>
<ellipse cx="186.2" cy="869.0" rx="2.7" ry="2.5" transform="rotate(149 186.2 869.0)" fill="#fff"/>
<ellipse cx="181.5" cy="865.5" rx="3.5" ry="2.6" transform="rotate(193 181.5 865.5)" fill="#f5a023" stroke="#000" stroke-width="0.9"/>
<ellipse cx="175.7" cy="865.4" rx="2.8" ry="3.1" transform="rotate(176 175.7 865.4)" fill="#f5a023" stroke="#000" stroke-width="0.9"/>
<ellipse cx="169.9" cy="866.0" rx="2.7" ry="2.9" transform="rotate(-162 169.9 866.0)" fill="#f5a023" stroke="#000" stroke-width="0.9"/>
<ellipse cx="165.6" cy="865.0" rx="3.0" ry="3.2" transform="rotate(-157 165.6 865.0)" fill="#f5a023" stroke="#000" stroke-width="0.9"/>
<ellipse cx="160.3" cy="864.0" rx="2.7" ry="2.3" transform="rotate(-149 160.3 864.0)" fill="#f5a023" stroke="#000" stroke-width="0.9"/>
<ellipse cx="154.7" cy="862.5" rx="3.1" ry="2.4" transform="rotate(-145 154.7 862.5)" fill="#f5a023" stroke="#000" stroke-width="0.9"/>
<ellipse cx="149.6" cy="860.2" rx="2.8" ry="2.7" transform="rotate(-164 149.6 860.2)" fill="#f5a023" stroke="#000" stroke-width="0.9"/>
<ellipse cx="144.4" cy="857.3" rx="3.4" ry="2.5" transform="rotate(-124 144.4 857.3)" fill="#f5a023" stroke="#000" stroke-width="0.9"/>
<ellipse cx="140.6" cy="852.9" rx="3.5" ry="2.9" transform="rotate(-157 140.6 852.9)" fill="#f5a023" stroke="#000" stroke-width="0.9"/>
<ellipse cx="136.1" cy="847.6" rx="2.9" ry="3.0" transform="rotate(-137 136.1 847.6)" fill="#f5a023" stroke="#000" stroke-width="0.9"/>
<ellipse cx="133.6" cy="843.8" rx="2.7" ry="2.8" transform="rotate(-136 133.6 843.8)" fill="#f5a023" stroke="#000" stroke-width="0.9"/>
<ellipse cx="130.2" cy="838.6" rx="3.1" ry="3.2" transform="rotate(-117 130.2 838.6)" fill="#f5a023" stroke="#000" stroke-width="0.9"/>
<ellipse cx="127.2" cy="833.6" rx="2.8" ry="2.4" transform="rotate(-89 127.2 833.6)" fill="#f5a023" stroke="#000" stroke-width="0.9"/>
<ellipse cx="126.5" cy="827.4" rx="2.8" ry="3.0" transform="rotate(-80 126.5 827.4)" fill="#f5a023" stroke="#000" stroke-width="0.9"/>
<ellipse cx="124.6" cy="822.9" rx="3.5" ry="2.8" transform="rotate(-101 124.6 822.9)" fill="#f5a023" stroke="#000" stroke-width="0.9"/>
<ellipse cx="125.6" cy="817.2" rx="3.6" ry="2.5" transform="rotate(-81 125.6 817.2)" fill="#f5a023" stroke="#000" stroke-width="0.9"/>
<ellipse cx="124.7" cy="811.1" rx="3.2" ry="2.5" transform="rotate(-100 124.7 811.1)" fill="#f5a023" stroke="#000" stroke-width="0.9"/>
<ellipse cx="127.0" cy="804.8" rx="2.9" ry="2.8" transform="rotate(-59 127.0 804.8)" fill="#f5a023" stroke="#000" stroke-width="0.9"/>
<ellipse cx="128.2" cy="799.4" rx="3.5" ry="2.4" transform="rotate(-94 128.2 799.4)" fill="#f5a023" stroke="#000" stroke-width="0.9"/>
<ellipse cx="130.0" cy="794.5" rx="2.7" ry="2.4" transform="rotate(-71 130.0 794.5)" fill="#f5a023" stroke="#000" stroke-width="0.9"/>
<ellipse cx="133.5" cy="789.4" rx="3.0" ry="3.1" transform="rotate(-33 133.5 789.4)" fill="#f5a023" stroke="#000" stroke-width="0.9"/>
<ellipse cx="136.2" cy="784.1" rx="3.2" ry="2.4" transform="rotate(-74 136.2 784.1)" fill="#f5a023" stroke="#000" stroke-width="0.9"/>
<ellipse cx="139.1" cy="780.4" rx="3.3" ry="3.2" transform="rotate(-69 139.1 780.4)" fill="#f5a023" stroke="#000" stroke-width="0.9"/>
<ellipse cx="144.7" cy="776.4" rx="3.4" ry="2.6" transform="rotate(-12 144.7 776.4)" fill="#f5a023" stroke="#000" stroke-width="0.9"/>
<ellipse cx="148.5" cy="773.7" rx="3.4" ry="3.1" transform="rotate(-20 148.5 773.7)" fill="#f5a023" stroke="#000" stroke-width="0.9"/>
<ellipse cx="154.4" cy="770.2" rx="3.5" ry="2.6" transform="rotate(-14 154.4 770.2)" fill="#f5a023" stroke="#000" stroke-width="0.9"/>
<ellipse cx="160.1" cy="768.0" rx="3.1" ry="3.0" transform="rotate(2 160.1 768.0)" fill="#f5a023" stroke="#000" stroke-width="0.9"/>
<ellipse cx="165.1" cy="767.2" rx="3.0" ry="2.8" transform="rotate(-5 165.1 767.2)" fill="#f5a023" stroke="#000" stroke-width="0.9"/>
<ellipse cx="169.9" cy="766.6" rx="3.6" ry="3.1" transform="rotate(7 169.9 766.6)" fill="#f5a023" stroke="#000" stroke-width="0.9"/>
<ellipse cx="176.2" cy="766.4" rx="3.2" ry="2.7" transform="rotate(20 176.2 766.4)" fill="#f5a023" stroke="#000" stroke-width="0.9"/>
<ellipse cx="181.3" cy="766.9" rx="2.7" ry="2.8" transform="rotate(8 181.3 766.9)" fill="#f5a023" stroke="#000" stroke-width="0.9"/>
<ellipse cx="187.1" cy="768.3" rx="3.1" ry="2.8" transform="rotate(38 187.1 768.3)" fill="#f5a023" stroke="#000" stroke-width="0.9"/>
<ellipse cx="192.1" cy="771.3" rx="2.9" ry="2.9" transform="rotate(8 192.1 771.3)" fill="#f5a023" stroke="#000" stroke-width="0.9"/>
<ellipse cx="197.6" cy="772.5" rx="3.3" ry="2.7" transform="rotate(50 197.6 772.5)" fill="#f5a023" stroke="#000" stroke-width="0.9"/>
<ellipse cx="202.4" cy="776.2" rx="2.8" ry="2.7" transform="rotate(52 202.4 776.2)" fill="#f5a023" stroke="#000" stroke-width="0.9"/>
<ellipse cx="207.8" cy="780.3" rx="3.0" ry="2.8" transform="rotate(36 207.8 780.3)" fill="#f5a023" stroke="#000" stroke-width="0.9"/>
<ellipse cx="210.3" cy="784.0" rx="3.5" ry="3.1" transform="rotate(61 210.3 784.0)" fill="#f5a023" stroke="#000" stroke-width="0.9"/>
<ellipse cx="214.2" cy="790.0" rx="2.8" ry="2.7" transform="rotate(47 214.2 790.0)" fill="#f5a023" stroke="#000" stroke-width="0.9"/>
<ellipse cx="216.6" cy="793.8" rx="3.3" ry="2.7" transform="rotate(54 216.6 793.8)" fill="#f5a023" stroke="#000" stroke-width="0.9"/>
<ellipse cx="220.1" cy="799.8" rx="3.1" ry="2.3" transform="rotate(48 220.1 799.8)" fill="#f5a023" stroke="#000" stroke-width="0.9"/>
<ellipse cx="220.2" cy="805.8" rx="3.3" ry="2.8" transform="rotate(68 220.2 805.8)" fill="#f5a023" stroke="#000" stroke-width="0.9"/>
<ellipse cx="221.1" cy="811.3" rx="2.8" ry="2.7" transform="rotate(60 221.1 811.3)" fill="#f5a023" stroke="#000" stroke-width="0.9"/>
<path d="M221,840 L233.5,843.5 L231,847.5 L222,848 Z" fill="#f5a023" stroke="#000" stroke-width="1.3" stroke-linejoin="round"/>
<ellipse cx="148.2" cy="793.9" rx="10.3" ry="11.6" fill="#7e2c8e" stroke="#000" stroke-width="1.5"/>
<ellipse cx="184.9" cy="784.2" rx="10.7" ry="12" fill="#7e2c8e" stroke="#000" stroke-width="1.5"/>
<ellipse cx="203.2" cy="804" rx="11.6" ry="11.6" fill="#7e2c8e" stroke="#000" stroke-width="1.5"/>
<ellipse cx="142.7" cy="827" rx="11.3" ry="11.3" fill="#7e2c8e" stroke="#000" stroke-width="1.5"/>
<ellipse cx="202.4" cy="831.5" rx="11.8" ry="11.6" fill="#7e2c8e" stroke="#000" stroke-width="1.5"/>
<ellipse cx="172" cy="851.5" rx="11.6" ry="11.6" fill="#7e2c8e" stroke="#000" stroke-width="1.5"/>
<text transform="translate(171.50,822.00) scale(1,1.07)" font-size="11" text-anchor="middle" fill="#000" stroke="#000" stroke-width="0.3" font-weight="normal" font-style="normal" >WT</text>
<text transform="translate(357.30,530.10) scale(1,1.07)" font-size="13.3" text-anchor="start" fill="#000" stroke="#000" stroke-width="0.3" font-weight="normal" font-style="normal" >E</text>
<text transform="translate(424.10,529.60) scale(1,1.07)" font-size="12.7" text-anchor="start" fill="#000" stroke="#000" stroke-width="0.3" font-weight="normal" font-style="italic" >Zm00001eb417050</text>
<text transform="translate(551.8,530.5) scale(1,1.07)" font-size="12.7" fill="#e3141d" stroke="#e3141d" stroke-width="0.3">3’ ORF (<tspan font-style="italic">APV1</tspan>)</text>
<rect x="419.9" y="542.2" width="68.5" height="17.8" fill="url(#gBlue)"/>
<rect x="488.4" y="542.2" width="68.6" height="17.8" fill="url(#gBlack)"/>
<rect x="557" y="542.2" width="65.6" height="17.8" fill="url(#gPink)"/>
<text transform="translate(454.15,555.90) scale(1,1.07)" font-size="12.7" text-anchor="middle" fill="#000" stroke="#000" stroke-width="0.3" font-weight="normal" font-style="normal" >5’ UTR</text>
<text transform="translate(522.70,555.90) scale(1,1.07)" font-size="12.7" text-anchor="middle" fill="#000" stroke="#000" stroke-width="0.3" font-weight="normal" font-style="normal" >CDS</text>
<text transform="translate(590.30,555.90) scale(1,1.07)" font-size="12.7" text-anchor="middle" fill="#000" stroke="#000" stroke-width="0.3" font-weight="normal" font-style="normal" >3’ UTR</text>
<text transform="translate(356.60,582.80) scale(1,1.07)" font-size="12.7" text-anchor="start" fill="#000" stroke="#000" stroke-width="0.3" font-weight="normal" font-style="normal" >Isoform 1</text>
<line x1="431" y1="578.6" x2="624.2" y2="578.6" stroke="#000" stroke-width="1.5"/>
<rect x="488.9" y="574.2" width="67.6" height="8.8" fill="#999"/>
<polyline points="493.6,576.0 500.6,578.6 493.6,581.2" fill="none" stroke="#fff" stroke-width="1"/>
<polyline points="517.0,576.0 524.0,578.6 517.0,581.2" fill="none" stroke="#fff" stroke-width="1"/>
<polyline points="541.0,576.0 548.0,578.6 541.0,581.2" fill="none" stroke="#fff" stroke-width="1"/>
<text transform="translate(356.80,604.60) scale(1,1.07)" font-size="12.7" text-anchor="start" fill="#000" stroke="#000" stroke-width="0.3" font-weight="normal" font-style="normal" >Isoform 2</text>
<line x1="443.5" y1="601.2" x2="580.8" y2="601.2" stroke="#000" stroke-width="1.5"/>
<rect x="489.2" y="596.8" width="67.6" height="9.2" fill="#999"/>
<polyline points="493.6,598.8 500.6,601.4 493.6,604.0" fill="none" stroke="#fff" stroke-width="1"/>
<polyline points="517.0,598.8 524.0,601.4 517.0,604.0" fill="none" stroke="#fff" stroke-width="1"/>
<polyline points="541.0,598.8 548.0,601.4 541.0,604.0" fill="none" stroke="#fff" stroke-width="1"/>
<text transform="translate(356.80,624.60) scale(1,1.07)" font-size="12.7" text-anchor="start" fill="#000" stroke="#000" stroke-width="0.3" font-weight="normal" font-style="normal" >Mutated isoform 3 (+1bp insertion)</text>
<rect x="582.4" y="617.9" width="33.4" height="9.4" fill="#999"/>
<polyline points="585.6,620.0 592.6,622.6 585.6,625.2" fill="none" stroke="#fff" stroke-width="1"/>
<polyline points="600.2,620.0 607.2,622.6 600.2,625.2" fill="none" stroke="#fff" stroke-width="1"/>
<polygon points="605.9,610.8 612.6,610.8 609.3,616.6" fill="#e3141d"/>
<text transform="translate(356.80,654.90) scale(1,1.07)" font-size="12.7" text-anchor="start" fill="#000" stroke="#000" stroke-width="0.3" font-weight="normal" font-style="normal" >Mutated isoform 3 (Fragment deletion)</text>
<line x1="582.9" y1="637" x2="599" y2="637" stroke="#000" stroke-width="1.4"/><line x1="582.6" y1="637.5" x2="582.6" y2="646.6" stroke="#888" stroke-width="0.7"/>
<polygon points="598,634 602.6,637 598,640" fill="#000"/>
<line x1="585" y1="634" x2="592" y2="640" stroke="#000" stroke-width="1"/><line x1="585" y1="640" x2="592" y2="634" stroke="#000" stroke-width="1"/>
<rect x="582.4" y="646.9" width="27.2" height="9.7" fill="#999"/>
<polyline points="585.6,649.1 592.6,651.8 585.6,654.4" fill="none" stroke="#fff" stroke-width="1"/>
<polyline points="600.2,649.1 607.2,651.8 600.2,654.4" fill="none" stroke="#fff" stroke-width="1"/>
<rect x="609.6" y="646" width="6" height="11.5" fill="#000"/>
<rect x="612.1" y="649.1" width="2.3" height="5.3" fill="#999"/>
<rect x="580.8" y="540.2" width="35.8" height="122.2" fill="none" stroke="#e3141d" stroke-width="1.8"/>
<line x1="594.5" y1="532" x2="594.5" y2="536.8" stroke="#e3141d" stroke-width="1.1"/>
<polygon points="592.2,536.1999999999999 596.8,536.1999999999999 594.5,539.8" fill="#e3141d"/>
<path d="M593.5,669.3 C597,690 583,711 557,725" fill="none" stroke="#000" stroke-width="1.8"/>
<polygon points="550.7,727.7 558.9,719.6 558.5,724.9 562.2,728.6" fill="#000"/>
<path d="M430.3,706.2 L430.2,707.1 L430.0,707.9 L429.9,708.7 L429.8,709.5 L429.6,710.3 L429.5,711.1 L429.3,711.9 L429.2,712.8 L429.1,713.6 L428.9,714.4 L428.8,715.2 L428.6,716.0 L428.4,716.9 L428.3,717.7 L428.1,718.5 L428.0,719.4 L427.8,720.2 L427.7,721.1 L427.5,721.9 L427.3,722.8 L427.2,723.6 L427.0,724.5 L426.9,725.3 L426.8,726.1 L426.6,726.8 L426.4,727.7 L426.3,728.5 L426.1,729.4 L426.0,730.3 L425.8,731.2 L425.6,732.2 L425.5,733.2 L425.4,734.3 L425.3,735.4 L425.3,736.4 L425.3,737.6 L425.3,738.7 L425.3,739.7 L425.4,740.7 L425.4,741.7 L425.5,742.7 L425.6,743.6 L425.8,744.6 L425.9,745.5 L426.0,746.4 L426.2,747.3 L426.3,748.2 L426.5,749.1 L426.6,750.1 L426.8,751.0 L427.0,752.0 L427.3,753.0 L427.5,754.0 L427.8,755.0 L428.1,756.0 L428.5,757.0 L428.8,757.9 L429.2,758.8 L429.5,759.7 L429.9,760.6 L430.3,761.5 L430.8,762.5 L431.2,763.4 L431.7,764.3 L432.2,765.2 L432.7,766.1 L431.6,768.1 L431.4,769.6 L431.2,770.9 L431.1,772.0 L431.1,773.2 L431.2,774.3 L431.4,775.5 L431.7,776.7 L431.8,777.6 L432.2,778.8 L432.7,780.0 L433.2,781.2 L433.5,782.0 L434.2,783.2 L434.9,784.4 L435.4,785.2 L436.2,786.3 L437.1,787.5 L437.7,788.2 L438.5,789.2 L439.3,790.0 L439.9,790.6 L440.8,791.4 L441.4,792.0 L442.3,792.8 L443.3,793.5 L444.0,794.0 L445.0,794.7 L445.7,795.2 L446.8,795.8 L447.9,796.4 L448.7,796.8 L449.8,797.3 L450.6,797.6 L451.8,798.1 L452.6,798.3 L453.8,798.8 L454.7,798.9 L455.9,799.3 L456.8,799.4 L457.8,799.5 L458.8,799.6 L459.6,799.6 L460.6,799.6 L461.6,799.6 L462.6,799.5 L463.6,799.5 L464.7,799.4 L465.7,799.2 L467.0,799.0 L468.1,798.6 L469.3,798.1 L471.0,797.0 L471.9,796.9 L472.9,797.4 L473.7,797.7 L474.4,798.0 L475.5,798.4 L476.3,798.7 L477.4,799.1 L478.2,799.4 L479.4,799.8 L480.2,800.0 L481.0,800.2 L482.3,800.6 L483.2,800.7 L484.6,801.0 L485.4,801.1 L486.9,801.3 L487.7,801.3 L488.6,801.4 L489.9,801.4 L490.8,801.4 L492.1,801.4 L492.9,801.3 L494.2,801.2 L495.0,801.1 L495.9,801.0 L497.1,800.9 L497.9,800.7 L499.1,800.5 L499.9,800.3 L501.0,800.1 L501.9,799.9 L502.7,799.7 L503.8,799.4 L504.6,799.2 L505.7,798.9 L506.5,798.6 L507.5,798.3 L508.3,798.0 L509.4,797.6 L510.2,797.3 L511.0,797.0 L512.0,796.6 L512.8,796.3 L513.9,795.8 L514.7,795.4 L515.8,794.8 L516.6,794.4 L517.7,793.7 L518.4,793.2 L519.4,792.5 L520.1,792.0 L521.1,791.3 L521.8,790.8 L522.7,790.1 L523.5,789.4 L524.1,788.8 L524.9,788.1 L525.6,787.5 L526.3,786.8 L526.9,786.2 L527.6,785.5 L528.2,784.9 L528.9,784.2 L529.5,783.6 L530.1,783.0 L530.8,782.2 L531.4,781.5 L532.2,780.5 L533.0,779.5 L533.5,778.8 L534.2,777.8 L534.8,776.9 L535.2,776.2 L535.8,775.2 L536.3,774.3 L536.7,773.5 L537.1,772.7 L537.5,771.9 L537.9,771.2 L538.2,770.5 L538.5,770.1 L524.5,761.9 L523.9,762.9 L523.5,763.8 L523.1,764.6 L522.7,765.3 L522.3,766.0 L522.0,766.7 L521.7,767.2 L521.4,767.8 L520.9,768.5 L520.6,769.0 L520.3,769.4 L519.8,770.1 L519.6,770.4 L519.3,770.7 L518.8,771.4 L518.4,771.8 L517.8,772.4 L517.2,773.0 L516.7,773.5 L516.1,774.1 L515.6,774.6 L515.0,775.2 L514.5,775.7 L513.9,776.2 L513.4,776.7 L512.8,777.2 L512.3,777.6 L511.9,777.9 L511.2,778.5 L510.8,778.8 L510.1,779.3 L509.8,779.5 L509.1,780.0 L508.7,780.2 L508.0,780.6 L507.7,780.8 L506.9,781.1 L506.5,781.3 L505.7,781.7 L505.2,781.9 L504.4,782.2 L503.6,782.5 L503.0,782.7 L502.2,783.0 L501.7,783.2 L500.9,783.4 L500.3,783.6 L499.5,783.8 L498.9,784.0 L498.1,784.2 L497.3,784.4 L496.8,784.5 L495.9,784.6 L495.4,784.7 L494.6,784.8 L494.1,784.9 L493.3,785.0 L492.4,785.1 L492.0,785.1 L491.1,785.2 L490.8,785.2 L489.9,785.2 L489.6,785.2 L488.7,785.2 L487.9,785.1 L487.7,785.1 L486.8,785.0 L486.6,784.9 L485.7,784.7 L485.4,784.6 L484.6,784.4 L483.8,784.2 L483.4,784.0 L482.6,783.8 L482.1,783.6 L481.3,783.3 L480.7,783.1 L480.0,782.8 L479.2,782.4 L478.6,782.2 L477.8,781.8 L477.2,781.5 L476.4,781.2 L475.7,780.8 L475.0,780.5 L474.3,780.1 L473.6,779.8 L472.8,779.4 L472.1,779.0 L471.3,778.6 L470.6,778.2 L469.8,777.8 L469.0,777.5 L468.3,777.1 L467.6,776.7 L467.0,776.4 L466.2,776.0 L465.7,775.7 L464.9,775.2 L464.3,774.9 L463.6,774.5 L463.1,774.1 L462.3,773.7 L461.8,773.3 L461.2,772.9 L460.5,772.4 L460.0,772.0 L459.3,771.5 L458.7,771.1 L458.2,770.7 L457.5,770.2 L456.9,769.7 L456.3,769.2 L455.7,768.7 L455.2,768.3 L454.6,767.7 L454.2,767.4 L453.7,766.9 L453.1,766.3 L452.7,765.9 L452.3,765.4 L451.7,764.8 L451.3,764.3 L450.9,763.8 L450.5,763.3 L450.0,762.6 L449.5,762.0 L449.1,761.4 L448.7,760.8 L448.2,760.2 L447.7,759.5 L447.3,758.9 L447.0,758.3 L446.6,757.8 L446.3,757.2 L446.0,756.7 L445.7,756.1 L445.4,755.5 L445.1,754.9 L444.8,754.2 L444.5,753.6 L444.3,752.9 L444.0,752.2 L443.8,751.6 L443.6,751.0 L443.4,750.4 L443.2,749.7 L443.0,749.1 L442.8,748.4 L442.7,747.7 L442.6,747.0 L442.4,746.3 L442.3,745.5 L442.2,744.8 L442.0,744.0 L441.9,743.2 L441.8,742.4 L441.7,741.7 L441.6,741.0 L441.6,740.3 L441.5,739.6 L441.5,738.9 L441.5,738.2 L441.5,737.6 L441.5,737.1 L441.5,736.5 L441.5,735.9 L441.6,735.2 L441.7,734.5 L441.8,733.8 L441.9,733.1 L442.0,732.4 L442.2,731.6 L442.4,730.7 L442.5,729.9 L442.7,729.0 L442.8,728.1 L443.0,727.3 L443.1,726.4 L443.3,725.6 L443.4,724.8 L443.6,724.0 L443.7,723.2 L443.9,722.3 L444.1,721.5 L444.2,720.7 L444.4,719.9 L444.5,719.0 L444.7,718.2 L444.8,717.3 L445.0,716.5 L445.1,715.6 L445.3,714.8 L445.5,713.9 L445.6,713.0 L445.7,712.2 L445.9,711.3 L446.0,710.5 L446.2,709.6 L446.3,708.8 Z" fill="#000" stroke="#000" stroke-width="3" stroke-linejoin="round"/>
<polyline points="435.0,711.0 434.8,712.3 434.5,713.6 434.3,714.9 434.0,716.3 433.8,717.6 433.6,718.9 433.3,720.2 433.1,721.6 432.8,722.9 432.6,724.2 432.3,725.5 432.1,726.9 431.9,728.2 431.6,729.5 431.3,730.8 431.1,732.2 430.9,733.6 430.8,735.1 430.7,736.6 430.7,738.0 430.7,739.5 430.8,740.9 430.9,742.4 431.1,743.7 431.3,745.1 431.5,746.5 431.7,747.9 432.0,749.2 432.3,750.6 432.6,752.0 433.0,753.4 433.4,754.8 433.9,756.1 434.4,757.4 435.0,758.8 435.6,760.1 436.3,761.4 436.9,762.6 437.7,763.9 438.5,765.1 439.2,766.2 440.1,767.4 440.9,768.5 441.7,769.6 442.6,770.7 443.5,771.8 444.5,772.9 445.4,773.9 446.5,774.9 447.5,775.9 448.6,776.8 449.7,777.7 450.7,778.6 451.8,779.5 453.0,780.3 454.1,781.1 455.3,781.9 456.4,782.7 457.6,783.4 458.8,784.1 460.0,784.9 461.2,785.5 462.4,786.2 463.6,786.8 464.9,787.5 466.0,788.1 467.3,788.7 468.5,789.3 469.7,789.9 470.9,790.5 472.1,791.1 473.4,791.7 474.7,792.3 475.9,792.8 477.3,793.3 478.5,793.8 479.9,794.3 481.3,794.7 482.6,795.1 484.1,795.4 485.6,795.7 487.2,795.9 488.5,796.0 490.0,796.0 491.5,796.0 492.9,795.9 494.3,795.8 495.8,795.6 497.1,795.4 498.6,795.1 500.0,794.8 501.3,794.5 502.7,794.1 504.1,793.7 505.4,793.3 506.7,792.9 508.1,792.4 509.4,791.9 510.6,791.3 512.0,790.7 513.3,790.0 514.6,789.3 515.8,788.5 517.0,787.7 518.1,786.8 519.2,785.9 520.3,785.0 521.4,784.0 522.4,783.1 523.4,782.1 524.4,781.1 525.3,780.1 526.3,779.2 527.2,778.1 528.2,776.9 529.1,775.7 529.9,774.5 530.6,773.3 531.4,772.0 532.0,770.8" fill="none" stroke="#2e9e4a" stroke-width="1.4" stroke-dasharray="5 2.2"/>
<polyline points="440.3,711.9 440.1,713.2 439.8,714.6 439.6,715.9 439.4,717.2 439.1,718.6 438.9,719.9 438.6,721.2 438.4,722.5 438.1,723.9 437.9,725.2 437.7,726.5 437.4,727.8 437.2,729.2 436.9,730.5 436.7,731.8 436.4,733.1 436.3,734.3 436.1,735.5 436.1,736.8 436.1,738.0 436.1,739.2 436.2,740.5 436.3,741.7 436.4,743.0 436.6,744.3 436.8,745.6 437.0,746.9 437.3,748.2 437.5,749.4 437.8,750.6 438.2,751.9 438.5,753.0 439.0,754.2 439.4,755.4 439.9,756.6 440.5,757.7 441.0,758.8 441.6,759.9 442.3,761.0 442.9,762.1 443.7,763.1 444.4,764.2 445.2,765.3 446.0,766.3 446.8,767.3 447.6,768.3 448.4,769.2 449.3,770.1 450.2,771.0 451.1,771.9 452.1,772.7 453.1,773.5 454.1,774.4 455.1,775.1 456.1,775.9 457.2,776.7 458.2,777.4 459.4,778.2 460.5,778.9 461.5,779.5 462.7,780.2 463.8,780.8 464.9,781.4 466.1,782.0 467.3,782.6 468.5,783.3 469.7,783.9 470.9,784.5 472.1,785.1 473.3,785.6 474.5,786.2 475.6,786.8 476.8,787.3 478.0,787.8 479.2,788.3 480.5,788.8 481.6,789.2 482.8,789.5 484.1,789.9 485.2,790.1 486.4,790.3 487.5,790.5 488.8,790.6 490.0,790.6 491.2,790.6 492.6,790.5 493.8,790.4 495.0,790.3 496.3,790.0 497.5,789.8 498.7,789.6 500.0,789.2 501.3,788.9 502.5,788.6 503.7,788.2 504.9,787.8 506.1,787.3 507.3,786.9 508.6,786.4 509.7,785.8 510.7,785.3 511.7,784.7 512.7,784.0 513.9,783.3 514.8,782.5 515.8,781.7 516.8,780.9 517.7,780.1 518.7,779.2 519.6,778.2 520.5,777.3 521.5,776.4 522.4,775.4 523.2,774.5 524.0,773.6 524.7,772.6 525.4,771.6 526.0,770.5 526.6,769.4 527.2,768.3" fill="none" stroke="#2e9e4a" stroke-width="1.4" stroke-dasharray="6 2.4"/>
<polyline points="437.5,711.4 437.2,712.7 437.0,714.1 436.8,715.4 436.5,716.7 436.3,718.0 436.0,719.4 435.8,720.7 435.5,722.0 435.3,723.3 435.0,724.7 434.8,726.0 434.6,727.3 434.3,728.6 434.1,730.0 433.8,731.3 433.6,732.6 433.4,734.0 433.2,735.3 433.2,736.7 433.2,738.0 433.2,739.4 433.3,740.7 433.4,742.1 433.6,743.4 433.8,744.7 434.0,746.1 434.2,747.4 434.4,748.7 434.7,750.1 435.0,751.4 435.4,752.7 435.8,754.0 436.3,755.2 436.8,756.5 437.3,757.7 437.9,759.0 438.5,760.2 439.1,761.4 439.8,762.5 440.5,763.7 441.3,764.8 442.1,765.9 442.9,767.0 443.7,768.1 444.5,769.1 445.4,770.2 446.3,771.2 447.2,772.2 448.2,773.1 449.2,774.0 450.2,774.9 451.2,775.8 452.3,776.6 453.3,777.5 454.4,778.3 455.5,779.1 456.6,779.8 457.8,780.6 458.9,781.3 460.0,782.0 461.2,782.7 462.4,783.4 463.6,784.0 464.8,784.6 466.0,785.2 467.2,785.8 468.4,786.4 469.6,787.1 470.8,787.7 472.0,788.3 473.2,788.8 474.4,789.4 475.7,790.0 476.9,790.5 478.2,791.0 479.4,791.5 480.7,791.9 482.0,792.3 483.3,792.7 484.6,793.0 486.0,793.2 487.3,793.4 488.7,793.5 490.0,793.5 491.4,793.5 492.7,793.4 494.1,793.3 495.4,793.1 496.8,792.9 498.1,792.7 499.4,792.4 500.7,792.1 502.0,791.7 503.3,791.3 504.6,790.9 505.9,790.5 507.2,790.0 508.4,789.5 509.7,789.0 510.9,788.5 512.1,787.8 513.3,787.1 514.4,786.4 515.5,785.6 516.6,784.8 517.6,784.0 518.7,783.1 519.7,782.2 520.7,781.3 521.6,780.3 522.6,779.4 523.5,778.4 524.5,777.4 525.4,776.4 526.2,775.4 527.0,774.3 527.8,773.2 528.5,772.0 529.2,770.8 529.8,769.6" fill="none" stroke="#fff" stroke-width="0.8" stroke-dasharray="14 10"/>
<ellipse cx="431.2" cy="706.3" rx="3.0" ry="2.6" transform="rotate(98 431.2 706.3)" fill="#f5a023" stroke="#000" stroke-width="1"/>
<ellipse cx="445.4" cy="708.7" rx="3.0" ry="2.7" transform="rotate(100 445.4 708.7)" fill="#f5a023" stroke="#000" stroke-width="1"/>
<ellipse cx="430.2" cy="710.9" rx="2.6" ry="2.2" transform="rotate(93 430.2 710.9)" fill="#f5a023" stroke="#000" stroke-width="1"/>
<ellipse cx="445.0" cy="713.4" rx="2.5" ry="2.7" transform="rotate(86 445.0 713.4)" fill="#f5a023" stroke="#000" stroke-width="1"/>
<ellipse cx="429.6" cy="715.5" rx="2.5" ry="2.9" transform="rotate(113 429.6 715.5)" fill="#f5a023" stroke="#000" stroke-width="1"/>
<ellipse cx="444.4" cy="718.2" rx="2.9" ry="2.2" transform="rotate(92 444.4 718.2)" fill="#f5a023" stroke="#000" stroke-width="1"/>
<ellipse cx="428.5" cy="720.1" rx="2.5" ry="2.8" transform="rotate(94 428.5 720.1)" fill="#f5a023" stroke="#000" stroke-width="1"/>
<ellipse cx="442.8" cy="722.7" rx="3.1" ry="2.3" transform="rotate(122 442.8 722.7)" fill="#f5a023" stroke="#000" stroke-width="1"/>
<ellipse cx="427.7" cy="724.8" rx="2.9" ry="2.4" transform="rotate(99 427.7 724.8)" fill="#f5a023" stroke="#000" stroke-width="1"/>
<ellipse cx="442.0" cy="727.3" rx="2.5" ry="2.8" transform="rotate(87 442.0 727.3)" fill="#f5a023" stroke="#000" stroke-width="1"/>
<ellipse cx="426.5" cy="729.3" rx="2.6" ry="2.8" transform="rotate(120 426.5 729.3)" fill="#f5a023" stroke="#000" stroke-width="1"/>
<ellipse cx="441.7" cy="732.1" rx="3.0" ry="2.6" transform="rotate(112 441.7 732.1)" fill="#f5a023" stroke="#000" stroke-width="1"/>
<ellipse cx="426.4" cy="734.9" rx="2.8" ry="2.7" transform="rotate(79 426.4 734.9)" fill="#f5a023" stroke="#000" stroke-width="1"/>
<ellipse cx="441.3" cy="735.9" rx="3.1" ry="2.5" transform="rotate(87 441.3 735.9)" fill="#f5a023" stroke="#000" stroke-width="1"/>
<ellipse cx="426.0" cy="740.6" rx="2.7" ry="2.9" transform="rotate(80 426.0 740.6)" fill="#f5a023" stroke="#000" stroke-width="1"/>
<ellipse cx="440.4" cy="739.6" rx="2.5" ry="2.7" transform="rotate(111 440.4 739.6)" fill="#f5a023" stroke="#000" stroke-width="1"/>
<ellipse cx="426.6" cy="745.8" rx="2.8" ry="2.6" transform="rotate(94 426.6 745.8)" fill="#f5a023" stroke="#000" stroke-width="1"/>
<ellipse cx="441.1" cy="743.7" rx="2.9" ry="2.6" transform="rotate(88 441.1 743.7)" fill="#f5a023" stroke="#000" stroke-width="1"/>
<ellipse cx="427.8" cy="750.8" rx="2.6" ry="2.4" transform="rotate(100 427.8 750.8)" fill="#f5a023" stroke="#000" stroke-width="1"/>
<ellipse cx="441.9" cy="747.9" rx="2.9" ry="2.4" transform="rotate(58 441.9 747.9)" fill="#f5a023" stroke="#000" stroke-width="1"/>
<ellipse cx="429.3" cy="756.3" rx="3.1" ry="2.7" transform="rotate(64 429.3 756.3)" fill="#f5a023" stroke="#000" stroke-width="1"/>
<ellipse cx="443.2" cy="751.4" rx="3.0" ry="2.8" transform="rotate(94 443.2 751.4)" fill="#f5a023" stroke="#000" stroke-width="1"/>
<ellipse cx="431.0" cy="761.3" rx="3.2" ry="2.8" transform="rotate(70 431.0 761.3)" fill="#f5a023" stroke="#000" stroke-width="1"/>
<ellipse cx="444.9" cy="755.1" rx="2.8" ry="2.5" transform="rotate(53 444.9 755.1)" fill="#f5a023" stroke="#000" stroke-width="1"/>
<ellipse cx="432.1" cy="767.5" rx="2.6" ry="2.3" transform="rotate(73 432.1 767.5)" fill="#f5a023" stroke="#000" stroke-width="1"/>
<ellipse cx="446.5" cy="758.3" rx="2.8" ry="2.8" transform="rotate(35 446.5 758.3)" fill="#f5a023" stroke="#000" stroke-width="1"/>
<ellipse cx="436.8" cy="770.6" rx="2.2" ry="2.1" transform="rotate(45 436.8 770.6)" fill="#fff"/>
<ellipse cx="432.4" cy="773.7" rx="2.2" ry="2.1" transform="rotate(46 432.4 773.7)" fill="#fff"/>
<ellipse cx="448.6" cy="762.0" rx="2.6" ry="2.3" transform="rotate(46 448.6 762.0)" fill="#f5a023" stroke="#000" stroke-width="1"/>
<ellipse cx="439.5" cy="775.1" rx="2.2" ry="2.7" transform="rotate(66 439.5 775.1)" fill="#fff"/>
<ellipse cx="434.5" cy="779.3" rx="2.2" ry="2.7" transform="rotate(69 434.5 779.3)" fill="#fff"/>
<ellipse cx="451.4" cy="765.1" rx="2.8" ry="2.4" transform="rotate(73 451.4 765.1)" fill="#f5a023" stroke="#000" stroke-width="1"/>
<ellipse cx="443.1" cy="779.5" rx="2.2" ry="3.1" transform="rotate(44 443.1 779.5)" fill="#fff"/>
<ellipse cx="438.1" cy="784.8" rx="2.2" ry="3.1" transform="rotate(53 438.1 784.8)" fill="#fff"/>
<ellipse cx="453.6" cy="768.3" rx="2.6" ry="2.8" transform="rotate(58 453.6 768.3)" fill="#f5a023" stroke="#000" stroke-width="1"/>
<ellipse cx="447.2" cy="783.2" rx="2.2" ry="3.3" transform="rotate(53 447.2 783.2)" fill="#fff"/>
<ellipse cx="442.4" cy="789.3" rx="2.2" ry="3.3" transform="rotate(42 442.4 789.3)" fill="#fff"/>
<ellipse cx="457.0" cy="770.7" rx="2.9" ry="2.8" transform="rotate(29 457.0 770.7)" fill="#f5a023" stroke="#000" stroke-width="1"/>
<ellipse cx="451.3" cy="786.3" rx="2.2" ry="3.4" transform="rotate(36 451.3 786.3)" fill="#fff"/>
<ellipse cx="446.9" cy="792.7" rx="2.2" ry="3.4" transform="rotate(26 446.9 792.7)" fill="#fff"/>
<ellipse cx="460.6" cy="773.0" rx="2.5" ry="2.7" transform="rotate(58 460.6 773.0)" fill="#f5a023" stroke="#000" stroke-width="1"/>
<ellipse cx="455.8" cy="789.0" rx="2.2" ry="3.2" transform="rotate(12 455.8 789.0)" fill="#fff"/>
<ellipse cx="451.9" cy="795.4" rx="2.2" ry="3.2" transform="rotate(35 451.9 795.4)" fill="#fff"/>
<ellipse cx="464.1" cy="775.3" rx="3.1" ry="2.6" transform="rotate(19 464.1 775.3)" fill="#f5a023" stroke="#000" stroke-width="1"/>
<ellipse cx="460.6" cy="791.3" rx="2.2" ry="2.9" transform="rotate(24 460.6 791.3)" fill="#fff"/>
<ellipse cx="457.4" cy="797.4" rx="2.2" ry="2.9" transform="rotate(46 457.4 797.4)" fill="#fff"/>
<ellipse cx="467.9" cy="777.2" rx="2.6" ry="2.3" transform="rotate(7 467.9 777.2)" fill="#f5a023" stroke="#000" stroke-width="1"/>
<ellipse cx="465.1" cy="792.9" rx="2.2" ry="2.3" transform="rotate(8 465.1 792.9)" fill="#fff"/>
<ellipse cx="462.5" cy="798.1" rx="2.2" ry="2.3" transform="rotate(25 462.5 798.1)" fill="#fff"/>
<ellipse cx="471.7" cy="779.9" rx="3.1" ry="2.6" transform="rotate(8 471.7 779.9)" fill="#f5a023" stroke="#000" stroke-width="1"/>
<ellipse cx="468.0" cy="798.2" rx="2.7" ry="2.5" transform="rotate(12 468.0 798.2)" fill="#f5a023" stroke="#000" stroke-width="1"/>
<ellipse cx="475.8" cy="781.9" rx="2.6" ry="2.5" transform="rotate(36 475.8 781.9)" fill="#f5a023" stroke="#000" stroke-width="1"/>
<ellipse cx="474.1" cy="797.2" rx="2.5" ry="2.7" transform="rotate(42 474.1 797.2)" fill="#f5a023" stroke="#000" stroke-width="1"/>
<ellipse cx="480.0" cy="783.2" rx="3.0" ry="2.2" transform="rotate(21 480.0 783.2)" fill="#f5a023" stroke="#000" stroke-width="1"/>
<ellipse cx="479.2" cy="798.6" rx="3.0" ry="2.3" transform="rotate(29 479.2 798.6)" fill="#f5a023" stroke="#000" stroke-width="1"/>
<ellipse cx="483.7" cy="785.1" rx="3.0" ry="2.4" transform="rotate(-4 483.7 785.1)" fill="#f5a023" stroke="#000" stroke-width="1"/>
<ellipse cx="485.0" cy="800.3" rx="2.7" ry="2.8" transform="rotate(-2 485.0 800.3)" fill="#f5a023" stroke="#000" stroke-width="1"/>
<ellipse cx="487.0" cy="785.6" rx="2.9" ry="2.8" transform="rotate(-12 487.0 785.6)" fill="#f5a023" stroke="#000" stroke-width="1"/>
<ellipse cx="490.7" cy="800.9" rx="2.8" ry="2.7" transform="rotate(23 490.7 800.9)" fill="#f5a023" stroke="#000" stroke-width="1"/>
<ellipse cx="490.7" cy="786.0" rx="3.0" ry="2.6" transform="rotate(3 490.7 786.0)" fill="#f5a023" stroke="#000" stroke-width="1"/>
<ellipse cx="496.5" cy="799.9" rx="3.1" ry="2.8" transform="rotate(-16 496.5 799.9)" fill="#f5a023" stroke="#000" stroke-width="1"/>
<ellipse cx="494.2" cy="785.7" rx="3.2" ry="2.3" transform="rotate(-30 494.2 785.7)" fill="#f5a023" stroke="#000" stroke-width="1"/>
<ellipse cx="501.6" cy="798.9" rx="3.1" ry="2.7" transform="rotate(-16 501.6 798.9)" fill="#f5a023" stroke="#000" stroke-width="1"/>
<ellipse cx="498.2" cy="784.7" rx="2.5" ry="2.6" transform="rotate(-16 498.2 784.7)" fill="#f5a023" stroke="#000" stroke-width="1"/>
<ellipse cx="506.7" cy="797.9" rx="2.7" ry="2.5" transform="rotate(-31 506.7 797.9)" fill="#f5a023" stroke="#000" stroke-width="1"/>
<ellipse cx="502.4" cy="784.0" rx="2.8" ry="2.4" transform="rotate(-7 502.4 784.0)" fill="#f5a023" stroke="#000" stroke-width="1"/>
<ellipse cx="511.9" cy="796.3" rx="3.0" ry="2.5" transform="rotate(-36 511.9 796.3)" fill="#f5a023" stroke="#000" stroke-width="1"/>
<ellipse cx="506.1" cy="782.3" rx="2.8" ry="2.6" transform="rotate(1 506.1 782.3)" fill="#f5a023" stroke="#000" stroke-width="1"/>
<ellipse cx="516.9" cy="793.0" rx="2.8" ry="2.5" transform="rotate(-21 516.9 793.0)" fill="#f5a023" stroke="#000" stroke-width="1"/>
<ellipse cx="509.0" cy="780.4" rx="3.0" ry="2.6" transform="rotate(-19 509.0 780.4)" fill="#f5a023" stroke="#000" stroke-width="1"/>
<ellipse cx="521.8" cy="790.1" rx="3.1" ry="2.7" transform="rotate(-30 521.8 790.1)" fill="#f5a023" stroke="#000" stroke-width="1"/>
<ellipse cx="512.4" cy="778.7" rx="3.1" ry="2.5" transform="rotate(-34 512.4 778.7)" fill="#f5a023" stroke="#000" stroke-width="1"/>
<ellipse cx="525.9" cy="786.7" rx="3.2" ry="2.9" transform="rotate(-69 525.9 786.7)" fill="#f5a023" stroke="#000" stroke-width="1"/>
<ellipse cx="515.4" cy="775.9" rx="2.7" ry="2.5" transform="rotate(-62 515.4 775.9)" fill="#f5a023" stroke="#000" stroke-width="1"/>
<ellipse cx="529.2" cy="783.0" rx="2.5" ry="2.4" transform="rotate(-24 529.2 783.0)" fill="#f5a023" stroke="#000" stroke-width="1"/>
<ellipse cx="518.3" cy="772.5" rx="2.8" ry="2.3" transform="rotate(-23 518.3 772.5)" fill="#f5a023" stroke="#000" stroke-width="1"/>
<ellipse cx="533.1" cy="778.6" rx="2.6" ry="2.4" transform="rotate(-47 533.1 778.6)" fill="#f5a023" stroke="#000" stroke-width="1"/>
<ellipse cx="520.7" cy="769.8" rx="2.7" ry="2.8" transform="rotate(-63 520.7 769.8)" fill="#f5a023" stroke="#000" stroke-width="1"/>
<ellipse cx="535.7" cy="773.6" rx="3.1" ry="2.3" transform="rotate(-53 535.7 773.6)" fill="#f5a023" stroke="#000" stroke-width="1"/>
<ellipse cx="523.0" cy="766.8" rx="2.9" ry="2.4" transform="rotate(-68 523.0 766.8)" fill="#f5a023" stroke="#000" stroke-width="1"/>
<ellipse cx="538.3" cy="769.9" rx="2.8" ry="2.5" transform="rotate(-54 538.3 769.9)" fill="#f5a023" stroke="#000" stroke-width="1"/>
<ellipse cx="525.2" cy="762.4" rx="2.6" ry="2.5" transform="rotate(-71 525.2 762.4)" fill="#f5a023" stroke="#000" stroke-width="1"/>
<ellipse cx="441.7" cy="706.8" rx="2.2" ry="2.6" fill="#f5a023" stroke="#000" stroke-width="1"/>
<ellipse cx="435.3" cy="705.8" rx="2.2" ry="2.6" fill="#f5a023" stroke="#000" stroke-width="1"/>
<ellipse cx="529.3" cy="763.4" rx="2.2" ry="2.6" fill="#f5a023" stroke="#000" stroke-width="1"/>
<ellipse cx="534.9" cy="766.6" rx="2.2" ry="2.6" fill="#f5a023" stroke="#000" stroke-width="1"/>
<path d="M419.5,778.5 L428,773 L431.5,778 L424,781.5 Z" fill="#f5a023" stroke="#000" stroke-width="1.4" stroke-linejoin="round"/>
<text transform="translate(470.00,742.40) scale(1,1.07)" font-size="12.7" text-anchor="start" fill="#000" stroke="#000" stroke-width="0.3" font-weight="normal" font-style="italic" >apv1</text>
<polygon points="361.9,825 368.3,825 365.1,830.8" fill="#e3141d"/>
<text transform="translate(379.30,832.80) scale(1,1.07)" font-size="12.7" text-anchor="start" fill="#000" stroke="#000" stroke-width="0.3" font-weight="normal" font-style="normal" >1bp insertion site</text>
<rect x="361.9" y="840" width="7.9" height="11.7" fill="#000"/><rect x="364.9" y="842.5" width="2.3" height="6.6" fill="#e6e6e6"/>
<text transform="translate(379.30,850.90) scale(1,1.07)" font-size="12.7" text-anchor="start" fill="#000" stroke="#000" stroke-width="0.3" font-weight="normal" font-style="normal" >Deleted fragment</text>
<g transform="translate(365.0,862.2) scale(0.52)"><ellipse cx="0" cy="-2.4" rx="10.3" ry="5.5" fill="#6e3b0e"/><ellipse cx="0" cy="4.3" rx="6.9" ry="4.1" fill="#6e3b0e"/><path d="M-10.6,5 Q-8.2,3.2 -5.6,3.4" fill="none" stroke="#000" stroke-width="2.0" stroke-linecap="round"/><path d="M5.2,4 Q8.6,3.2 10.6,0.6" fill="none" stroke="#000" stroke-width="2.0" stroke-linecap="round"/></g>
<text transform="translate(379.30,866.90) scale(1,1.07)" font-size="12.7" text-anchor="start" fill="#000" stroke="#000" stroke-width="0.3" font-weight="normal" font-style="normal" >Translating ribosome</text>
<polyline points="518.4,832.6 518.4,825.9 509.5,825.9" fill="none" stroke="#231815" stroke-width="1.5"/>
<polygon points="510.8,822.9 504.9,826.1 510.8,829.3" fill="#231815"/>
<text transform="translate(527.00,831.80) scale(1,1.07)" font-size="12.7" text-anchor="start" fill="#000" stroke="#000" stroke-width="0.3" font-weight="normal" font-style="normal" >Active translation</text>
<polyline points="517.9,849.9 517.9,844.4 509.5,844.4" fill="none" stroke="#231815" stroke-width="1.5"/>
<polygon points="510.8,841.2 504.9,844.4 510.8,847.6" fill="#231815"/>
<polyline points="513.6,841.6 510.4,844.4 513.6,847.2" fill="none" stroke="#231815" stroke-width="1.2"/>
<line x1="513.5" y1="841.5" x2="516.8" y2="847.3" stroke="#231815" stroke-width="1"/><line x1="513.5" y1="847.3" x2="516.8" y2="841.5" stroke="#231815" stroke-width="1"/>
<text transform="translate(525.70,849.80) scale(1,1.07)" font-size="12.7" text-anchor="start" fill="#000" stroke="#000" stroke-width="0.3" font-weight="normal" font-style="normal" >Silent translation</text>
</svg>
</body></html>
